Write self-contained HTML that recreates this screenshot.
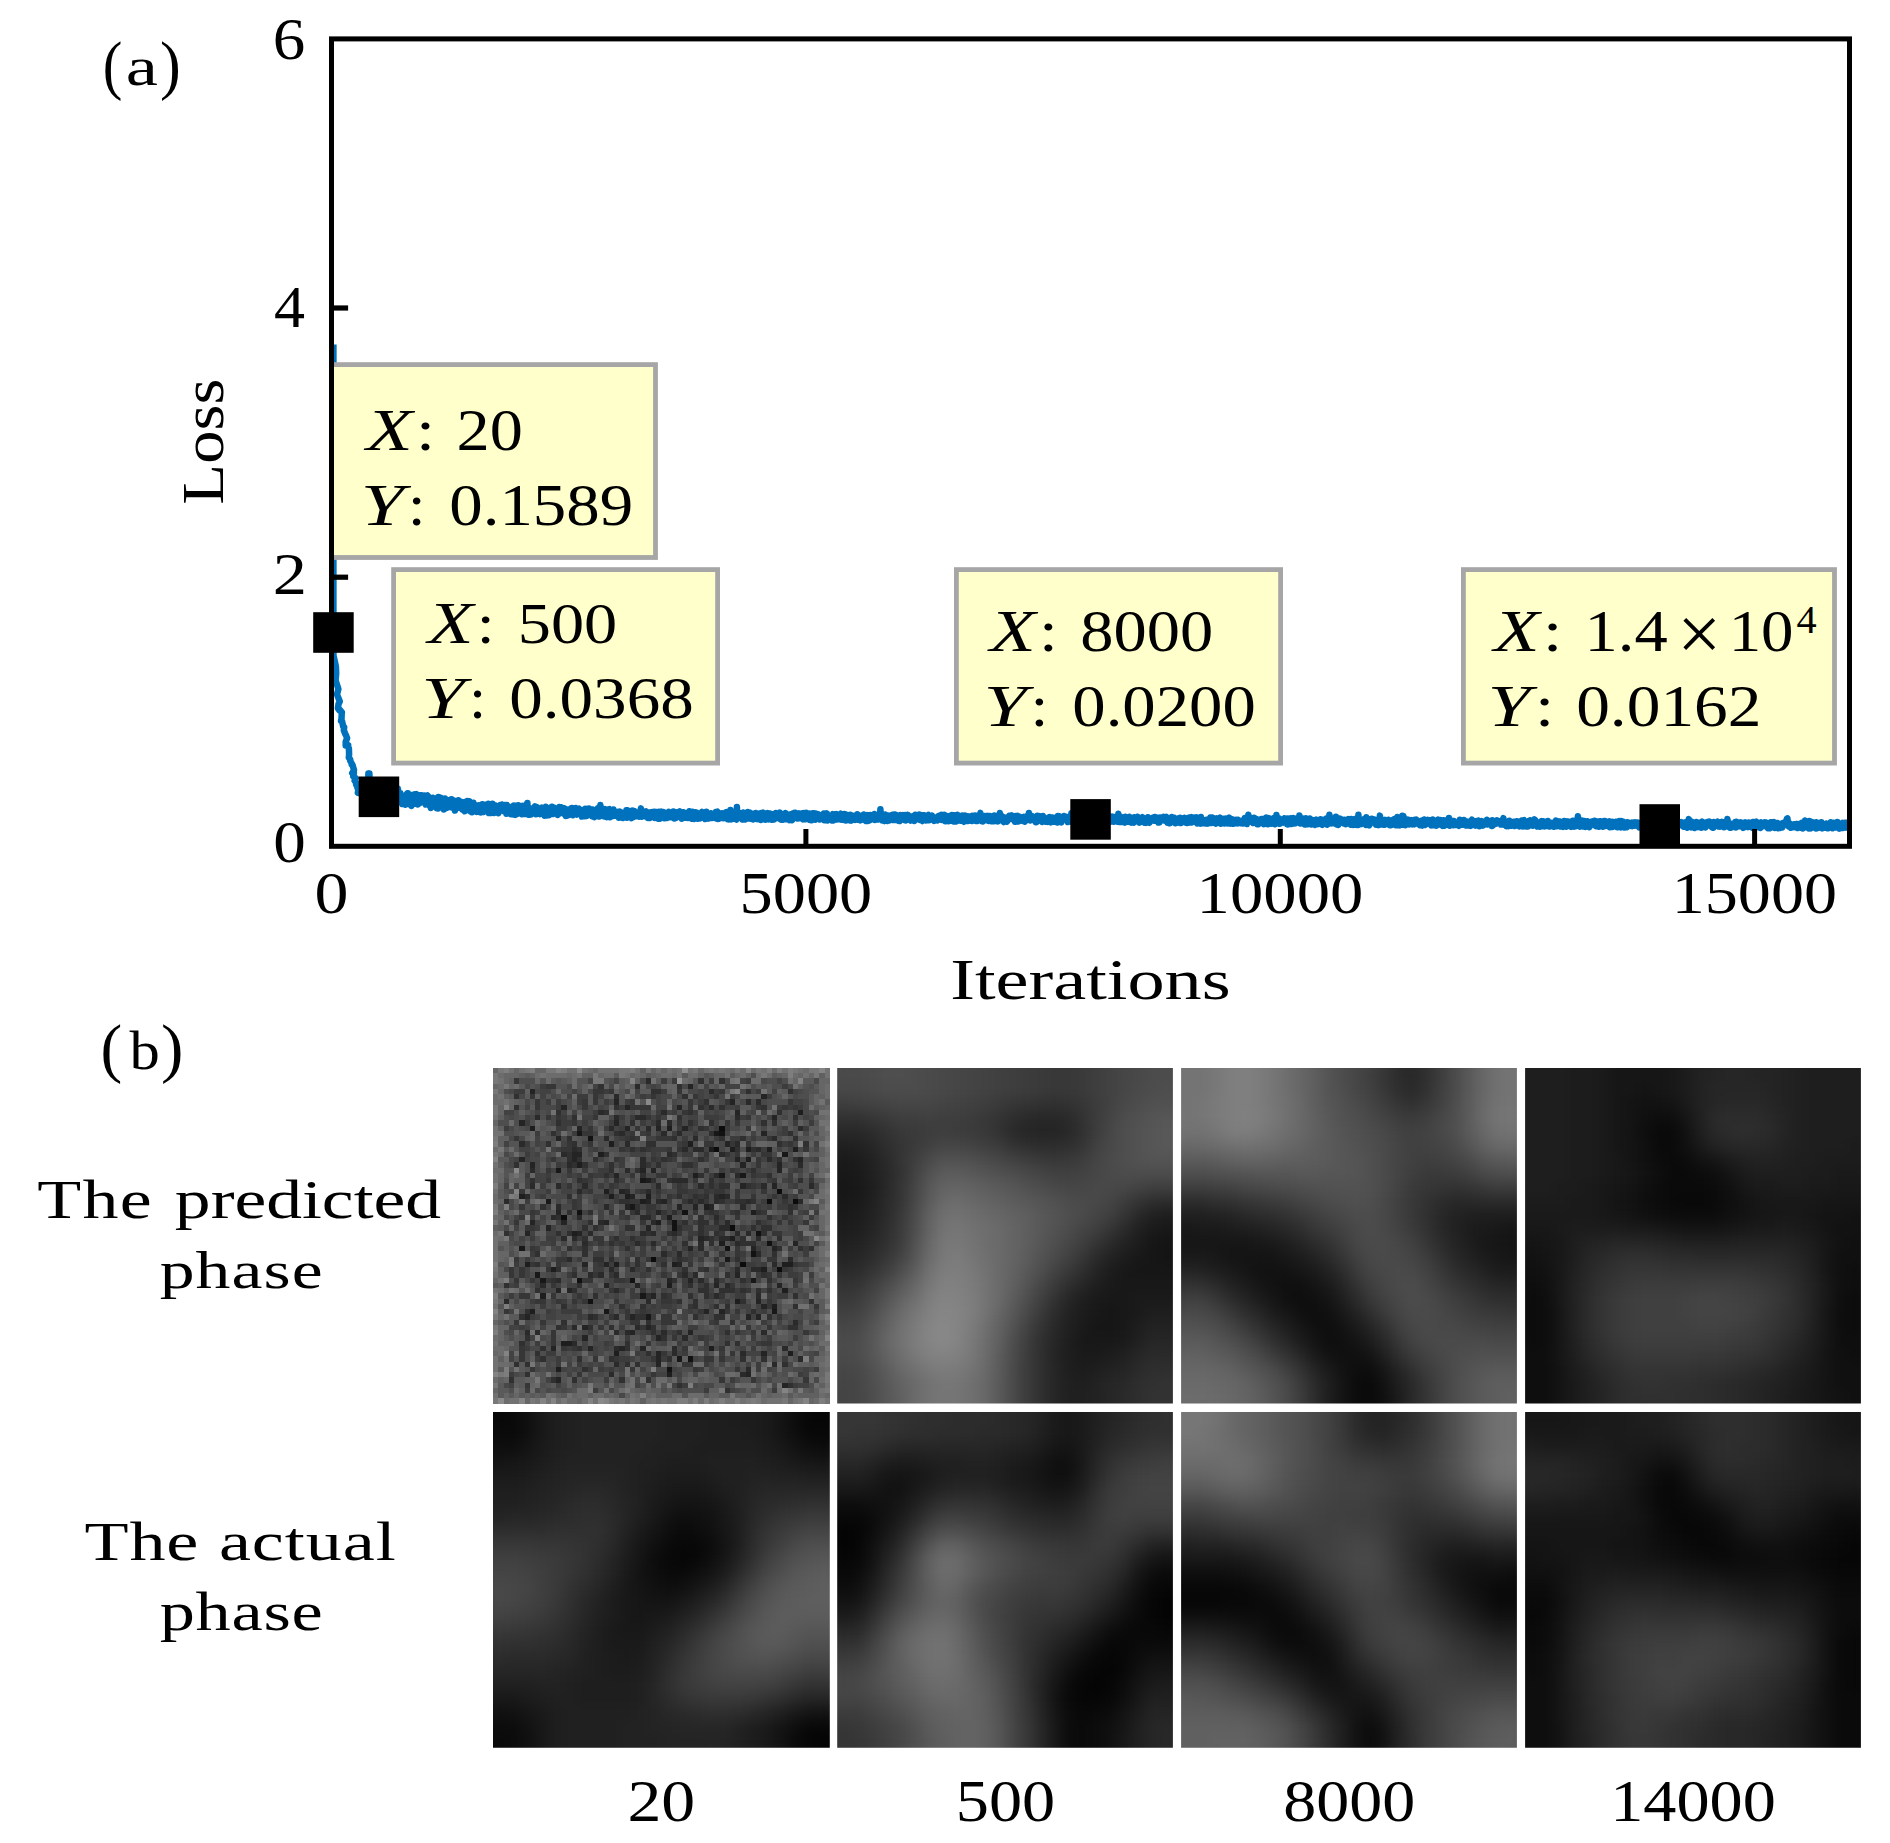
<!DOCTYPE html>
<html lang="en"><head><meta charset="utf-8"><title>Loss curve and phase maps</title>
<style>html,body{margin:0;padding:0;background:#fff}svg{display:block}text{font-family:"Liberation Serif",serif;font-kerning:none;fill:#000;white-space:pre}</style>
</head><body>
<svg width="1890" height="1843" viewBox="0 0 1890 1843">
<rect width="1890" height="1843" fill="#fff"/>
<polyline points="333.4,344.4 333.4,632.5 333.9,639.9 333.3,646.4 333.5,655.5 335.0,662.2 335.9,666.6 336.2,673.4 335.6,680.4 338.4,689.0 337.0,694.4 339.8,701.5 338.6,703.7 337.9,708.2 339.2,710.1 339.2,709.0 341.9,712.3 341.7,714.1 341.5,718.8 341.0,720.9 342.0,720.9 343.2,726.5 344.2,727.1 343.8,730.2 345.5,734.5 345.6,734.3 347.1,738.2 345.7,741.7 345.7,745.5 348.2,745.2 347.9,746.4 348.9,748.4 349.1,754.6 348.8,757.7 350.2,759.3 350.3,761.0 352.3,764.5 351.9,764.8 352.5,764.9 354.0,770.1 352.2,773.1 353.9,773.1 353.8,773.5 353.2,776.4 355.8,778.1 354.6,780.6 357.1,784.1 356.2,784.7 358.1,788.2 358.6,790.2 357.6,788.2 359.6,789.2 357.8,792.9 358.5,789.6 359.8,790.6 359.6,793.0 360.6,790.7 361.6,793.2 362.5,796.8 362.8,794.6 362.9,797.2 363.4,800.6 363.9,800.3 364.4,793.3 364.9,789.1 365.4,788.6 365.9,790.8 366.4,792.8 366.9,787.9 367.4,789.5 367.9,790.3 368.4,773.4 368.9,790.4 369.4,773.5 369.9,800.6 370.4,795.1 370.9,789.8 371.4,793.5 371.9,800.5 372.4,789.1 372.9,796.4 373.4,796.7 373.9,796.5 374.4,801.3 374.9,792.9 375.4,791.6 375.9,796.8 376.4,794.0 376.9,800.9 377.4,801.5 377.9,801.1 378.4,792.9 378.9,794.8 379.4,790.2 379.9,793.5 380.4,803.3 380.9,803.0 381.4,803.3 381.9,793.1 382.4,792.8 382.9,798.8 383.4,801.8 383.9,799.3 384.4,791.4 384.9,802.9 385.4,800.7 385.9,792.9 386.4,795.0 386.9,803.9 387.4,796.1 387.9,800.6 388.4,792.4 388.9,803.1 389.4,792.7 389.9,804.2 390.4,795.6 390.9,786.7 391.4,799.8 391.9,803.7 392.4,802.9 392.9,793.9 393.4,795.1 393.9,799.1 394.4,796.8 394.9,803.6 395.4,797.5 395.9,803.5 396.4,803.8 396.9,798.6 397.4,791.7 397.9,788.5 398.4,793.8 398.9,801.3 399.4,796.0 399.9,799.1 400.4,793.1 400.9,795.1 401.4,802.1 401.9,799.3 402.4,804.1 402.9,800.1 403.4,798.8 403.9,798.0 404.4,798.4 404.9,801.4 405.4,804.7 405.9,799.6 406.4,803.4 406.9,793.9 407.4,793.3 407.9,793.3 408.4,802.8 408.9,794.6 409.4,801.3 409.9,804.3 410.4,795.6 410.9,798.1 411.4,805.9 411.9,795.1 412.4,799.8 412.9,795.7 413.4,797.9 413.9,795.0 414.4,801.5 414.9,794.3 415.4,803.7 415.9,794.9 416.4,794.2 416.9,797.2 417.4,799.2 417.9,804.4 418.4,795.9 418.9,801.3 419.4,795.3 419.9,803.0 420.4,795.2 420.9,802.4 421.4,795.5 421.9,795.3 422.4,800.3 422.9,801.6 423.4,798.1 423.9,801.4 424.4,796.2 424.9,795.6 425.4,798.9 425.9,804.6 426.4,801.4 426.9,795.8 427.4,795.5 427.9,802.2 428.4,801.4 428.9,796.9 429.4,801.0 429.9,806.0 430.4,802.0 430.9,807.9 431.4,806.1 431.9,803.8 432.4,800.3 432.9,797.7 433.4,805.3 433.9,798.3 434.4,806.6 434.9,804.6 435.4,799.5 435.9,802.2 436.4,802.1 436.9,808.3 437.4,803.4 437.9,808.5 438.4,797.1 438.9,802.7 439.4,799.5 439.9,797.3 440.4,798.4 440.9,797.9 441.4,801.1 441.9,804.4 442.4,806.5 442.9,806.1 443.4,802.3 443.9,809.4 444.4,806.4 444.9,798.5 445.4,808.5 445.9,806.7 446.4,799.8 446.9,804.1 447.4,807.7 447.9,805.2 448.4,806.4 448.9,801.2 449.4,800.2 449.9,799.9 450.4,805.2 450.9,806.1 451.4,799.2 451.9,807.6 452.4,805.2 452.9,799.9 453.4,802.1 453.9,802.4 454.4,801.7 454.9,810.5 455.4,803.9 455.9,807.3 456.4,806.6 456.9,800.7 457.4,802.7 457.9,803.3 458.4,800.2 458.9,803.1 459.4,807.8 459.9,803.5 460.4,805.5 460.9,801.7 461.4,802.7 461.9,806.4 462.4,809.6 462.9,805.5 463.4,803.0 463.9,803.0 464.4,802.3 464.9,811.2 465.4,809.8 465.9,810.5 466.4,803.5 466.9,806.3 467.4,801.1 467.9,806.0 468.4,802.7 468.9,804.6 469.4,801.3 469.9,810.3 470.4,811.3 470.9,811.1 471.4,805.4 471.9,812.2 472.4,805.4 472.9,804.5 473.4,802.7 473.9,804.7 474.4,804.4 474.9,807.2 475.4,805.8 475.9,811.2 476.4,808.6 476.9,811.9 477.4,809.6 477.9,809.8 478.4,810.0 478.9,805.2 479.4,811.9 479.9,807.2 480.4,805.4 480.9,812.6 481.4,809.3 481.9,808.3 482.4,804.2 482.9,804.7 483.4,807.8 483.9,812.0 484.4,807.4 484.9,804.7 485.4,806.3 485.9,805.3 486.4,808.8 486.9,810.7 487.4,807.2 487.9,806.9 488.4,803.7 488.9,813.0 489.4,808.3 489.9,812.0 490.4,806.0 490.9,807.4 491.4,813.1 491.9,812.3 492.4,803.8 492.9,812.6 493.4,805.3 493.9,813.0 494.4,812.3 494.9,806.2 495.4,805.3 495.9,810.7 496.4,811.1 496.9,811.6 497.4,809.5 497.9,811.8 498.4,813.2 498.9,807.1 499.4,806.6 499.9,811.1 500.4,804.9 500.9,810.1 501.4,806.5 501.9,804.5 502.4,809.0 502.9,810.8 503.4,809.2 503.9,807.0 504.4,811.5 504.9,804.9 505.4,811.3 505.9,807.2 506.4,813.8 506.9,805.1 507.4,808.9 507.9,806.7 508.4,812.0 508.9,806.8 509.4,807.9 509.9,807.1 510.4,812.3 510.9,814.2 511.4,806.8 511.9,809.0 512.4,814.2 512.9,808.8 513.4,814.5 513.9,805.6 514.4,808.9 514.9,813.7 515.4,814.8 515.9,808.3 516.4,814.2 516.9,805.5 517.4,808.9 517.9,808.4 518.4,805.3 518.9,808.7 519.4,806.5 519.9,807.3 520.4,813.2 520.9,809.5 521.4,809.9 521.9,814.2 522.4,808.9 522.9,805.7 523.4,813.3 523.9,805.9 524.4,806.1 524.9,808.0 525.4,814.1 525.9,808.2 526.4,811.5 526.9,812.5 527.4,803.0 527.9,814.4 528.4,814.7 528.9,807.9 529.4,814.8 529.9,809.4 530.4,809.9 530.9,814.6 531.4,813.4 531.9,813.6 532.4,811.6 532.9,808.9 533.4,813.3 533.9,807.8 534.4,808.3 534.9,806.3 535.4,809.1 535.9,814.3 536.4,808.5 536.9,807.0 537.4,812.8 537.9,808.3 538.4,812.0 538.9,813.2 539.4,812.4 539.9,814.1 540.4,811.5 540.9,813.1 541.4,808.6 541.9,807.7 542.4,811.7 542.9,810.0 543.4,811.1 543.9,813.9 544.4,815.6 544.9,810.8 545.4,814.3 545.9,806.8 546.4,807.6 546.9,815.5 547.4,815.2 547.9,814.6 548.4,809.0 548.9,815.3 549.4,812.1 549.9,808.6 550.4,808.0 550.9,809.0 551.4,812.7 551.9,806.8 552.4,813.0 552.9,809.6 553.4,814.1 553.9,807.4 554.4,810.5 554.9,812.7 555.4,808.4 555.9,810.7 556.4,809.7 556.9,809.8 557.4,810.2 557.9,814.9 558.4,810.3 558.9,813.7 559.4,807.1 559.9,810.9 560.4,810.8 560.9,811.3 561.4,807.3 561.9,813.0 562.4,808.0 562.9,810.6 563.4,808.5 563.9,812.0 564.4,808.2 564.9,814.6 565.4,809.1 565.9,815.9 566.4,811.7 566.9,815.7 567.4,815.6 567.9,814.9 568.4,814.5 568.9,811.1 569.4,815.0 569.9,809.5 570.4,812.2 570.9,808.6 571.4,814.1 571.9,808.0 572.4,814.4 572.9,815.2 573.4,813.0 573.9,813.3 574.4,811.5 574.9,811.5 575.4,811.7 575.9,808.0 576.4,812.2 576.9,814.6 577.4,811.9 577.9,812.1 578.4,809.0 578.9,808.7 579.4,812.4 579.9,813.6 580.4,814.5 580.9,812.5 581.4,812.5 581.9,816.5 582.4,815.6 582.9,814.5 583.4,809.8 583.9,812.5 584.4,816.2 584.9,815.1 585.4,808.8 585.9,814.9 586.4,816.1 586.9,815.4 587.4,812.7 587.9,810.1 588.4,812.7 588.9,808.6 589.4,809.8 589.9,814.3 590.4,809.9 590.9,809.4 591.4,814.0 591.9,816.1 592.4,813.5 592.9,809.4 593.4,814.0 593.9,815.5 594.4,817.2 594.9,811.7 595.4,812.5 595.9,815.1 596.4,815.8 596.9,814.2 597.4,813.8 597.9,808.3 598.4,810.0 598.9,812.5 599.4,816.5 599.9,810.8 600.4,805.0 600.9,809.8 601.4,810.8 601.9,814.0 602.4,814.3 602.9,810.1 603.4,811.1 603.9,809.8 604.4,816.5 604.9,812.5 605.4,809.1 605.9,813.9 606.4,814.6 606.9,817.1 607.4,811.3 607.9,809.5 608.4,812.6 608.9,809.7 609.4,809.3 609.9,817.3 610.4,811.0 610.9,813.6 611.4,816.2 611.9,812.0 612.4,809.8 612.9,816.0 613.4,809.4 613.9,815.7 614.4,815.7 614.9,811.4 615.4,811.4 615.9,812.3 616.4,815.4 616.9,815.6 617.4,814.2 617.9,816.2 618.4,811.8 618.9,817.8 619.4,813.3 619.9,811.7 620.4,817.6 620.9,812.5 621.4,812.5 621.9,817.4 622.4,815.6 622.9,818.0 623.4,816.8 623.9,817.0 624.4,815.9 624.9,812.5 625.4,815.1 625.9,817.5 626.4,810.2 626.9,817.7 627.4,811.2 627.9,810.4 628.4,815.3 628.9,816.2 629.4,815.0 629.9,816.9 630.4,817.5 630.9,817.3 631.4,818.0 631.9,811.9 632.4,810.5 632.9,816.9 633.4,817.1 633.9,812.7 634.4,811.1 634.9,812.0 635.4,813.8 635.9,812.5 636.4,816.3 636.9,813.0 637.4,814.6 637.9,815.5 638.4,813.9 638.9,816.8 639.4,816.3 639.9,812.3 640.4,811.3 640.9,808.4 641.4,816.8 641.9,810.7 642.4,814.6 642.9,812.1 643.4,813.5 643.9,812.8 644.4,813.0 644.9,816.3 645.4,811.6 645.9,811.3 646.4,816.3 646.9,815.8 647.4,814.0 647.9,817.9 648.4,817.9 648.9,812.4 649.4,818.0 649.9,813.8 650.4,812.6 650.9,815.1 651.4,816.9 651.9,813.6 652.4,812.0 652.9,816.1 653.4,812.2 653.9,817.0 654.4,811.8 654.9,818.0 655.4,812.4 655.9,816.5 656.4,812.1 656.9,812.8 657.4,815.1 657.9,813.5 658.4,818.7 658.9,811.7 659.4,811.7 659.9,818.8 660.4,816.8 660.9,812.5 661.4,811.8 661.9,814.0 662.4,814.1 662.9,816.5 663.4,816.0 663.9,812.1 664.4,814.2 664.9,818.3 665.4,815.6 665.9,814.3 666.4,816.8 666.9,817.2 667.4,817.8 667.9,816.1 668.4,813.5 668.9,811.8 669.4,817.3 669.9,816.1 670.4,814.4 670.9,816.0 671.4,816.5 671.9,812.5 672.4,817.3 672.9,815.0 673.4,811.4 673.9,812.4 674.4,818.6 674.9,811.9 675.4,815.4 675.9,815.2 676.4,817.7 676.9,814.4 677.4,812.8 677.9,814.3 678.4,812.1 678.9,814.0 679.4,813.3 679.9,811.3 680.4,814.5 680.9,814.0 681.4,813.0 681.9,818.7 682.4,812.9 682.9,814.3 683.4,812.2 683.9,817.7 684.4,815.0 684.9,813.0 685.4,814.1 685.9,817.8 686.4,815.0 686.9,815.6 687.4,817.9 687.9,818.0 688.4,814.3 688.9,814.7 689.4,811.3 689.9,813.5 690.4,813.7 690.9,814.7 691.4,816.6 691.9,818.7 692.4,811.8 692.9,818.5 693.4,812.5 693.9,813.3 694.4,818.9 694.9,813.4 695.4,812.5 695.9,817.5 696.4,812.6 696.9,817.7 697.4,818.5 697.9,817.6 698.4,818.5 698.9,818.1 699.4,816.9 699.9,817.3 700.4,818.4 700.9,813.6 701.4,812.6 701.9,811.9 702.4,812.6 702.9,815.4 703.4,812.8 703.9,815.2 704.4,816.8 704.9,814.5 705.4,819.1 705.9,816.6 706.4,811.8 706.9,816.9 707.4,814.2 707.9,815.6 708.4,818.6 708.9,817.2 709.4,814.2 709.9,814.5 710.4,815.7 710.9,813.3 711.4,814.9 711.9,818.1 712.4,818.1 712.9,815.6 713.4,815.6 713.9,816.8 714.4,814.3 714.9,814.0 715.4,816.6 715.9,812.0 716.4,818.6 716.9,812.1 717.4,811.7 717.9,818.9 718.4,816.9 718.9,818.8 719.4,816.6 719.9,817.2 720.4,817.1 720.9,817.0 721.4,817.7 721.9,813.2 722.4,817.8 722.9,816.9 723.4,818.2 723.9,816.2 724.4,814.2 724.9,814.3 725.4,816.8 725.9,812.2 726.4,812.1 726.9,818.2 727.4,819.0 727.9,812.0 728.4,816.5 728.9,819.5 729.4,815.1 729.9,816.9 730.4,810.1 730.9,817.2 731.4,819.4 731.9,818.7 732.4,812.1 732.9,813.8 733.4,813.4 733.9,817.9 734.4,818.6 734.9,812.6 735.4,817.5 735.9,819.2 736.4,819.5 736.9,807.1 737.4,818.3 737.9,814.4 738.4,813.3 738.9,815.8 739.4,814.9 739.9,815.4 740.4,813.2 740.9,814.8 741.4,816.9 741.9,815.0 742.4,819.4 742.9,816.4 743.4,812.5 743.9,817.5 744.4,814.7 744.9,819.6 745.4,816.7 745.9,815.4 746.4,815.0 746.9,816.8 747.4,818.4 747.9,812.1 748.4,815.4 748.9,818.4 749.4,812.5 749.9,818.4 750.4,816.6 750.9,818.7 751.4,817.5 751.9,814.9 752.4,816.5 752.9,813.7 753.4,819.4 753.9,816.9 754.4,815.8 754.9,814.2 755.4,818.3 755.9,812.9 756.4,818.2 756.9,816.7 757.4,819.1 757.9,815.9 758.4,813.7 758.9,813.7 759.4,815.1 759.9,815.4 760.4,813.5 760.9,820.0 761.4,813.1 761.9,818.4 762.4,816.9 762.9,816.3 763.4,812.6 763.9,819.0 764.4,816.7 764.9,818.3 765.4,819.6 765.9,818.6 766.4,814.3 766.9,813.9 767.4,813.1 767.9,816.7 768.4,815.9 768.9,819.4 769.4,817.0 769.9,813.4 770.4,814.4 770.9,817.3 771.4,817.6 771.9,815.9 772.4,819.8 772.9,814.2 773.4,814.4 773.9,819.4 774.4,818.9 774.9,818.5 775.4,817.4 775.9,813.0 776.4,818.3 776.9,817.7 777.4,817.0 777.9,813.4 778.4,814.5 778.9,816.2 779.4,814.4 779.9,812.6 780.4,814.1 780.9,819.6 781.4,819.7 781.9,819.4 782.4,816.0 782.9,819.7 783.4,817.4 783.9,815.2 784.4,816.3 784.9,813.7 785.4,813.1 785.9,816.9 786.4,819.3 786.9,815.8 787.4,814.7 787.9,815.2 788.4,816.4 788.9,819.5 789.4,820.1 789.9,819.5 790.4,814.3 790.9,814.9 791.4,814.3 791.9,820.2 792.4,819.7 792.9,815.0 793.4,813.2 793.9,815.0 794.4,812.9 794.9,815.4 795.4,812.8 795.9,816.8 796.4,816.1 796.9,814.5 797.4,813.9 797.9,818.6 798.4,814.3 798.9,813.5 799.4,816.6 799.9,814.4 800.4,818.2 800.9,817.3 801.4,813.4 801.9,816.0 802.4,813.3 802.9,815.4 803.4,819.4 803.9,813.1 804.4,816.5 804.9,814.9 805.4,819.2 805.9,814.2 806.4,812.9 806.9,816.3 807.4,813.9 807.9,819.1 808.4,815.4 808.9,815.9 809.4,813.5 809.9,820.1 810.4,816.9 810.9,817.0 811.4,820.3 811.9,814.4 812.4,814.9 812.9,813.3 813.4,818.3 813.9,813.2 814.4,817.4 814.9,818.3 815.4,819.6 815.9,813.4 816.4,816.8 816.9,815.2 817.4,816.1 817.9,817.5 818.4,814.2 818.9,818.7 819.4,819.3 819.9,816.1 820.4,819.4 820.9,816.1 821.4,818.9 821.9,815.0 822.4,816.4 822.9,819.2 823.4,819.3 823.9,813.6 824.4,820.3 824.9,815.1 825.4,817.9 825.9,817.2 826.4,816.5 826.9,813.4 827.4,820.4 827.9,820.2 828.4,819.3 828.9,819.8 829.4,818.0 829.9,818.3 830.4,817.3 830.9,817.9 831.4,817.2 831.9,820.4 832.4,815.6 832.9,814.2 833.4,820.4 833.9,815.3 834.4,817.3 834.9,814.3 835.4,815.6 835.9,815.5 836.4,814.1 836.9,819.6 837.4,817.6 837.9,814.9 838.4,816.8 838.9,817.9 839.4,815.7 839.9,815.1 840.4,816.3 840.9,813.6 841.4,819.8 841.9,817.6 842.4,815.6 842.9,815.7 843.4,814.7 843.9,819.9 844.4,814.0 844.9,816.7 845.4,814.3 845.9,820.6 846.4,814.7 846.9,816.1 847.4,818.1 847.9,819.6 848.4,819.0 848.9,819.1 849.4,819.3 849.9,820.3 850.4,814.7 850.9,817.9 851.4,820.6 851.9,816.7 852.4,820.0 852.9,816.4 853.4,817.0 853.9,815.8 854.4,817.7 854.9,816.0 855.4,819.9 855.9,816.9 856.4,815.9 856.9,817.9 857.4,814.3 857.9,816.1 858.4,819.8 858.9,815.2 859.4,817.2 859.9,817.8 860.4,820.4 860.9,817.7 861.4,817.5 861.9,818.7 862.4,816.4 862.9,816.3 863.4,818.7 863.9,814.5 864.4,816.7 864.9,818.0 865.4,820.8 865.9,817.0 866.4,821.0 866.9,817.7 867.4,815.1 867.9,820.9 868.4,817.6 868.9,820.3 869.4,819.8 869.9,820.3 870.4,815.0 870.9,817.6 871.4,815.3 871.9,818.5 872.4,816.5 872.9,818.5 873.4,816.9 873.9,816.2 874.4,814.0 874.9,820.0 875.4,818.8 875.9,817.6 876.4,815.9 876.9,817.8 877.4,818.1 877.9,814.9 878.4,819.5 878.9,814.7 879.4,817.8 879.9,818.4 880.4,809.2 880.9,816.4 881.4,816.6 881.9,816.0 882.4,820.5 882.9,816.6 883.4,816.8 883.9,820.5 884.4,821.0 884.9,818.5 885.4,814.4 885.9,820.2 886.4,820.6 886.9,816.3 887.4,821.0 887.9,820.9 888.4,816.9 888.9,815.7 889.4,820.4 889.9,819.8 890.4,815.4 890.9,815.5 891.4,816.3 891.9,815.0 892.4,817.0 892.9,814.7 893.4,820.1 893.9,816.0 894.4,816.3 894.9,814.5 895.4,816.7 895.9,819.3 896.4,816.2 896.9,815.2 897.4,820.2 897.9,815.4 898.4,819.4 898.9,821.1 899.4,821.1 899.9,815.9 900.4,815.3 900.9,816.2 901.4,818.5 901.9,816.1 902.4,815.9 902.9,815.2 903.4,818.2 903.9,819.8 904.4,819.0 904.9,816.6 905.4,815.0 905.9,820.4 906.4,819.1 906.9,818.4 907.4,818.0 907.9,814.9 908.4,816.0 908.9,819.5 909.4,817.3 909.9,819.9 910.4,820.5 910.9,816.4 911.4,819.3 911.9,817.0 912.4,819.1 912.9,816.3 913.4,817.0 913.9,815.8 914.4,820.9 914.9,819.5 915.4,814.8 915.9,815.9 916.4,817.2 916.9,816.7 917.4,815.8 917.9,818.6 918.4,816.3 918.9,819.4 919.4,814.6 919.9,820.0 920.4,814.9 920.9,818.8 921.4,816.3 921.9,820.1 922.4,821.0 922.9,815.2 923.4,817.4 923.9,820.4 924.4,815.2 924.9,817.6 925.4,819.5 925.9,820.4 926.4,817.8 926.9,819.5 927.4,818.2 927.9,815.5 928.4,815.0 928.9,820.3 929.4,818.5 929.9,819.1 930.4,816.4 930.9,817.2 931.4,816.1 931.9,815.6 932.4,819.4 932.9,816.4 933.4,817.8 933.9,817.2 934.4,820.9 934.9,818.6 935.4,820.4 935.9,820.0 936.4,819.4 936.9,817.9 937.4,820.5 937.9,816.8 938.4,816.2 938.9,816.7 939.4,819.6 939.9,815.5 940.4,818.0 940.9,815.9 941.4,814.8 941.9,820.0 942.4,819.8 942.9,818.7 943.4,818.2 943.9,816.1 944.4,814.8 944.9,819.3 945.4,821.3 945.9,816.6 946.4,815.8 946.9,820.2 947.4,816.9 947.9,819.3 948.4,821.3 948.9,820.3 949.4,820.0 949.9,816.1 950.4,817.1 950.9,818.7 951.4,820.6 951.9,815.1 952.4,819.2 952.9,819.8 953.4,821.4 953.9,818.3 954.4,817.0 954.9,815.4 955.4,816.0 955.9,821.6 956.4,815.2 956.9,816.2 957.4,814.9 957.9,820.8 958.4,817.9 958.9,819.5 959.4,817.8 959.9,818.0 960.4,820.7 960.9,816.1 961.4,818.0 961.9,817.4 962.4,815.5 962.9,818.1 963.4,821.2 963.9,821.7 964.4,819.3 964.9,815.4 965.4,819.2 965.9,818.9 966.4,818.3 966.9,817.1 967.4,821.1 967.9,816.3 968.4,818.1 968.9,819.6 969.4,819.0 969.9,818.7 970.4,817.8 970.9,816.3 971.4,818.8 971.9,821.0 972.4,815.7 972.9,816.8 973.4,818.9 973.9,819.0 974.4,818.6 974.9,815.6 975.4,815.6 975.9,821.0 976.4,820.0 976.9,815.9 977.4,820.0 977.9,820.8 978.4,816.3 978.9,819.0 979.4,816.0 979.9,815.5 980.4,812.9 980.9,816.6 981.4,820.0 981.9,821.2 982.4,821.1 982.9,821.4 983.4,816.3 983.9,817.5 984.4,819.8 984.9,816.0 985.4,820.2 985.9,820.1 986.4,819.3 986.9,818.9 987.4,815.9 987.9,819.8 988.4,816.5 988.9,820.9 989.4,816.0 989.9,815.9 990.4,816.5 990.9,817.2 991.4,817.8 991.9,821.2 992.4,819.9 992.9,817.7 993.4,816.3 993.9,821.2 994.4,815.5 994.9,820.8 995.4,817.9 995.9,816.3 996.4,817.9 996.9,819.4 997.4,817.5 997.9,821.4 998.4,815.6 998.9,817.7 999.4,819.2 999.9,813.0 1000.4,817.6 1000.9,818.4 1001.4,815.6 1001.9,819.9 1002.4,817.2 1002.9,817.1 1003.4,818.9 1003.9,822.1 1004.4,819.1 1004.9,821.3 1005.4,819.6 1005.9,817.8 1006.4,820.8 1006.9,821.7 1007.4,817.4 1007.9,820.4 1008.4,819.7 1008.9,819.1 1009.4,815.8 1009.9,817.6 1010.4,818.6 1010.9,817.0 1011.4,817.8 1011.9,815.4 1012.4,818.5 1012.9,819.3 1013.4,816.5 1013.9,817.5 1014.4,820.3 1014.9,821.8 1015.4,821.7 1015.9,816.0 1016.4,819.4 1016.9,817.9 1017.4,818.3 1017.9,815.9 1018.4,821.5 1018.9,817.2 1019.4,816.6 1019.9,820.2 1020.4,818.2 1020.9,819.6 1021.4,819.9 1021.9,820.4 1022.4,819.6 1022.9,821.0 1023.4,817.8 1023.9,816.8 1024.4,821.4 1024.9,821.7 1025.4,817.7 1025.9,819.9 1026.4,820.1 1026.9,815.9 1027.4,815.8 1027.9,817.8 1028.4,819.6 1028.9,812.9 1029.4,819.4 1029.9,815.9 1030.4,820.4 1030.9,816.2 1031.4,816.5 1031.9,816.2 1032.4,818.4 1032.9,819.5 1033.4,820.0 1033.9,817.8 1034.4,817.3 1034.9,820.7 1035.4,817.7 1035.9,822.2 1036.4,817.5 1036.9,821.9 1037.4,815.7 1037.9,820.0 1038.4,818.1 1038.9,817.2 1039.4,816.2 1039.9,816.5 1040.4,819.0 1040.9,816.9 1041.4,818.1 1041.9,816.8 1042.4,821.9 1042.9,815.9 1043.4,817.3 1043.9,819.0 1044.4,818.0 1044.9,818.8 1045.4,821.8 1045.9,820.6 1046.4,820.0 1046.9,821.5 1047.4,819.5 1047.9,821.9 1048.4,819.9 1048.9,817.4 1049.4,818.6 1049.9,817.1 1050.4,820.0 1050.9,822.4 1051.4,819.6 1051.9,821.5 1052.4,817.5 1052.9,821.3 1053.4,818.0 1053.9,821.7 1054.4,820.3 1054.9,818.8 1055.4,821.7 1055.9,821.7 1056.4,821.0 1056.9,817.0 1057.4,822.4 1057.9,816.0 1058.4,816.6 1058.9,816.8 1059.4,816.5 1059.9,820.4 1060.4,818.1 1060.9,820.6 1061.4,822.4 1061.9,817.4 1062.4,820.4 1062.9,819.2 1063.4,818.7 1063.9,816.0 1064.4,818.0 1064.9,816.7 1065.4,816.8 1065.9,817.1 1066.4,816.9 1066.9,819.2 1067.4,818.2 1067.9,822.0 1068.4,817.3 1068.9,821.8 1069.4,817.7 1069.9,817.7 1070.4,816.2 1070.9,818.6 1071.4,813.3 1071.9,820.3 1072.4,819.6 1072.9,822.5 1073.4,820.7 1073.9,818.1 1074.4,822.4 1074.9,818.5 1075.4,816.9 1075.9,816.0 1076.4,822.1 1076.9,820.0 1077.4,817.6 1077.9,816.7 1078.4,821.2 1078.9,816.3 1079.4,818.1 1079.9,819.6 1080.4,817.2 1080.9,821.7 1081.4,819.9 1081.9,817.6 1082.4,820.9 1082.9,820.7 1083.4,819.5 1083.9,820.5 1084.4,820.2 1084.9,817.5 1085.4,817.8 1085.9,819.2 1086.4,819.5 1086.9,817.5 1087.4,822.2 1087.9,819.5 1088.4,821.4 1088.9,817.2 1089.4,819.1 1089.9,821.5 1090.4,821.8 1090.9,818.6 1091.4,821.5 1091.9,817.1 1092.4,816.8 1092.9,821.4 1093.4,819.1 1093.9,818.7 1094.4,820.7 1094.9,819.3 1095.4,821.1 1095.9,820.6 1096.4,819.6 1096.9,818.6 1097.4,815.1 1097.9,819.9 1098.4,817.3 1098.9,818.0 1099.4,817.8 1099.9,816.8 1100.4,821.8 1100.9,819.0 1101.4,820.3 1101.9,816.5 1102.4,818.6 1102.9,818.2 1103.4,820.5 1103.9,818.5 1104.4,820.0 1104.9,817.5 1105.4,820.9 1105.9,820.6 1106.4,816.7 1106.9,818.7 1107.4,819.5 1107.9,821.2 1108.4,820.2 1108.9,819.3 1109.4,819.0 1109.9,822.1 1110.4,819.5 1110.9,821.7 1111.4,821.2 1111.9,816.6 1112.4,819.9 1112.9,821.4 1113.4,817.8 1113.9,821.7 1114.4,816.9 1114.9,820.0 1115.4,820.8 1115.9,819.5 1116.4,820.9 1116.9,820.2 1117.4,821.7 1117.9,817.3 1118.4,813.8 1118.9,818.2 1119.4,818.4 1119.9,822.0 1120.4,819.7 1120.9,816.7 1121.4,822.1 1121.9,822.0 1122.4,817.7 1122.9,819.9 1123.4,819.5 1123.9,820.3 1124.4,821.7 1124.9,822.5 1125.4,816.8 1125.9,819.9 1126.4,820.2 1126.9,818.2 1127.4,818.4 1127.9,821.7 1128.4,819.4 1128.9,819.4 1129.4,816.8 1129.9,820.7 1130.4,822.2 1130.9,820.4 1131.4,822.6 1131.9,821.8 1132.4,820.9 1132.9,818.4 1133.4,822.0 1133.9,822.6 1134.4,817.2 1134.9,821.7 1135.4,819.2 1135.9,818.2 1136.4,821.0 1136.9,816.9 1137.4,816.8 1137.9,818.5 1138.4,820.4 1138.9,820.2 1139.4,822.6 1139.9,822.1 1140.4,821.8 1140.9,819.1 1141.4,819.1 1141.9,818.0 1142.4,817.2 1142.9,821.4 1143.4,821.1 1143.9,822.1 1144.4,822.7 1144.9,822.8 1145.4,818.5 1145.9,821.6 1146.4,822.8 1146.9,819.8 1147.4,820.6 1147.9,817.2 1148.4,818.4 1148.9,822.2 1149.4,822.7 1149.9,820.6 1150.4,818.9 1150.9,821.0 1151.4,818.9 1151.9,818.3 1152.4,817.9 1152.9,818.6 1153.4,820.4 1153.9,820.3 1154.4,820.6 1154.9,816.9 1155.4,817.3 1155.9,817.6 1156.4,819.0 1156.9,821.1 1157.4,817.8 1157.9,818.9 1158.4,822.5 1158.9,817.7 1159.4,822.5 1159.9,820.0 1160.4,817.5 1160.9,817.8 1161.4,820.1 1161.9,818.1 1162.4,818.1 1162.9,818.4 1163.4,820.1 1163.9,816.9 1164.4,820.0 1164.9,820.6 1165.4,818.3 1165.9,817.8 1166.4,817.0 1166.9,820.2 1167.4,822.7 1167.9,820.6 1168.4,820.8 1168.9,821.5 1169.4,818.5 1169.9,823.3 1170.4,820.9 1170.9,822.2 1171.4,822.2 1171.9,817.1 1172.4,819.6 1172.9,817.4 1173.4,821.7 1173.9,817.9 1174.4,817.8 1174.9,818.3 1175.4,823.3 1175.9,822.1 1176.4,820.2 1176.9,822.9 1177.4,821.1 1177.9,821.0 1178.4,822.1 1178.9,821.7 1179.4,818.0 1179.9,821.4 1180.4,817.8 1180.9,823.1 1181.4,821.9 1181.9,822.2 1182.4,819.8 1182.9,822.1 1183.4,818.9 1183.9,820.5 1184.4,817.7 1184.9,822.2 1185.4,822.5 1185.9,818.3 1186.4,818.6 1186.9,823.0 1187.4,821.7 1187.9,822.2 1188.4,821.5 1188.9,822.5 1189.4,817.6 1189.9,822.5 1190.4,821.0 1190.9,817.8 1191.4,817.1 1191.9,822.4 1192.4,821.0 1192.9,819.3 1193.4,819.4 1193.9,821.2 1194.4,817.6 1194.9,821.7 1195.4,821.4 1195.9,817.9 1196.4,817.4 1196.9,818.3 1197.4,823.4 1197.9,818.6 1198.4,821.1 1198.9,819.7 1199.4,823.4 1199.9,823.6 1200.4,822.6 1200.9,817.1 1201.4,823.4 1201.9,822.5 1202.4,819.5 1202.9,820.8 1203.4,820.5 1203.9,823.3 1204.4,821.6 1204.9,821.3 1205.4,823.5 1205.9,821.5 1206.4,819.7 1206.9,821.7 1207.4,820.5 1207.9,823.6 1208.4,822.7 1208.9,820.9 1209.4,822.2 1209.9,822.0 1210.4,817.5 1210.9,818.1 1211.4,823.1 1211.9,821.1 1212.4,817.5 1212.9,822.2 1213.4,819.1 1213.9,819.2 1214.4,820.0 1214.9,821.5 1215.4,821.7 1215.9,823.6 1216.4,821.8 1216.9,818.4 1217.4,822.7 1217.9,819.6 1218.4,820.7 1218.9,818.4 1219.4,818.4 1219.9,817.7 1220.4,819.8 1220.9,823.7 1221.4,819.4 1221.9,818.6 1222.4,820.2 1222.9,819.1 1223.4,819.9 1223.9,819.1 1224.4,823.4 1224.9,822.9 1225.4,822.5 1225.9,818.4 1226.4,820.5 1226.9,821.8 1227.4,819.2 1227.9,823.4 1228.4,819.3 1228.9,819.1 1229.4,817.7 1229.9,821.1 1230.4,823.6 1230.9,819.0 1231.4,821.0 1231.9,821.9 1232.4,822.8 1232.9,819.5 1233.4,823.8 1233.9,822.0 1234.4,820.1 1234.9,822.4 1235.4,820.0 1235.9,819.8 1236.4,823.2 1236.9,820.9 1237.4,823.4 1237.9,819.7 1238.4,820.2 1238.9,823.1 1239.4,821.3 1239.9,821.3 1240.4,823.1 1240.9,823.0 1241.4,821.9 1241.9,820.8 1242.4,823.5 1242.9,822.9 1243.4,823.3 1243.9,822.2 1244.4,821.6 1244.9,818.0 1245.4,823.0 1245.9,819.0 1246.4,818.2 1246.9,824.0 1247.4,819.9 1247.9,818.1 1248.4,814.8 1248.9,818.5 1249.4,818.0 1249.9,821.3 1250.4,817.9 1250.9,818.3 1251.4,821.8 1251.9,819.8 1252.4,819.1 1252.9,819.0 1253.4,823.0 1253.9,817.8 1254.4,817.8 1254.9,820.4 1255.4,821.8 1255.9,821.5 1256.4,821.0 1256.9,819.2 1257.4,824.2 1257.9,824.0 1258.4,824.2 1258.9,820.8 1259.4,820.7 1259.9,822.4 1260.4,819.9 1260.9,820.4 1261.4,819.0 1261.9,821.1 1262.4,819.0 1262.9,819.0 1263.4,821.4 1263.9,824.1 1264.4,824.0 1264.9,822.5 1265.4,818.2 1265.9,817.8 1266.4,822.5 1266.9,819.5 1267.4,818.8 1267.9,824.3 1268.4,818.1 1268.9,820.1 1269.4,823.1 1269.9,818.5 1270.4,818.8 1270.9,820.9 1271.4,823.8 1271.9,820.9 1272.4,818.7 1272.9,821.5 1273.4,819.2 1273.9,818.0 1274.4,822.5 1274.9,824.3 1275.4,822.7 1275.9,823.2 1276.4,815.1 1276.9,821.7 1277.4,817.9 1277.9,823.0 1278.4,818.1 1278.9,821.4 1279.4,820.0 1279.9,823.7 1280.4,822.1 1280.9,819.5 1281.4,820.4 1281.9,821.8 1282.4,819.2 1282.9,821.8 1283.4,822.6 1283.9,818.4 1284.4,818.3 1284.9,820.6 1285.4,822.6 1285.9,822.2 1286.4,821.1 1286.9,823.9 1287.4,818.4 1287.9,824.5 1288.4,820.5 1288.9,823.4 1289.4,822.9 1289.9,818.6 1290.4,823.3 1290.9,818.3 1291.4,824.1 1291.9,822.4 1292.4,822.2 1292.9,819.7 1293.4,818.1 1293.9,818.7 1294.4,822.7 1294.9,823.3 1295.4,821.4 1295.9,823.2 1296.4,818.5 1296.9,821.7 1297.4,821.4 1297.9,822.0 1298.4,818.6 1298.9,821.7 1299.4,815.4 1299.9,818.2 1300.4,823.4 1300.9,818.9 1301.4,819.4 1301.9,818.8 1302.4,821.7 1302.9,818.7 1303.4,823.7 1303.9,818.8 1304.4,820.1 1304.9,819.1 1305.4,824.6 1305.9,818.2 1306.4,818.9 1306.9,822.1 1307.4,821.1 1307.9,822.2 1308.4,824.2 1308.9,823.4 1309.4,823.7 1309.9,818.4 1310.4,823.8 1310.9,824.0 1311.4,824.4 1311.9,822.8 1312.4,820.2 1312.9,820.3 1313.4,821.1 1313.9,822.5 1314.4,823.2 1314.9,824.8 1315.4,820.0 1315.9,820.9 1316.4,819.7 1316.9,824.3 1317.4,823.3 1317.9,824.1 1318.4,821.8 1318.9,823.7 1319.4,822.4 1319.9,821.8 1320.4,819.3 1320.9,822.6 1321.4,824.5 1321.9,824.3 1322.4,824.7 1322.9,819.7 1323.4,820.5 1323.9,823.0 1324.4,819.5 1324.9,822.8 1325.4,823.2 1325.9,820.0 1326.4,818.5 1326.9,819.7 1327.4,824.7 1327.9,822.2 1328.4,822.3 1328.9,820.3 1329.4,814.7 1329.9,819.3 1330.4,821.6 1330.9,822.9 1331.4,823.4 1331.9,819.0 1332.4,821.1 1332.9,821.3 1333.4,819.0 1333.9,820.6 1334.4,818.6 1334.9,819.9 1335.4,823.7 1335.9,816.7 1336.4,824.4 1336.9,822.8 1337.4,822.8 1337.9,819.4 1338.4,824.9 1338.9,822.7 1339.4,819.9 1339.9,818.5 1340.4,819.3 1340.9,820.9 1341.4,819.4 1341.9,820.1 1342.4,821.9 1342.9,820.1 1343.4,820.4 1343.9,823.5 1344.4,819.8 1344.9,821.0 1345.4,822.7 1345.9,824.2 1346.4,822.9 1346.9,820.1 1347.4,821.4 1347.9,821.6 1348.4,819.1 1348.9,821.7 1349.4,820.1 1349.9,819.3 1350.4,820.9 1350.9,824.7 1351.4,819.0 1351.9,823.5 1352.4,824.3 1352.9,824.2 1353.4,824.8 1353.9,820.2 1354.4,824.3 1354.9,819.1 1355.4,824.7 1355.9,823.4 1356.4,821.6 1356.9,820.0 1357.4,821.0 1357.9,825.1 1358.4,814.8 1358.9,822.0 1359.4,821.7 1359.9,822.2 1360.4,821.9 1360.9,822.9 1361.4,824.0 1361.9,823.5 1362.4,821.1 1362.9,819.9 1363.4,822.6 1363.9,819.2 1364.4,818.9 1364.9,819.6 1365.4,823.6 1365.9,824.9 1366.4,817.3 1366.9,820.2 1367.4,822.1 1367.9,822.0 1368.4,822.8 1368.9,824.2 1369.4,825.3 1369.9,820.2 1370.4,820.9 1370.9,821.0 1371.4,818.9 1371.9,819.8 1372.4,818.8 1372.9,820.5 1373.4,822.5 1373.9,819.7 1374.4,819.6 1374.9,819.8 1375.4,822.2 1375.9,824.6 1376.4,820.3 1376.9,822.7 1377.4,821.5 1377.9,823.2 1378.4,825.1 1378.9,825.0 1379.4,819.2 1379.9,815.6 1380.4,820.7 1380.9,824.6 1381.4,822.3 1381.9,824.2 1382.4,822.2 1382.9,820.5 1383.4,822.7 1383.9,824.8 1384.4,820.1 1384.9,824.8 1385.4,820.1 1385.9,820.6 1386.4,821.3 1386.9,823.3 1387.4,823.8 1387.9,822.0 1388.4,819.7 1388.9,823.4 1389.4,823.2 1389.9,825.2 1390.4,820.4 1390.9,825.2 1391.4,821.6 1391.9,824.9 1392.4,823.8 1392.9,823.3 1393.4,819.8 1393.9,820.4 1394.4,819.2 1394.9,821.6 1395.4,819.5 1395.9,825.2 1396.4,821.3 1396.9,821.8 1397.4,817.1 1397.9,820.0 1398.4,825.3 1398.9,824.5 1399.4,823.2 1399.9,825.4 1400.4,824.0 1400.9,820.7 1401.4,823.0 1401.9,824.8 1402.4,815.7 1402.9,823.8 1403.4,816.0 1403.9,819.9 1404.4,820.8 1404.9,822.2 1405.4,825.2 1405.9,820.0 1406.4,822.5 1406.9,821.8 1407.4,820.8 1407.9,819.6 1408.4,819.7 1408.9,823.7 1409.4,824.3 1409.9,821.3 1410.4,820.3 1410.9,822.8 1411.4,820.1 1411.9,821.6 1412.4,820.6 1412.9,824.4 1413.4,823.0 1413.9,823.8 1414.4,824.3 1414.9,819.7 1415.4,822.8 1415.9,820.4 1416.4,819.8 1416.9,820.7 1417.4,821.9 1417.9,823.9 1418.4,823.9 1418.9,821.1 1419.4,823.7 1419.9,825.1 1420.4,821.2 1420.9,820.9 1421.4,820.7 1421.9,824.6 1422.4,825.5 1422.9,821.2 1423.4,823.9 1423.9,823.2 1424.4,819.5 1424.9,820.2 1425.4,825.0 1425.9,820.5 1426.4,822.6 1426.9,821.6 1427.4,822.7 1427.9,819.9 1428.4,821.8 1428.9,820.9 1429.4,820.7 1429.9,822.4 1430.4,824.3 1430.9,822.2 1431.4,825.4 1431.9,820.0 1432.4,823.5 1432.9,819.5 1433.4,825.3 1433.9,822.4 1434.4,821.3 1434.9,824.2 1435.4,822.2 1435.9,821.9 1436.4,825.7 1436.9,821.2 1437.4,820.2 1437.9,819.8 1438.4,822.8 1438.9,820.4 1439.4,824.4 1439.9,821.6 1440.4,820.9 1440.9,820.1 1441.4,824.2 1441.9,825.3 1442.4,825.7 1442.9,821.3 1443.4,824.1 1443.9,820.2 1444.4,825.7 1444.9,824.7 1445.4,821.0 1445.9,822.5 1446.4,820.4 1446.9,821.5 1447.4,824.3 1447.9,820.6 1448.4,824.8 1448.9,817.9 1449.4,823.4 1449.9,825.7 1450.4,825.0 1450.9,821.2 1451.4,821.9 1451.9,821.9 1452.4,820.9 1452.9,822.1 1453.4,825.3 1453.9,821.1 1454.4,824.8 1454.9,824.3 1455.4,824.8 1455.9,823.8 1456.4,825.0 1456.9,823.0 1457.4,824.9 1457.9,825.1 1458.4,825.3 1458.9,825.7 1459.4,824.0 1459.9,819.8 1460.4,823.1 1460.9,821.7 1461.4,824.7 1461.9,820.9 1462.4,821.2 1462.9,821.7 1463.4,824.8 1463.9,820.0 1464.4,824.4 1464.9,822.6 1465.4,824.8 1465.9,821.6 1466.4,825.5 1466.9,825.5 1467.4,821.6 1467.9,823.4 1468.4,823.4 1468.9,823.0 1469.4,822.3 1469.9,824.0 1470.4,822.0 1470.9,825.9 1471.4,820.4 1471.9,819.8 1472.4,822.5 1472.9,822.4 1473.4,823.1 1473.9,824.8 1474.4,821.1 1474.9,824.9 1475.4,825.5 1475.9,822.5 1476.4,824.3 1476.9,821.0 1477.4,821.8 1477.9,820.9 1478.4,823.0 1478.9,820.6 1479.4,826.3 1479.9,824.9 1480.4,825.7 1480.9,824.7 1481.4,822.1 1481.9,821.1 1482.4,823.0 1482.9,825.6 1483.4,823.1 1483.9,823.4 1484.4,823.9 1484.9,822.5 1485.4,821.4 1485.9,822.5 1486.4,822.8 1486.9,819.8 1487.4,824.5 1487.9,821.3 1488.4,823.2 1488.9,823.7 1489.4,821.1 1489.9,824.5 1490.4,824.5 1490.9,821.6 1491.4,825.9 1491.9,826.0 1492.4,820.3 1492.9,825.0 1493.4,820.7 1493.9,824.0 1494.4,822.0 1494.9,821.4 1495.4,820.9 1495.9,823.9 1496.4,820.9 1496.9,820.4 1497.4,821.9 1497.9,821.0 1498.4,822.7 1498.9,823.0 1499.4,822.9 1499.9,823.7 1500.4,821.0 1500.9,824.5 1501.4,822.5 1501.9,822.7 1502.4,824.4 1502.9,820.9 1503.4,818.1 1503.9,824.7 1504.4,824.0 1504.9,822.5 1505.4,821.9 1505.9,824.3 1506.4,826.2 1506.9,822.3 1507.4,825.1 1507.9,824.4 1508.4,826.1 1508.9,822.6 1509.4,820.7 1509.9,825.2 1510.4,822.1 1510.9,823.2 1511.4,825.8 1511.9,823.5 1512.4,824.2 1512.9,822.1 1513.4,824.0 1513.9,821.7 1514.4,822.5 1514.9,826.0 1515.4,821.8 1515.9,825.4 1516.4,824.5 1516.9,821.3 1517.4,825.3 1517.9,821.5 1518.4,821.7 1518.9,824.8 1519.4,826.3 1519.9,826.1 1520.4,826.1 1520.9,821.3 1521.4,825.7 1521.9,820.6 1522.4,825.0 1522.9,826.5 1523.4,820.4 1523.9,820.2 1524.4,824.2 1524.9,821.1 1525.4,824.1 1525.9,826.5 1526.4,826.5 1526.9,822.6 1527.4,821.6 1527.9,826.6 1528.4,821.2 1528.9,821.1 1529.4,825.0 1529.9,823.6 1530.4,820.3 1530.9,825.3 1531.4,823.1 1531.9,824.1 1532.4,822.7 1532.9,825.8 1533.4,823.8 1533.9,821.3 1534.4,819.3 1534.9,825.3 1535.4,820.2 1535.9,822.9 1536.4,823.9 1536.9,822.9 1537.4,826.5 1537.9,824.2 1538.4,822.7 1538.9,826.1 1539.4,825.4 1539.9,826.7 1540.4,822.3 1540.9,821.9 1541.4,821.2 1541.9,823.4 1542.4,826.3 1542.9,826.3 1543.4,821.2 1543.9,824.0 1544.4,824.1 1544.9,826.4 1545.4,825.4 1545.9,822.1 1546.4,826.0 1546.9,825.0 1547.4,825.1 1547.9,820.9 1548.4,825.0 1548.9,824.6 1549.4,822.7 1549.9,826.5 1550.4,823.1 1550.9,825.6 1551.4,823.3 1551.9,822.9 1552.4,823.4 1552.9,825.2 1553.4,824.8 1553.9,826.8 1554.4,825.2 1554.9,824.5 1555.4,822.0 1555.9,820.5 1556.4,820.9 1556.9,826.2 1557.4,823.4 1557.9,825.1 1558.4,822.6 1558.9,821.6 1559.4,825.7 1559.9,821.6 1560.4,822.6 1560.9,826.5 1561.4,825.5 1561.9,826.4 1562.4,826.4 1562.9,826.8 1563.4,824.5 1563.9,826.0 1564.4,821.0 1564.9,825.7 1565.4,825.3 1565.9,823.5 1566.4,826.8 1566.9,821.5 1567.4,824.1 1567.9,821.5 1568.4,823.5 1568.9,822.2 1569.4,824.1 1569.9,824.3 1570.4,826.3 1570.9,826.8 1571.4,821.4 1571.9,826.8 1572.4,824.1 1572.9,820.7 1573.4,821.3 1573.9,824.6 1574.4,826.7 1574.9,822.9 1575.4,824.7 1575.9,826.2 1576.4,822.9 1576.9,822.5 1577.4,822.1 1577.9,816.3 1578.4,821.9 1578.9,821.3 1579.4,824.9 1579.9,826.6 1580.4,825.0 1580.9,820.5 1581.4,823.3 1581.9,822.6 1582.4,820.6 1582.9,826.5 1583.4,822.4 1583.9,821.7 1584.4,821.2 1584.9,822.3 1585.4,824.0 1585.9,826.9 1586.4,825.2 1586.9,826.1 1587.4,821.3 1587.9,822.4 1588.4,823.0 1588.9,826.9 1589.4,827.2 1589.9,824.9 1590.4,825.4 1590.9,823.0 1591.4,822.3 1591.9,821.7 1592.4,824.5 1592.9,821.7 1593.4,824.4 1593.9,823.4 1594.4,820.7 1594.9,823.4 1595.4,825.6 1595.9,826.1 1596.4,821.3 1596.9,823.2 1597.4,825.7 1597.9,825.1 1598.4,823.7 1598.9,826.8 1599.4,821.9 1599.9,821.2 1600.4,821.3 1600.9,823.5 1601.4,824.1 1601.9,822.3 1602.4,822.7 1602.9,826.7 1603.4,823.6 1603.9,821.0 1604.4,826.3 1604.9,821.8 1605.4,821.1 1605.9,823.0 1606.4,825.6 1606.9,824.1 1607.4,825.2 1607.9,825.1 1608.4,823.1 1608.9,823.4 1609.4,821.4 1609.9,827.3 1610.4,822.5 1610.9,822.3 1611.4,825.3 1611.9,821.8 1612.4,824.4 1612.9,826.9 1613.4,824.1 1613.9,822.1 1614.4,824.1 1614.9,822.7 1615.4,826.2 1615.9,821.8 1616.4,821.7 1616.9,825.4 1617.4,827.3 1617.9,825.6 1618.4,821.6 1618.9,821.2 1619.4,825.6 1619.9,825.5 1620.4,825.6 1620.9,827.3 1621.4,820.9 1621.9,825.7 1622.4,825.1 1622.9,826.6 1623.4,821.7 1623.9,822.2 1624.4,823.2 1624.9,827.5 1625.4,826.9 1625.9,826.6 1626.4,827.3 1626.9,827.2 1627.4,822.2 1627.9,824.1 1628.4,823.4 1628.9,824.8 1629.4,822.8 1629.9,824.3 1630.4,825.3 1630.9,824.5 1631.4,826.0 1631.9,826.1 1632.4,822.6 1632.9,824.3 1633.4,822.9 1633.9,825.7 1634.4,824.2 1634.9,822.4 1635.4,823.4 1635.9,823.4 1636.4,825.8 1636.9,822.5 1637.4,825.3 1637.9,825.2 1638.4,822.8 1638.9,823.4 1639.4,827.4 1639.9,825.5 1640.4,826.3 1640.9,823.3 1641.4,826.3 1641.9,824.3 1642.4,822.8 1642.9,825.8 1643.4,826.7 1643.9,824.0 1644.4,823.1 1644.9,822.3 1645.4,822.9 1645.9,826.7 1646.4,826.7 1646.9,823.9 1647.4,826.2 1647.9,821.9 1648.4,824.0 1648.9,825.0 1649.4,821.2 1649.9,819.5 1650.4,826.1 1650.9,825.6 1651.4,822.4 1651.9,825.6 1652.4,823.1 1652.9,826.8 1653.4,822.7 1653.9,824.9 1654.4,821.4 1654.9,825.4 1655.4,824.5 1655.9,822.6 1656.4,823.9 1656.9,827.1 1657.4,827.7 1657.9,826.8 1658.4,825.1 1658.9,821.4 1659.4,826.5 1659.9,826.3 1660.4,827.7 1660.9,823.7 1661.4,825.3 1661.9,826.8 1662.4,823.8 1662.9,821.9 1663.4,826.2 1663.9,827.8 1664.4,824.3 1664.9,821.2 1665.4,821.8 1665.9,824.1 1666.4,823.1 1666.9,824.6 1667.4,822.4 1667.9,824.5 1668.4,826.9 1668.9,827.0 1669.4,823.5 1669.9,825.0 1670.4,821.8 1670.9,823.7 1671.4,825.6 1671.9,823.4 1672.4,826.8 1672.9,824.0 1673.4,823.6 1673.9,822.3 1674.4,825.7 1674.9,824.0 1675.4,826.5 1675.9,826.8 1676.4,826.1 1676.9,822.7 1677.4,825.8 1677.9,824.6 1678.4,822.6 1678.9,825.6 1679.4,823.0 1679.9,822.2 1680.4,822.4 1680.9,823.4 1681.4,822.2 1681.9,825.4 1682.4,823.3 1682.9,824.9 1683.4,826.5 1683.9,822.8 1684.4,826.8 1684.9,826.3 1685.4,824.3 1685.9,826.8 1686.4,822.0 1686.9,821.6 1687.4,827.8 1687.9,823.1 1688.4,822.5 1688.9,819.1 1689.4,824.3 1689.9,825.9 1690.4,827.0 1690.9,827.3 1691.4,821.5 1691.9,821.8 1692.4,825.5 1692.9,822.4 1693.4,823.2 1693.9,827.3 1694.4,827.9 1694.9,826.6 1695.4,827.5 1695.9,826.2 1696.4,822.0 1696.9,825.0 1697.4,827.1 1697.9,826.0 1698.4,826.6 1698.9,822.7 1699.4,823.3 1699.9,826.9 1700.4,826.0 1700.9,822.9 1701.4,827.7 1701.9,824.8 1702.4,821.6 1702.9,826.3 1703.4,823.8 1703.9,823.7 1704.4,825.8 1704.9,824.9 1705.4,827.5 1705.9,824.8 1706.4,822.7 1706.9,823.8 1707.4,822.1 1707.9,825.6 1708.4,823.9 1708.9,822.9 1709.4,821.5 1709.9,823.1 1710.4,825.1 1710.9,825.6 1711.4,826.6 1711.9,827.2 1712.4,825.9 1712.9,824.3 1713.4,827.8 1713.9,822.1 1714.4,824.8 1714.9,822.9 1715.4,824.0 1715.9,822.7 1716.4,822.7 1716.9,825.0 1717.4,824.8 1717.9,821.6 1718.4,822.8 1718.9,826.6 1719.4,825.0 1719.9,826.7 1720.4,826.3 1720.9,825.3 1721.4,824.0 1721.9,821.9 1722.4,826.1 1722.9,825.1 1723.4,822.2 1723.9,827.3 1724.4,823.2 1724.9,823.2 1725.4,824.8 1725.9,823.5 1726.4,824.0 1726.9,826.3 1727.4,819.0 1727.9,822.3 1728.4,826.7 1728.9,822.9 1729.4,826.5 1729.9,827.7 1730.4,823.6 1730.9,827.8 1731.4,824.5 1731.9,826.6 1732.4,824.7 1732.9,824.2 1733.4,824.3 1733.9,825.3 1734.4,825.4 1734.9,825.3 1735.4,822.1 1735.9,827.4 1736.4,821.7 1736.9,825.8 1737.4,824.7 1737.9,823.6 1738.4,826.4 1738.9,825.8 1739.4,825.9 1739.9,824.5 1740.4,825.5 1740.9,822.4 1741.4,823.5 1741.9,823.6 1742.4,826.9 1742.9,826.4 1743.4,827.8 1743.9,826.4 1744.4,822.8 1744.9,824.9 1745.4,822.4 1745.9,823.6 1746.4,824.2 1746.9,823.1 1747.4,823.8 1747.9,827.1 1748.4,826.6 1748.9,822.4 1749.4,824.6 1749.9,823.0 1750.4,826.7 1750.9,822.7 1751.4,824.5 1751.9,827.6 1752.4,825.4 1752.9,821.9 1753.4,827.7 1753.9,825.5 1754.4,822.1 1754.9,822.4 1755.4,822.3 1755.9,822.5 1756.4,821.8 1756.9,823.2 1757.4,822.3 1757.9,825.1 1758.4,827.1 1758.9,823.4 1759.4,827.2 1759.9,826.6 1760.4,827.9 1760.9,825.6 1761.4,822.4 1761.9,826.3 1762.4,826.5 1762.9,825.0 1763.4,824.6 1763.9,825.6 1764.4,823.5 1764.9,822.3 1765.4,825.0 1765.9,822.5 1766.4,825.1 1766.9,824.2 1767.4,827.6 1767.9,828.2 1768.4,828.3 1768.9,823.4 1769.4,825.8 1769.9,828.3 1770.4,827.1 1770.9,822.3 1771.4,822.9 1771.9,825.8 1772.4,824.8 1772.9,822.4 1773.4,822.5 1773.9,826.1 1774.4,822.1 1774.9,828.1 1775.4,824.6 1775.9,826.4 1776.4,826.1 1776.9,825.5 1777.4,823.0 1777.9,828.2 1778.4,828.3 1778.9,827.3 1779.4,826.7 1779.9,828.0 1780.4,827.6 1780.9,827.0 1781.4,823.9 1781.9,827.1 1782.4,827.4 1782.9,822.9 1783.4,825.6 1783.9,824.0 1784.4,822.8 1784.9,823.3 1785.4,824.0 1785.9,823.8 1786.4,820.1 1786.9,818.8 1787.4,818.4 1787.9,823.3 1788.4,822.0 1788.9,826.5 1789.4,825.2 1789.9,823.7 1790.4,824.3 1790.9,827.7 1791.4,827.5 1791.9,826.5 1792.4,826.4 1792.9,827.2 1793.4,825.4 1793.9,824.5 1794.4,826.5 1794.9,827.0 1795.4,825.8 1795.9,827.2 1796.4,824.0 1796.9,824.3 1797.4,824.1 1797.9,828.0 1798.4,826.3 1798.9,827.0 1799.4,824.9 1799.9,824.0 1800.4,826.0 1800.9,823.5 1801.4,827.8 1801.9,822.8 1802.4,824.1 1802.9,828.5 1803.4,827.1 1803.9,823.1 1804.4,823.1 1804.9,820.5 1805.4,824.6 1805.9,824.7 1806.4,827.1 1806.9,823.5 1807.4,825.2 1807.9,826.2 1808.4,824.1 1808.9,828.5 1809.4,820.9 1809.9,822.3 1810.4,827.5 1810.9,828.3 1811.4,825.8 1811.9,822.0 1812.4,823.7 1812.9,822.4 1813.4,824.4 1813.9,824.6 1814.4,826.8 1814.9,825.9 1815.4,825.9 1815.9,828.5 1816.4,822.3 1816.9,826.4 1817.4,828.1 1817.9,827.9 1818.4,825.8 1818.9,823.9 1819.4,826.1 1819.9,825.6 1820.4,825.7 1820.9,825.7 1821.4,822.2 1821.9,825.7 1822.4,828.4 1822.9,825.2 1823.4,825.5 1823.9,824.3 1824.4,827.8 1824.9,827.2 1825.4,826.3 1825.9,823.6 1826.4,823.5 1826.9,825.5 1827.4,824.2 1827.9,828.3 1828.4,828.3 1828.9,825.4 1829.4,824.3 1829.9,823.2 1830.4,827.2 1830.9,822.2 1831.4,825.3 1831.9,823.1 1832.4,824.7 1832.9,828.2 1833.4,824.2 1833.9,822.9 1834.4,826.7 1834.9,822.9 1835.4,825.4 1835.9,827.5 1836.4,823.5 1836.9,827.4 1837.4,822.1 1837.9,827.5 1838.4,827.1 1838.9,826.3 1839.4,828.6 1839.9,827.6 1840.4,824.2 1840.9,826.6 1841.4,825.8 1841.9,823.8 1842.4,823.0 1842.9,828.0 1843.4,826.7 1843.9,822.9 1844.4,827.2 1844.9,822.8 1845.4,827.2 1845.9,827.5 1846.4,822.8 1846.9,827.9" fill="none" stroke="#0072BD" stroke-width="6.5" stroke-linejoin="round"/>
<rect x="331.5" y="364.6" width="324.0" height="192.9" fill="#FFFFCC" stroke="#A6A6A6" stroke-width="4.8"/>
<rect x="393.6" y="569.6" width="324.0" height="193.5" fill="#FFFFCC" stroke="#A6A6A6" stroke-width="4.8"/>
<rect x="956.4" y="569.6" width="324.2" height="193.5" fill="#FFFFCC" stroke="#A6A6A6" stroke-width="4.8"/>
<rect x="1463.4" y="569.6" width="371.1" height="193.5" fill="#FFFFCC" stroke="#A6A6A6" stroke-width="4.8"/>
<rect x="331.5" y="38.9" width="1518.0" height="807.4" fill="none" stroke="#000" stroke-width="5"/>
<rect x="331.5" y="574.6" width="16.6" height="5.2" fill="#000"/>
<rect x="331.5" y="305.4" width="16.6" height="5.2" fill="#000"/>
<rect x="803.4" y="829" width="5" height="16" fill="#000"/>
<rect x="1277.8" y="829" width="5" height="16" fill="#000"/>
<rect x="1752.1" y="829" width="5" height="16" fill="#000"/>
<rect x="313.2" y="612.2" width="40.5" height="40.6" fill="#000"/>
<rect x="358.7" y="776.5" width="40.5" height="40.6" fill="#000"/>
<rect x="1070.3" y="799.1" width="40.5" height="40.6" fill="#000"/>
<rect x="1639.5" y="804.2" width="40.5" height="40.6" fill="#000"/>
<text transform="translate(102.87,87.29) scale(0.8891,1)" font-size="66.26">(</text>
<text transform="translate(125.76,85.30) scale(1.2974,1)" font-size="55.86">a</text>
<text transform="translate(160.10,87.29) scale(0.9418,1)" font-size="66.26">)</text>
<text transform="translate(272.87,59.40) scale(1.0983,1)" font-size="59.21">6</text>
<text transform="translate(273.92,326.90) scale(1.0463,1)" font-size="59.27">4</text>
<text transform="translate(272.76,593.90) scale(1.1642,1)" font-size="58.76">2</text>
<text transform="translate(273.23,862.30) scale(1.1043,1)" font-size="58.95">0</text>
<text transform="translate(314.52,913.00) scale(1.1292,1)" font-size="60.15">0</text>
<text transform="translate(739.55,913.00) scale(1.1037,1)" font-size="60.15">5000</text>
<text transform="translate(1196.60,913.00) scale(1.1088,1)" font-size="60.15">10000</text>
<text transform="translate(1671.75,913.00) scale(1.0990,1)" font-size="60.15">15000</text>
<text transform="translate(950.23,998.60) scale(1.2901,1)" font-size="57.55">Iterations</text>
<text transform="translate(222.9,502.8) rotate(-90) translate(-1.87,0.00) scale(1.1221,1)" font-size="59.54">Loss</text>
<text transform="translate(366.29,450.10) scale(1.2914,1)" font-size="58.93" font-style="italic">X</text>
<text transform="translate(415.88,450.10) scale(1.1735,1)" font-size="58.50">:</text>
<text transform="translate(456.55,450.10) scale(1.1329,1)" font-size="58.50">20</text>
<text transform="translate(360.64,525.00) scale(1.3139,1)" font-size="59.54" font-style="italic">Y</text>
<text transform="translate(407.71,525.00) scale(1.0898,1)" font-size="59.10">:</text>
<text transform="translate(449.26,525.00) scale(1.1315,1)" font-size="59.10">0.1589</text>
<text transform="translate(427.65,643.00) scale(1.2814,1)" font-size="58.47" font-style="italic">X</text>
<text transform="translate(476.71,643.00) scale(1.1096,1)" font-size="58.05">:</text>
<text transform="translate(517.75,643.00) scale(1.1424,1)" font-size="58.05">500</text>
<text transform="translate(421.21,718.00) scale(1.3293,1)" font-size="59.24" font-style="italic">Y</text>
<text transform="translate(469.11,718.00) scale(1.0522,1)" font-size="58.80">:</text>
<text transform="translate(509.25,718.00) scale(1.1411,1)" font-size="58.80">0.0368</text>
<text transform="translate(989.66,650.90) scale(1.2789,1)" font-size="58.93" font-style="italic">X</text>
<text transform="translate(1038.94,650.90) scale(1.1590,1)" font-size="58.50">:</text>
<text transform="translate(1080.28,650.90) scale(1.1355,1)" font-size="58.50">8000</text>
<text transform="translate(983.43,726.10) scale(1.3201,1)" font-size="59.39" font-style="italic">Y</text>
<text transform="translate(1030.61,726.10) scale(1.0926,1)" font-size="58.95">:</text>
<text transform="translate(1072.26,726.10) scale(1.1324,1)" font-size="58.95">0.0200</text>
<text transform="translate(1493.65,651.10) scale(1.2641,1)" font-size="59.39" font-style="italic">X</text>
<text transform="translate(1542.68,651.10) scale(1.1985,1)" font-size="59.39">:</text>
<text transform="translate(1584.61,651.10) scale(1.1205,1)" font-size="59.39">1.4</text>
<text transform="translate(1677.25,659.79) scale(0.9962,1)" font-size="78.19">×</text>
<text transform="translate(1728.65,651.10) scale(1.1012,1)" font-size="58.95">10</text>
<text transform="translate(1796.53,632.70) scale(0.9832,1)" font-size="41.03">4</text>
<text transform="translate(1487.48,726.10) scale(1.3058,1)" font-size="59.39" font-style="italic">Y</text>
<text transform="translate(1535.01,726.10) scale(1.1789,1)" font-size="58.95">:</text>
<text transform="translate(1576.14,726.10) scale(1.1435,1)" font-size="58.95">0.0162</text>
<text transform="translate(100.50,1070.07) scale(0.9960,1)" font-size="65.38">(</text>
<text transform="translate(129.40,1068.90) scale(1.0953,1)" font-size="55.33">b</text>
<text transform="translate(161.04,1070.07) scale(1.0315,1)" font-size="65.38">)</text>
<text transform="translate(37.31,1217.90) scale(1.3000,1)" font-size="55.33" letter-spacing="0.957">The</text>
<text transform="translate(174.86,1217.90) scale(1.2933,1)" font-size="55.33">predicted</text>
<text transform="translate(159.69,1287.70) scale(1.3000,1)" font-size="53.60" letter-spacing="0.830">phase</text>
<text transform="translate(84.60,1559.90) scale(1.3000,1)" font-size="55.48" letter-spacing="0.579">The</text>
<text transform="translate(218.88,1559.90) scale(1.3000,1)" font-size="55.48" letter-spacing="0.726">actual</text>
<text transform="translate(159.68,1629.70) scale(1.3000,1)" font-size="54.03" letter-spacing="0.589">phase</text>
<text transform="translate(627.48,1821.10) scale(1.1384,1)" font-size="59.55">20</text>
<text transform="translate(955.75,1821.10) scale(1.1135,1)" font-size="59.55">500</text>
<text transform="translate(1283.19,1821.10) scale(1.1085,1)" font-size="59.55">8000</text>
<text transform="translate(1610.13,1821.10) scale(1.1136,1)" font-size="59.55">14000</text>
<defs>
<filter id="bl" x="-20%" y="-20%" width="140%" height="140%" color-interpolation-filters="sRGB"><feGaussianBlur stdDeviation="6"/></filter>
<clipPath id="cp00"><rect x="493.0" y="1067.9" width="336.8" height="335.7"/></clipPath>
<clipPath id="cp01"><rect x="837.2" y="1067.9" width="335.7" height="335.7"/></clipPath>
<clipPath id="cp02"><rect x="1181.1" y="1067.9" width="335.8" height="335.7"/></clipPath>
<clipPath id="cp03"><rect x="1525.1" y="1067.9" width="335.8" height="335.7"/></clipPath>
<clipPath id="cp10"><rect x="493.0" y="1412.1" width="336.8" height="335.6"/></clipPath>
<clipPath id="cp11"><rect x="837.2" y="1412.1" width="335.7" height="335.6"/></clipPath>
<clipPath id="cp12"><rect x="1181.1" y="1412.1" width="335.8" height="335.6"/></clipPath>
<clipPath id="cp13"><rect x="1525.1" y="1412.1" width="335.8" height="335.6"/></clipPath>
</defs>
<g clip-path="url(#cp01)"><g filter="url(#bl)"><g transform="translate(837.2,1067.9) scale(13.98750,13.98750)">
<path d="M23 12h1.06v1.06h-1.06zM23 13h2.06v1.06h-2.06z" fill="#141414"/>
<path d="M0 8h1.06v1.06h-1.06zM22 12h1.06v1.06h-1.06zM24 12h3.06v1.06h-3.06zM22 13h1.06v1.06h-1.06zM25 13h2.06v1.06h-2.06zM21 14h6.06v1.06h-6.06zM19 17h1.06v1.06h-1.06zM18 18h2.06v1.06h-2.06z" fill="#161616"/>
<path d="M-1 7h2.06v1.06h-2.06zM-3 8h3.06v1.06h-3.06zM1 8h1.06v1.06h-1.06zM-1 9h2.06v1.06h-2.06zM23 11h2.06v1.06h-2.06zM21 13h1.06v1.06h-1.06zM20 14h1.06v1.06h-1.06zM20 15h7.06v1.06h-7.06zM19 16h2.06v1.06h-2.06zM18 17h1.06v1.06h-1.06zM20 17h1.06v1.06h-1.06zM20 18h1.06v1.06h-1.06zM17 19h3.06v1.06h-3.06z" fill="#181818"/>
<path d="M0 6h1.06v1.06h-1.06zM-3 7h2.06v1.06h-2.06zM1 7h1.06v1.06h-1.06zM-3 9h2.06v1.06h-2.06zM1 9h1.06v1.06h-1.06zM-1 10h2.06v1.06h-2.06zM22 11h1.06v1.06h-1.06zM25 11h2.06v1.06h-2.06zM19 15h1.06v1.06h-1.06zM18 16h1.06v1.06h-1.06zM21 16h6.06v1.06h-6.06zM21 17h1.06v1.06h-1.06zM17 18h1.06v1.06h-1.06zM20 19h1.06v1.06h-1.06zM17 20h2.06v1.06h-2.06z" fill="#1a1a1a"/>
<path d="M-3 6h3.06v1.06h-3.06zM1 6h1.06v1.06h-1.06zM-3 10h2.06v1.06h-2.06zM1 10h1.06v1.06h-1.06zM0 11h1.06v1.06h-1.06zM21 12h1.06v1.06h-1.06zM20 13h1.06v1.06h-1.06zM19 14h1.06v1.06h-1.06zM17 17h1.06v1.06h-1.06zM19 20h1.06v1.06h-1.06zM17 21h1.06v1.06h-1.06z" fill="#1c1c1c"/>
<path d="M2 8h1.06v1.06h-1.06zM23 10h2.06v1.06h-2.06zM-3 11h3.06v1.06h-3.06zM1 11h1.06v1.06h-1.06zM18 15h1.06v1.06h-1.06zM17 16h1.06v1.06h-1.06zM22 17h5.06v1.06h-5.06zM21 18h1.06v1.06h-1.06zM16 19h1.06v1.06h-1.06zM16 20h1.06v1.06h-1.06zM16 21h1.06v1.06h-1.06zM18 21h1.06v1.06h-1.06zM17 22h1.06v1.06h-1.06zM17 25h1.06v1.06h-1.06zM17 26h1.06v1.06h-1.06z" fill="#1e1e1e"/>
<path d="M-1 5h2.06v1.06h-2.06zM2 7h1.06v1.06h-1.06zM2 9h1.06v1.06h-1.06zM22 10h1.06v1.06h-1.06zM25 10h2.06v1.06h-2.06zM21 11h1.06v1.06h-1.06zM-1 12h2.06v1.06h-2.06zM16 18h1.06v1.06h-1.06zM21 19h1.06v1.06h-1.06zM20 20h1.06v1.06h-1.06zM16 22h1.06v1.06h-1.06zM16 23h2.06v1.06h-2.06zM16 24h2.06v1.06h-2.06zM16 25h1.06v1.06h-1.06zM16 26h1.06v1.06h-1.06z" fill="#202020"/>
<path d="M-3 5h2.06v1.06h-2.06zM1 5h1.06v1.06h-1.06zM2 6h1.06v1.06h-1.06zM2 10h1.06v1.06h-1.06zM-3 12h2.06v1.06h-2.06zM1 12h1.06v1.06h-1.06zM20 12h1.06v1.06h-1.06zM19 13h1.06v1.06h-1.06zM16 17h1.06v1.06h-1.06zM22 18h5.06v1.06h-5.06zM19 21h1.06v1.06h-1.06zM18 22h1.06v1.06h-1.06zM18 23h1.06v1.06h-1.06zM18 24h1.06v1.06h-1.06zM18 25h1.06v1.06h-1.06zM18 26h1.06v1.06h-1.06z" fill="#222222"/>
<path d="M14 4h2.06v1.06h-2.06zM2 11h1.06v1.06h-1.06zM0 13h1.06v1.06h-1.06zM18 14h1.06v1.06h-1.06zM15 20h1.06v1.06h-1.06zM20 21h1.06v1.06h-1.06z" fill="#242424"/>
<path d="M13 4h1.06v1.06h-1.06zM2 5h1.06v1.06h-1.06zM-3 13h3.06v1.06h-3.06zM1 13h1.06v1.06h-1.06zM17 15h1.06v1.06h-1.06zM16 16h1.06v1.06h-1.06zM15 19h1.06v1.06h-1.06zM22 19h5.06v1.06h-5.06zM21 20h1.06v1.06h-1.06zM15 21h1.06v1.06h-1.06zM15 22h1.06v1.06h-1.06zM19 22h1.06v1.06h-1.06zM15 23h1.06v1.06h-1.06zM19 23h1.06v1.06h-1.06zM15 24h1.06v1.06h-1.06zM19 24h1.06v1.06h-1.06zM15 25h1.06v1.06h-1.06zM19 25h1.06v1.06h-1.06zM15 26h1.06v1.06h-1.06zM19 26h1.06v1.06h-1.06z" fill="#262626"/>
<path d="M14 3h2.06v1.06h-2.06zM-3 4h5.06v1.06h-5.06zM16 4h1.06v1.06h-1.06zM3 7h1.06v1.06h-1.06zM3 8h1.06v1.06h-1.06zM21 10h1.06v1.06h-1.06zM2 12h1.06v1.06h-1.06zM15 18h1.06v1.06h-1.06zM20 22h1.06v1.06h-1.06zM20 25h1.06v1.06h-1.06zM20 26h1.06v1.06h-1.06z" fill="#282828"/>
<path d="M13 3h1.06v1.06h-1.06zM16 3h1.06v1.06h-1.06zM12 4h1.06v1.06h-1.06zM3 6h1.06v1.06h-1.06zM3 9h1.06v1.06h-1.06zM3 10h1.06v1.06h-1.06zM20 11h1.06v1.06h-1.06zM19 12h1.06v1.06h-1.06zM18 13h1.06v1.06h-1.06zM0 14h1.06v1.06h-1.06zM22 20h5.06v1.06h-5.06zM21 21h1.06v1.06h-1.06zM20 23h1.06v1.06h-1.06zM20 24h1.06v1.06h-1.06z" fill="#2a2a2a"/>
<path d="M2 4h1.06v1.06h-1.06zM14 5h2.06v1.06h-2.06zM23 9h2.06v1.06h-2.06zM2 13h1.06v1.06h-1.06zM-3 14h3.06v1.06h-3.06zM1 14h1.06v1.06h-1.06zM15 17h1.06v1.06h-1.06z" fill="#2c2c2c"/>
<path d="M12 3h1.06v1.06h-1.06zM3 5h1.06v1.06h-1.06zM13 5h1.06v1.06h-1.06zM16 5h1.06v1.06h-1.06zM22 9h1.06v1.06h-1.06zM25 9h2.06v1.06h-2.06zM3 11h1.06v1.06h-1.06zM17 14h1.06v1.06h-1.06zM16 15h1.06v1.06h-1.06zM22 21h5.06v1.06h-5.06zM21 22h1.06v1.06h-1.06zM21 23h1.06v1.06h-1.06zM21 24h1.06v1.06h-1.06zM21 25h1.06v1.06h-1.06zM21 26h1.06v1.06h-1.06z" fill="#2e2e2e"/>
<path d="M15 2h1.06v1.06h-1.06zM17 4h1.06v1.06h-1.06zM3 12h1.06v1.06h-1.06zM14 19h1.06v1.06h-1.06zM14 20h1.06v1.06h-1.06zM14 21h1.06v1.06h-1.06zM14 22h1.06v1.06h-1.06zM22 22h1.06v1.06h-1.06zM25 22h2.06v1.06h-2.06zM14 23h1.06v1.06h-1.06zM14 24h1.06v1.06h-1.06zM14 25h1.06v1.06h-1.06zM22 25h1.06v1.06h-1.06zM25 25h2.06v1.06h-2.06zM14 26h1.06v1.06h-1.06zM22 26h1.06v1.06h-1.06zM25 26h2.06v1.06h-2.06z" fill="#303030"/>
<path d="M14 2h1.06v1.06h-1.06zM16 2h1.06v1.06h-1.06zM-3 3h5.06v1.06h-5.06zM17 3h1.06v1.06h-1.06zM3 4h1.06v1.06h-1.06zM11 4h1.06v1.06h-1.06zM12 5h1.06v1.06h-1.06zM4 7h1.06v1.06h-1.06zM0 15h1.06v1.06h-1.06zM15 16h1.06v1.06h-1.06zM23 22h2.06v1.06h-2.06zM22 23h5.06v1.06h-5.06zM22 24h5.06v1.06h-5.06zM23 25h2.06v1.06h-2.06zM23 26h2.06v1.06h-2.06z" fill="#323232"/>
<path d="M13 2h1.06v1.06h-1.06zM11 3h1.06v1.06h-1.06zM4 5h1.06v1.06h-1.06zM17 5h1.06v1.06h-1.06zM4 6h1.06v1.06h-1.06zM4 8h1.06v1.06h-1.06zM4 9h1.06v1.06h-1.06zM21 9h1.06v1.06h-1.06zM20 10h1.06v1.06h-1.06zM19 11h1.06v1.06h-1.06zM18 12h1.06v1.06h-1.06zM2 14h1.06v1.06h-1.06zM-3 15h3.06v1.06h-3.06zM1 15h1.06v1.06h-1.06zM14 18h1.06v1.06h-1.06z" fill="#343434"/>
<path d="M12 2h1.06v1.06h-1.06zM17 2h1.06v1.06h-1.06zM2 3h1.06v1.06h-1.06zM15 6h1.06v1.06h-1.06zM3 13h1.06v1.06h-1.06zM17 13h1.06v1.06h-1.06z" fill="#363636"/>
<path d="M15 -3h2.06v1.06h-2.06zM15 -2h2.06v1.06h-2.06zM15 -1h2.06v1.06h-2.06zM15 0h2.06v1.06h-2.06zM15 1h2.06v1.06h-2.06zM10 3h1.06v1.06h-1.06zM4 4h1.06v1.06h-1.06zM10 4h1.06v1.06h-1.06zM14 6h1.06v1.06h-1.06zM16 6h1.06v1.06h-1.06zM4 10h1.06v1.06h-1.06zM16 14h1.06v1.06h-1.06zM0 16h1.06v1.06h-1.06z" fill="#383838"/>
<path d="M14 -3h1.06v1.06h-1.06zM17 -3h1.06v1.06h-1.06zM14 -2h1.06v1.06h-1.06zM17 -2h1.06v1.06h-1.06zM14 -1h1.06v1.06h-1.06zM17 -1h1.06v1.06h-1.06zM14 0h1.06v1.06h-1.06zM17 0h1.06v1.06h-1.06zM14 1h1.06v1.06h-1.06zM17 1h1.06v1.06h-1.06zM11 2h1.06v1.06h-1.06zM3 3h1.06v1.06h-1.06zM5 4h1.06v1.06h-1.06zM9 4h1.06v1.06h-1.06zM5 5h1.06v1.06h-1.06zM11 5h1.06v1.06h-1.06zM4 11h1.06v1.06h-1.06zM15 15h1.06v1.06h-1.06zM-1 16h1.06v1.06h-1.06zM14 17h1.06v1.06h-1.06z" fill="#3a3a3a"/>
<path d="M13 -3h1.06v1.06h-1.06zM13 -2h1.06v1.06h-1.06zM13 -1h1.06v1.06h-1.06zM13 0h1.06v1.06h-1.06zM13 1h1.06v1.06h-1.06zM18 2h1.06v1.06h-1.06zM9 3h1.06v1.06h-1.06zM18 3h1.06v1.06h-1.06zM6 4h1.06v1.06h-1.06zM8 4h1.06v1.06h-1.06zM18 4h1.06v1.06h-1.06zM13 6h1.06v1.06h-1.06zM17 6h1.06v1.06h-1.06zM20 9h1.06v1.06h-1.06zM4 12h1.06v1.06h-1.06zM-3 16h2.06v1.06h-2.06zM1 16h1.06v1.06h-1.06zM13 20h1.06v1.06h-1.06zM13 21h1.06v1.06h-1.06zM13 22h1.06v1.06h-1.06zM13 23h1.06v1.06h-1.06zM13 24h1.06v1.06h-1.06zM13 25h1.06v1.06h-1.06zM13 26h1.06v1.06h-1.06z" fill="#3c3c3c"/>
<path d="M12 -3h1.06v1.06h-1.06zM18 -3h1.06v1.06h-1.06zM12 -2h1.06v1.06h-1.06zM18 -2h1.06v1.06h-1.06zM12 -1h1.06v1.06h-1.06zM18 -1h1.06v1.06h-1.06zM12 0h1.06v1.06h-1.06zM18 0h1.06v1.06h-1.06zM12 1h1.06v1.06h-1.06zM18 1h1.06v1.06h-1.06zM-1 2h2.06v1.06h-2.06zM10 2h1.06v1.06h-1.06zM4 3h2.06v1.06h-2.06zM7 3h2.06v1.06h-2.06zM7 4h1.06v1.06h-1.06zM10 5h1.06v1.06h-1.06zM5 6h1.06v1.06h-1.06zM22 8h5.06v1.06h-5.06zM19 10h1.06v1.06h-1.06zM18 11h1.06v1.06h-1.06zM17 12h1.06v1.06h-1.06zM3 14h1.06v1.06h-1.06zM2 15h1.06v1.06h-1.06zM13 19h1.06v1.06h-1.06z" fill="#3e3e3e"/>
<path d="M11 -3h1.06v1.06h-1.06zM11 -2h1.06v1.06h-1.06zM11 -1h1.06v1.06h-1.06zM11 0h1.06v1.06h-1.06zM11 1h1.06v1.06h-1.06zM-3 2h2.06v1.06h-2.06zM1 2h1.06v1.06h-1.06zM9 2h1.06v1.06h-1.06zM6 3h1.06v1.06h-1.06zM6 5h1.06v1.06h-1.06zM18 5h1.06v1.06h-1.06zM12 6h1.06v1.06h-1.06zM5 7h1.06v1.06h-1.06zM15 7h2.06v1.06h-2.06zM16 13h1.06v1.06h-1.06zM14 16h1.06v1.06h-1.06zM-1 17h2.06v1.06h-2.06z" fill="#404040"/>
<path d="M10 -3h1.06v1.06h-1.06zM19 -3h1.06v1.06h-1.06zM10 -2h1.06v1.06h-1.06zM19 -2h1.06v1.06h-1.06zM10 -1h1.06v1.06h-1.06zM19 -1h1.06v1.06h-1.06zM10 0h1.06v1.06h-1.06zM19 0h1.06v1.06h-1.06zM10 1h1.06v1.06h-1.06zM19 1h1.06v1.06h-1.06zM2 2h1.06v1.06h-1.06zM8 2h1.06v1.06h-1.06zM19 2h1.06v1.06h-1.06zM9 5h1.06v1.06h-1.06zM17 7h1.06v1.06h-1.06zM21 8h1.06v1.06h-1.06zM4 13h1.06v1.06h-1.06zM15 14h1.06v1.06h-1.06zM-3 17h2.06v1.06h-2.06zM1 17h1.06v1.06h-1.06zM13 18h1.06v1.06h-1.06z" fill="#424242"/>
<path d="M9 -3h1.06v1.06h-1.06zM9 -2h1.06v1.06h-1.06zM9 -1h1.06v1.06h-1.06zM9 0h1.06v1.06h-1.06zM9 1h1.06v1.06h-1.06zM3 2h1.06v1.06h-1.06zM7 2h1.06v1.06h-1.06zM19 3h1.06v1.06h-1.06zM7 5h2.06v1.06h-2.06zM18 6h1.06v1.06h-1.06zM14 7h1.06v1.06h-1.06zM5 8h1.06v1.06h-1.06zM19 9h1.06v1.06h-1.06zM18 10h1.06v1.06h-1.06zM17 11h1.06v1.06h-1.06zM0 22h1.06v1.06h-1.06zM-1 23h2.06v1.06h-2.06zM-1 24h2.06v1.06h-2.06zM0 25h1.06v1.06h-1.06zM0 26h1.06v1.06h-1.06z" fill="#444444"/>
<path d="M8 -3h1.06v1.06h-1.06zM20 -3h1.06v1.06h-1.06zM8 -2h1.06v1.06h-1.06zM20 -2h1.06v1.06h-1.06zM8 -1h1.06v1.06h-1.06zM20 -1h1.06v1.06h-1.06zM8 0h1.06v1.06h-1.06zM20 0h1.06v1.06h-1.06zM8 1h1.06v1.06h-1.06zM20 1h1.06v1.06h-1.06zM4 2h3.06v1.06h-3.06zM19 4h1.06v1.06h-1.06zM11 6h1.06v1.06h-1.06zM18 7h1.06v1.06h-1.06zM16 8h2.06v1.06h-2.06zM20 8h1.06v1.06h-1.06zM5 9h1.06v1.06h-1.06zM16 12h1.06v1.06h-1.06zM14 15h1.06v1.06h-1.06zM2 16h1.06v1.06h-1.06zM0 18h1.06v1.06h-1.06zM0 21h1.06v1.06h-1.06zM-3 22h3.06v1.06h-3.06zM1 22h1.06v1.06h-1.06zM-3 23h2.06v1.06h-2.06zM1 23h1.06v1.06h-1.06zM-3 24h2.06v1.06h-2.06zM1 24h1.06v1.06h-1.06zM-3 25h3.06v1.06h-3.06zM1 25h1.06v1.06h-1.06zM-3 26h3.06v1.06h-3.06zM1 26h1.06v1.06h-1.06z" fill="#464646"/>
<path d="M-3 -3h5.06v1.06h-5.06zM7 -3h1.06v1.06h-1.06zM-3 -2h5.06v1.06h-5.06zM7 -2h1.06v1.06h-1.06zM0 -1h1.06v1.06h-1.06zM7 -1h1.06v1.06h-1.06zM7 0h1.06v1.06h-1.06zM21 0h1.06v1.06h-1.06zM-3 1h5.06v1.06h-5.06zM7 1h1.06v1.06h-1.06zM20 2h1.06v1.06h-1.06zM19 5h1.06v1.06h-1.06zM6 6h1.06v1.06h-1.06zM13 7h1.06v1.06h-1.06zM15 8h1.06v1.06h-1.06zM18 8h2.06v1.06h-2.06zM18 9h1.06v1.06h-1.06zM13 17h1.06v1.06h-1.06zM-3 18h3.06v1.06h-3.06zM1 18h1.06v1.06h-1.06zM-3 21h3.06v1.06h-3.06zM1 21h1.06v1.06h-1.06z" fill="#484848"/>
<path d="M2 -3h1.06v1.06h-1.06zM6 -3h1.06v1.06h-1.06zM21 -3h1.06v1.06h-1.06zM2 -2h1.06v1.06h-1.06zM6 -2h1.06v1.06h-1.06zM21 -2h1.06v1.06h-1.06zM-3 -1h3.06v1.06h-3.06zM1 -1h2.06v1.06h-2.06zM6 -1h1.06v1.06h-1.06zM21 -1h1.06v1.06h-1.06zM-3 0h5.06v1.06h-5.06zM6 0h1.06v1.06h-1.06zM2 1h1.06v1.06h-1.06zM6 1h1.06v1.06h-1.06zM21 1h1.06v1.06h-1.06zM10 6h1.06v1.06h-1.06zM19 6h1.06v1.06h-1.06zM19 7h1.06v1.06h-1.06zM17 9h1.06v1.06h-1.06zM5 10h1.06v1.06h-1.06zM17 10h1.06v1.06h-1.06zM15 13h1.06v1.06h-1.06zM3 15h1.06v1.06h-1.06zM0 19h1.06v1.06h-1.06zM-1 20h2.06v1.06h-2.06zM12 21h1.06v1.06h-1.06zM12 22h1.06v1.06h-1.06zM12 23h1.06v1.06h-1.06zM12 24h1.06v1.06h-1.06zM12 25h1.06v1.06h-1.06zM12 26h1.06v1.06h-1.06z" fill="#4a4a4a"/>
<path d="M3 -3h3.06v1.06h-3.06zM22 -3h1.06v1.06h-1.06zM24 -3h3.06v1.06h-3.06zM3 -2h3.06v1.06h-3.06zM22 -2h1.06v1.06h-1.06zM24 -2h3.06v1.06h-3.06zM3 -1h1.06v1.06h-1.06zM5 -1h1.06v1.06h-1.06zM22 -1h5.06v1.06h-5.06zM2 0h1.06v1.06h-1.06zM5 0h1.06v1.06h-1.06zM22 0h5.06v1.06h-5.06zM3 1h3.06v1.06h-3.06zM22 1h1.06v1.06h-1.06zM24 1h3.06v1.06h-3.06zM21 2h1.06v1.06h-1.06zM20 3h1.06v1.06h-1.06zM12 7h1.06v1.06h-1.06zM20 7h7.06v1.06h-7.06zM14 8h1.06v1.06h-1.06zM16 9h1.06v1.06h-1.06zM5 11h1.06v1.06h-1.06zM16 11h1.06v1.06h-1.06zM4 14h1.06v1.06h-1.06zM2 17h1.06v1.06h-1.06zM-3 19h3.06v1.06h-3.06zM1 19h1.06v1.06h-1.06zM-3 20h2.06v1.06h-2.06zM1 20h1.06v1.06h-1.06zM12 20h1.06v1.06h-1.06zM2 23h1.06v1.06h-1.06z" fill="#4c4c4c"/>
<path d="M23 -3h1.06v1.06h-1.06zM23 -2h1.06v1.06h-1.06zM4 -1h1.06v1.06h-1.06zM3 0h2.06v1.06h-2.06zM23 1h1.06v1.06h-1.06zM20 4h1.06v1.06h-1.06zM20 5h1.06v1.06h-1.06zM9 6h1.06v1.06h-1.06zM20 6h1.06v1.06h-1.06zM16 10h1.06v1.06h-1.06zM15 12h1.06v1.06h-1.06zM14 14h1.06v1.06h-1.06zM13 16h1.06v1.06h-1.06zM12 19h1.06v1.06h-1.06zM2 22h1.06v1.06h-1.06zM2 24h1.06v1.06h-1.06zM2 25h1.06v1.06h-1.06zM2 26h1.06v1.06h-1.06z" fill="#4e4e4e"/>
<path d="M22 2h5.06v1.06h-5.06zM21 3h1.06v1.06h-1.06zM7 6h2.06v1.06h-2.06zM6 7h1.06v1.06h-1.06zM11 7h1.06v1.06h-1.06zM13 8h1.06v1.06h-1.06zM15 9h1.06v1.06h-1.06zM5 12h1.06v1.06h-1.06zM2 21h1.06v1.06h-1.06z" fill="#505050"/>
<path d="M21 4h1.06v1.06h-1.06zM21 5h1.06v1.06h-1.06zM21 6h1.06v1.06h-1.06zM15 11h1.06v1.06h-1.06zM14 13h1.06v1.06h-1.06zM12 18h1.06v1.06h-1.06z" fill="#525252"/>
<path d="M22 3h1.06v1.06h-1.06zM25 3h2.06v1.06h-2.06zM22 6h5.06v1.06h-5.06zM10 7h1.06v1.06h-1.06zM14 9h1.06v1.06h-1.06zM15 10h1.06v1.06h-1.06zM5 13h1.06v1.06h-1.06zM13 15h1.06v1.06h-1.06zM3 16h1.06v1.06h-1.06zM2 18h1.06v1.06h-1.06z" fill="#545454"/>
<path d="M23 3h2.06v1.06h-2.06zM22 4h1.06v1.06h-1.06zM25 4h2.06v1.06h-2.06zM22 5h1.06v1.06h-1.06zM24 5h3.06v1.06h-3.06zM6 8h1.06v1.06h-1.06zM12 8h1.06v1.06h-1.06zM14 12h1.06v1.06h-1.06zM2 19h1.06v1.06h-1.06zM2 20h1.06v1.06h-1.06zM3 23h1.06v1.06h-1.06z" fill="#565656"/>
<path d="M23 4h2.06v1.06h-2.06zM23 5h1.06v1.06h-1.06zM9 7h1.06v1.06h-1.06zM13 9h1.06v1.06h-1.06zM14 10h1.06v1.06h-1.06zM14 11h1.06v1.06h-1.06zM13 14h1.06v1.06h-1.06zM4 15h1.06v1.06h-1.06zM12 17h1.06v1.06h-1.06zM3 22h1.06v1.06h-1.06zM3 24h1.06v1.06h-1.06zM3 25h1.06v1.06h-1.06zM3 26h1.06v1.06h-1.06z" fill="#585858"/>
<path d="M7 7h1.06v1.06h-1.06zM11 8h1.06v1.06h-1.06zM6 9h1.06v1.06h-1.06zM11 22h1.06v1.06h-1.06zM11 23h1.06v1.06h-1.06zM11 24h1.06v1.06h-1.06zM11 25h1.06v1.06h-1.06zM11 26h1.06v1.06h-1.06z" fill="#5a5a5a"/>
<path d="M8 7h1.06v1.06h-1.06zM12 9h1.06v1.06h-1.06zM13 13h1.06v1.06h-1.06zM5 14h1.06v1.06h-1.06zM12 16h1.06v1.06h-1.06zM3 17h1.06v1.06h-1.06zM11 20h1.06v1.06h-1.06zM3 21h1.06v1.06h-1.06zM11 21h1.06v1.06h-1.06z" fill="#5c5c5c"/>
<path d="M10 8h1.06v1.06h-1.06zM13 10h1.06v1.06h-1.06zM13 11h1.06v1.06h-1.06zM13 12h1.06v1.06h-1.06z" fill="#5e5e5e"/>
<path d="M11 9h1.06v1.06h-1.06zM6 10h1.06v1.06h-1.06zM12 15h1.06v1.06h-1.06zM11 19h1.06v1.06h-1.06zM4 23h1.06v1.06h-1.06zM4 24h1.06v1.06h-1.06z" fill="#606060"/>
<path d="M7 8h1.06v1.06h-1.06zM9 8h1.06v1.06h-1.06zM12 10h1.06v1.06h-1.06zM6 11h1.06v1.06h-1.06zM12 14h1.06v1.06h-1.06zM4 16h1.06v1.06h-1.06zM3 18h1.06v1.06h-1.06zM11 18h1.06v1.06h-1.06zM3 20h1.06v1.06h-1.06zM4 22h1.06v1.06h-1.06zM4 25h1.06v1.06h-1.06zM4 26h1.06v1.06h-1.06z" fill="#626262"/>
<path d="M8 8h1.06v1.06h-1.06zM10 9h1.06v1.06h-1.06zM12 11h1.06v1.06h-1.06zM12 12h1.06v1.06h-1.06zM12 13h1.06v1.06h-1.06z" fill="#646464"/>
<path d="M11 10h1.06v1.06h-1.06zM6 12h1.06v1.06h-1.06zM5 15h1.06v1.06h-1.06zM11 17h1.06v1.06h-1.06zM3 19h1.06v1.06h-1.06z" fill="#666666"/>
<path d="M7 9h1.06v1.06h-1.06zM9 9h1.06v1.06h-1.06zM4 21h1.06v1.06h-1.06zM10 22h1.06v1.06h-1.06zM10 23h1.06v1.06h-1.06zM10 24h1.06v1.06h-1.06zM10 25h1.06v1.06h-1.06zM10 26h1.06v1.06h-1.06z" fill="#686868"/>
<path d="M10 10h1.06v1.06h-1.06zM11 11h1.06v1.06h-1.06zM11 12h1.06v1.06h-1.06zM6 13h1.06v1.06h-1.06zM11 13h1.06v1.06h-1.06zM11 14h1.06v1.06h-1.06zM11 15h1.06v1.06h-1.06zM11 16h1.06v1.06h-1.06zM4 17h1.06v1.06h-1.06zM10 21h1.06v1.06h-1.06zM5 22h1.06v1.06h-1.06zM5 23h1.06v1.06h-1.06zM5 24h1.06v1.06h-1.06zM5 25h1.06v1.06h-1.06zM5 26h1.06v1.06h-1.06z" fill="#6a6a6a"/>
<path d="M8 9h1.06v1.06h-1.06zM10 20h1.06v1.06h-1.06z" fill="#6c6c6c"/>
<path d="M7 10h1.06v1.06h-1.06zM9 10h1.06v1.06h-1.06zM10 11h1.06v1.06h-1.06zM10 12h1.06v1.06h-1.06zM5 16h1.06v1.06h-1.06zM10 19h1.06v1.06h-1.06zM4 20h1.06v1.06h-1.06z" fill="#6e6e6e"/>
<path d="M10 13h1.06v1.06h-1.06zM6 14h1.06v1.06h-1.06zM4 18h1.06v1.06h-1.06zM10 18h1.06v1.06h-1.06zM5 21h1.06v1.06h-1.06zM9 22h1.06v1.06h-1.06zM9 23h1.06v1.06h-1.06zM9 24h1.06v1.06h-1.06zM9 25h1.06v1.06h-1.06zM9 26h1.06v1.06h-1.06z" fill="#707070"/>
<path d="M8 10h1.06v1.06h-1.06zM7 11h1.06v1.06h-1.06zM9 11h1.06v1.06h-1.06zM10 14h1.06v1.06h-1.06zM4 19h1.06v1.06h-1.06zM6 22h1.06v1.06h-1.06zM6 23h1.06v1.06h-1.06zM6 24h1.06v1.06h-1.06zM6 25h1.06v1.06h-1.06zM6 26h1.06v1.06h-1.06z" fill="#727272"/>
<path d="M9 12h1.06v1.06h-1.06zM10 15h1.06v1.06h-1.06zM10 16h1.06v1.06h-1.06zM10 17h1.06v1.06h-1.06zM9 21h1.06v1.06h-1.06zM8 23h1.06v1.06h-1.06z" fill="#747474"/>
<path d="M8 11h1.06v1.06h-1.06zM7 12h1.06v1.06h-1.06zM9 13h1.06v1.06h-1.06zM6 15h1.06v1.06h-1.06zM5 17h1.06v1.06h-1.06zM7 22h2.06v1.06h-2.06zM7 23h1.06v1.06h-1.06zM7 24h2.06v1.06h-2.06zM7 25h2.06v1.06h-2.06zM7 26h2.06v1.06h-2.06z" fill="#767676"/>
<path d="M8 12h1.06v1.06h-1.06zM7 13h1.06v1.06h-1.06zM5 20h1.06v1.06h-1.06zM9 20h1.06v1.06h-1.06zM6 21h1.06v1.06h-1.06z" fill="#787878"/>
<path d="M9 14h1.06v1.06h-1.06zM5 18h1.06v1.06h-1.06zM9 19h1.06v1.06h-1.06zM8 21h1.06v1.06h-1.06z" fill="#7a7a7a"/>
<path d="M8 13h1.06v1.06h-1.06zM7 14h1.06v1.06h-1.06zM9 15h1.06v1.06h-1.06zM6 16h1.06v1.06h-1.06zM9 18h1.06v1.06h-1.06zM5 19h1.06v1.06h-1.06zM7 21h1.06v1.06h-1.06z" fill="#7c7c7c"/>
<path d="M8 14h1.06v1.06h-1.06zM9 16h1.06v1.06h-1.06zM9 17h1.06v1.06h-1.06z" fill="#7e7e7e"/>
<path d="M7 15h2.06v1.06h-2.06zM6 17h1.06v1.06h-1.06zM6 20h1.06v1.06h-1.06zM8 20h1.06v1.06h-1.06z" fill="#808080"/>
<path d="M8 16h1.06v1.06h-1.06zM7 20h1.06v1.06h-1.06z" fill="#828282"/>
<path d="M7 16h1.06v1.06h-1.06zM8 17h1.06v1.06h-1.06zM6 18h1.06v1.06h-1.06zM8 18h1.06v1.06h-1.06zM6 19h1.06v1.06h-1.06zM8 19h1.06v1.06h-1.06z" fill="#848484"/>
<path d="M7 17h1.06v1.06h-1.06z" fill="#868686"/>
<path d="M7 18h1.06v1.06h-1.06zM7 19h1.06v1.06h-1.06z" fill="#888888"/>
</g></g></g>
<g clip-path="url(#cp02)"><g filter="url(#bl)"><g transform="translate(1181.1,1067.9) scale(13.99167,13.98750)">
<path d="M13 22h1.06v1.06h-1.06zM13 23h1.06v1.06h-1.06zM13 24h1.06v1.06h-1.06zM13 25h1.06v1.06h-1.06zM13 26h1.06v1.06h-1.06z" fill="#0a0a0a"/>
<path d="M12 22h1.06v1.06h-1.06zM12 23h1.06v1.06h-1.06zM12 24h1.06v1.06h-1.06zM12 25h1.06v1.06h-1.06zM12 26h1.06v1.06h-1.06z" fill="#0c0c0c"/>
<path d="M8 16h1.06v1.06h-1.06zM9 17h1.06v1.06h-1.06zM10 18h1.06v1.06h-1.06zM10 19h1.06v1.06h-1.06zM12 21h2.06v1.06h-2.06z" fill="#0e0e0e"/>
<path d="M7 15h2.06v1.06h-2.06zM7 16h1.06v1.06h-1.06zM9 16h1.06v1.06h-1.06zM8 17h1.06v1.06h-1.06zM10 17h1.06v1.06h-1.06zM9 18h1.06v1.06h-1.06zM11 19h1.06v1.06h-1.06zM11 20h2.06v1.06h-2.06zM14 23h1.06v1.06h-1.06zM14 24h1.06v1.06h-1.06z" fill="#101010"/>
<path d="M5 14h3.06v1.06h-3.06zM6 15h1.06v1.06h-1.06zM11 18h1.06v1.06h-1.06zM10 20h1.06v1.06h-1.06zM11 21h1.06v1.06h-1.06zM14 22h1.06v1.06h-1.06zM14 25h1.06v1.06h-1.06zM14 26h1.06v1.06h-1.06z" fill="#121212"/>
<path d="M23 12h1.06v1.06h-1.06zM3 13h4.06v1.06h-4.06zM9 15h1.06v1.06h-1.06zM10 16h1.06v1.06h-1.06zM9 19h1.06v1.06h-1.06zM12 19h1.06v1.06h-1.06zM13 20h1.06v1.06h-1.06zM11 22h1.06v1.06h-1.06zM11 23h1.06v1.06h-1.06zM11 24h1.06v1.06h-1.06zM11 25h1.06v1.06h-1.06zM11 26h1.06v1.06h-1.06z" fill="#141414"/>
<path d="M23 11h1.06v1.06h-1.06zM-3 12h8.06v1.06h-8.06zM22 12h1.06v1.06h-1.06zM24 12h3.06v1.06h-3.06zM23 13h2.06v1.06h-2.06zM4 14h1.06v1.06h-1.06zM8 14h1.06v1.06h-1.06zM5 15h1.06v1.06h-1.06zM6 16h1.06v1.06h-1.06zM7 17h1.06v1.06h-1.06zM8 18h1.06v1.06h-1.06zM14 21h1.06v1.06h-1.06z" fill="#161616"/>
<path d="M-1 11h2.06v1.06h-2.06zM22 11h1.06v1.06h-1.06zM24 11h3.06v1.06h-3.06zM5 12h1.06v1.06h-1.06zM21 12h1.06v1.06h-1.06zM2 13h1.06v1.06h-1.06zM7 13h1.06v1.06h-1.06zM22 13h1.06v1.06h-1.06zM25 13h2.06v1.06h-2.06zM11 17h1.06v1.06h-1.06z" fill="#181818"/>
<path d="M-3 11h2.06v1.06h-2.06zM1 11h2.06v1.06h-2.06zM21 11h1.06v1.06h-1.06zM6 12h1.06v1.06h-1.06zM-3 13h5.06v1.06h-5.06zM3 14h1.06v1.06h-1.06zM9 14h1.06v1.06h-1.06zM10 15h1.06v1.06h-1.06zM12 18h1.06v1.06h-1.06zM9 20h1.06v1.06h-1.06zM10 21h1.06v1.06h-1.06z" fill="#1a1a1a"/>
<path d="M3 11h1.06v1.06h-1.06zM20 11h1.06v1.06h-1.06zM8 13h1.06v1.06h-1.06zM21 13h1.06v1.06h-1.06zM22 14h5.06v1.06h-5.06zM4 15h1.06v1.06h-1.06zM5 16h1.06v1.06h-1.06zM6 17h1.06v1.06h-1.06zM8 19h1.06v1.06h-1.06zM13 19h1.06v1.06h-1.06zM15 23h1.06v1.06h-1.06zM15 24h1.06v1.06h-1.06z" fill="#1c1c1c"/>
<path d="M21 10h6.06v1.06h-6.06zM4 11h1.06v1.06h-1.06zM7 12h1.06v1.06h-1.06zM20 12h1.06v1.06h-1.06zM2 14h1.06v1.06h-1.06zM11 16h1.06v1.06h-1.06zM7 18h1.06v1.06h-1.06zM10 22h1.06v1.06h-1.06zM15 22h1.06v1.06h-1.06zM10 23h1.06v1.06h-1.06zM10 24h1.06v1.06h-1.06zM10 25h1.06v1.06h-1.06zM15 25h1.06v1.06h-1.06zM10 26h1.06v1.06h-1.06zM15 26h1.06v1.06h-1.06z" fill="#1e1e1e"/>
<path d="M-3 10h5.06v1.06h-5.06zM20 10h1.06v1.06h-1.06zM5 11h1.06v1.06h-1.06zM14 20h1.06v1.06h-1.06z" fill="#202020"/>
<path d="M2 10h1.06v1.06h-1.06zM19 10h1.06v1.06h-1.06zM19 11h1.06v1.06h-1.06zM9 13h1.06v1.06h-1.06zM20 13h1.06v1.06h-1.06zM-3 14h2.06v1.06h-2.06zM1 14h1.06v1.06h-1.06zM10 14h1.06v1.06h-1.06zM21 14h1.06v1.06h-1.06zM3 15h1.06v1.06h-1.06zM12 17h1.06v1.06h-1.06z" fill="#222222"/>
<path d="M3 10h1.06v1.06h-1.06zM6 11h1.06v1.06h-1.06zM8 12h1.06v1.06h-1.06zM19 12h1.06v1.06h-1.06zM-1 14h2.06v1.06h-2.06zM11 15h1.06v1.06h-1.06zM23 15h1.06v1.06h-1.06zM4 16h1.06v1.06h-1.06zM13 18h1.06v1.06h-1.06zM9 21h1.06v1.06h-1.06zM15 21h1.06v1.06h-1.06z" fill="#242424"/>
<path d="M22 15h1.06v1.06h-1.06zM24 15h3.06v1.06h-3.06zM5 17h1.06v1.06h-1.06zM6 18h1.06v1.06h-1.06zM7 19h1.06v1.06h-1.06zM8 20h1.06v1.06h-1.06z" fill="#262626"/>
<path d="M16 0h1.06v1.06h-1.06zM19 9h2.06v1.06h-2.06zM4 10h1.06v1.06h-1.06zM18 10h1.06v1.06h-1.06zM7 11h1.06v1.06h-1.06zM18 11h1.06v1.06h-1.06zM19 13h1.06v1.06h-1.06zM20 14h1.06v1.06h-1.06zM14 19h1.06v1.06h-1.06zM16 23h1.06v1.06h-1.06z" fill="#282828"/>
<path d="M16 -3h1.06v1.06h-1.06zM16 -2h1.06v1.06h-1.06zM16 -1h1.06v1.06h-1.06zM16 1h1.06v1.06h-1.06zM21 9h6.06v1.06h-6.06zM10 13h1.06v1.06h-1.06zM2 15h1.06v1.06h-1.06zM21 15h1.06v1.06h-1.06zM12 16h1.06v1.06h-1.06zM9 22h1.06v1.06h-1.06zM16 22h1.06v1.06h-1.06zM16 24h1.06v1.06h-1.06zM9 25h1.06v1.06h-1.06zM16 25h1.06v1.06h-1.06zM9 26h1.06v1.06h-1.06zM16 26h1.06v1.06h-1.06z" fill="#2a2a2a"/>
<path d="M15 -1h1.06v1.06h-1.06zM15 0h1.06v1.06h-1.06zM-3 9h5.06v1.06h-5.06zM18 9h1.06v1.06h-1.06zM5 10h1.06v1.06h-1.06zM9 12h1.06v1.06h-1.06zM18 12h1.06v1.06h-1.06zM11 14h1.06v1.06h-1.06zM3 16h1.06v1.06h-1.06zM9 23h1.06v1.06h-1.06zM9 24h1.06v1.06h-1.06z" fill="#2c2c2c"/>
<path d="M15 -3h1.06v1.06h-1.06zM15 -2h1.06v1.06h-1.06zM15 1h1.06v1.06h-1.06zM6 10h1.06v1.06h-1.06zM8 11h1.06v1.06h-1.06zM19 14h1.06v1.06h-1.06zM22 16h5.06v1.06h-5.06zM4 17h1.06v1.06h-1.06zM13 17h1.06v1.06h-1.06zM15 20h1.06v1.06h-1.06z" fill="#2e2e2e"/>
<path d="M17 -3h1.06v1.06h-1.06zM17 -2h1.06v1.06h-1.06zM17 -1h1.06v1.06h-1.06zM17 0h1.06v1.06h-1.06zM17 1h1.06v1.06h-1.06zM16 2h1.06v1.06h-1.06zM2 9h1.06v1.06h-1.06zM17 10h1.06v1.06h-1.06zM-3 15h2.06v1.06h-2.06zM1 15h1.06v1.06h-1.06zM20 15h1.06v1.06h-1.06zM5 18h1.06v1.06h-1.06zM14 18h1.06v1.06h-1.06zM6 19h1.06v1.06h-1.06zM16 21h1.06v1.06h-1.06z" fill="#303030"/>
<path d="M19 8h1.06v1.06h-1.06zM3 9h1.06v1.06h-1.06zM17 9h1.06v1.06h-1.06zM7 10h1.06v1.06h-1.06zM17 11h1.06v1.06h-1.06zM10 12h1.06v1.06h-1.06zM18 13h1.06v1.06h-1.06zM-1 15h2.06v1.06h-2.06zM12 15h1.06v1.06h-1.06zM21 16h1.06v1.06h-1.06zM7 20h1.06v1.06h-1.06zM8 21h1.06v1.06h-1.06z" fill="#323232"/>
<path d="M15 2h1.06v1.06h-1.06zM18 8h1.06v1.06h-1.06zM20 8h1.06v1.06h-1.06zM11 13h1.06v1.06h-1.06zM17 23h1.06v1.06h-1.06z" fill="#343434"/>
<path d="M14 -3h1.06v1.06h-1.06zM14 -2h1.06v1.06h-1.06zM14 -1h1.06v1.06h-1.06zM14 0h1.06v1.06h-1.06zM14 1h1.06v1.06h-1.06zM17 2h1.06v1.06h-1.06zM17 8h1.06v1.06h-1.06zM4 9h1.06v1.06h-1.06zM9 11h1.06v1.06h-1.06zM17 12h1.06v1.06h-1.06zM19 15h1.06v1.06h-1.06zM2 16h1.06v1.06h-1.06zM23 17h2.06v1.06h-2.06zM15 19h1.06v1.06h-1.06zM17 22h1.06v1.06h-1.06zM17 24h1.06v1.06h-1.06zM17 25h1.06v1.06h-1.06zM17 26h1.06v1.06h-1.06z" fill="#363636"/>
<path d="M21 8h1.06v1.06h-1.06zM5 9h1.06v1.06h-1.06zM16 9h1.06v1.06h-1.06zM8 10h1.06v1.06h-1.06zM16 10h1.06v1.06h-1.06zM18 14h1.06v1.06h-1.06zM13 16h1.06v1.06h-1.06zM20 16h1.06v1.06h-1.06zM3 17h1.06v1.06h-1.06zM22 17h1.06v1.06h-1.06zM25 17h2.06v1.06h-2.06z" fill="#383838"/>
<path d="M16 3h1.06v1.06h-1.06zM17 7h2.06v1.06h-2.06zM16 8h1.06v1.06h-1.06zM16 11h1.06v1.06h-1.06zM12 14h1.06v1.06h-1.06zM14 17h1.06v1.06h-1.06zM21 17h1.06v1.06h-1.06zM4 18h1.06v1.06h-1.06zM16 20h1.06v1.06h-1.06zM8 22h1.06v1.06h-1.06zM8 25h1.06v1.06h-1.06zM8 26h1.06v1.06h-1.06z" fill="#3a3a3a"/>
<path d="M18 -1h1.06v1.06h-1.06zM18 0h1.06v1.06h-1.06zM14 2h1.06v1.06h-1.06zM15 3h1.06v1.06h-1.06zM19 7h1.06v1.06h-1.06zM22 8h5.06v1.06h-5.06zM6 9h1.06v1.06h-1.06zM10 11h1.06v1.06h-1.06zM11 12h1.06v1.06h-1.06zM17 13h1.06v1.06h-1.06zM5 19h1.06v1.06h-1.06zM6 20h1.06v1.06h-1.06zM17 21h1.06v1.06h-1.06zM8 23h1.06v1.06h-1.06zM8 24h1.06v1.06h-1.06z" fill="#3c3c3c"/>
<path d="M18 -3h1.06v1.06h-1.06zM18 -2h1.06v1.06h-1.06zM13 0h1.06v1.06h-1.06zM18 1h1.06v1.06h-1.06zM17 3h1.06v1.06h-1.06zM17 6h1.06v1.06h-1.06zM16 7h1.06v1.06h-1.06zM-3 8h5.06v1.06h-5.06zM7 9h1.06v1.06h-1.06zM9 10h1.06v1.06h-1.06zM13 15h1.06v1.06h-1.06zM18 15h1.06v1.06h-1.06zM-3 16h3.06v1.06h-3.06zM1 16h1.06v1.06h-1.06zM19 16h1.06v1.06h-1.06zM20 17h1.06v1.06h-1.06zM15 18h1.06v1.06h-1.06zM7 21h1.06v1.06h-1.06z" fill="#3e3e3e"/>
<path d="M13 -3h1.06v1.06h-1.06zM13 -2h1.06v1.06h-1.06zM13 -1h1.06v1.06h-1.06zM13 1h1.06v1.06h-1.06zM18 2h1.06v1.06h-1.06zM16 4h1.06v1.06h-1.06zM16 5h1.06v1.06h-1.06zM16 6h1.06v1.06h-1.06zM18 6h1.06v1.06h-1.06zM20 7h1.06v1.06h-1.06zM2 8h1.06v1.06h-1.06zM15 9h1.06v1.06h-1.06zM15 10h1.06v1.06h-1.06zM16 12h1.06v1.06h-1.06zM12 13h1.06v1.06h-1.06zM0 16h1.06v1.06h-1.06zM14 16h1.06v1.06h-1.06zM22 18h5.06v1.06h-5.06z" fill="#404040"/>
<path d="M14 3h1.06v1.06h-1.06zM15 4h1.06v1.06h-1.06zM17 4h1.06v1.06h-1.06zM17 5h1.06v1.06h-1.06zM3 8h1.06v1.06h-1.06zM15 8h1.06v1.06h-1.06zM11 11h1.06v1.06h-1.06zM15 11h1.06v1.06h-1.06zM17 14h1.06v1.06h-1.06zM2 17h1.06v1.06h-1.06zM19 17h1.06v1.06h-1.06zM21 18h1.06v1.06h-1.06zM16 19h1.06v1.06h-1.06zM17 20h1.06v1.06h-1.06zM18 22h1.06v1.06h-1.06zM18 23h1.06v1.06h-1.06zM18 24h1.06v1.06h-1.06zM18 25h1.06v1.06h-1.06zM18 26h1.06v1.06h-1.06z" fill="#424242"/>
<path d="M13 2h1.06v1.06h-1.06zM15 5h1.06v1.06h-1.06zM18 5h1.06v1.06h-1.06zM15 6h1.06v1.06h-1.06zM19 6h1.06v1.06h-1.06zM15 7h1.06v1.06h-1.06zM8 9h1.06v1.06h-1.06zM10 10h1.06v1.06h-1.06zM16 13h1.06v1.06h-1.06zM13 14h1.06v1.06h-1.06zM18 16h1.06v1.06h-1.06zM15 17h1.06v1.06h-1.06zM3 18h1.06v1.06h-1.06zM20 18h1.06v1.06h-1.06zM18 21h1.06v1.06h-1.06z" fill="#444444"/>
<path d="M12 -3h1.06v1.06h-1.06zM12 -2h1.06v1.06h-1.06zM12 -1h1.06v1.06h-1.06zM12 0h1.06v1.06h-1.06zM12 1h1.06v1.06h-1.06zM18 3h1.06v1.06h-1.06zM4 8h1.06v1.06h-1.06zM12 12h1.06v1.06h-1.06zM15 12h1.06v1.06h-1.06zM14 15h1.06v1.06h-1.06zM17 15h1.06v1.06h-1.06zM16 18h1.06v1.06h-1.06zM4 19h1.06v1.06h-1.06z" fill="#464646"/>
<path d="M13 3h1.06v1.06h-1.06zM14 4h1.06v1.06h-1.06zM18 4h1.06v1.06h-1.06zM21 7h1.06v1.06h-1.06zM5 8h1.06v1.06h-1.06zM9 9h1.06v1.06h-1.06zM14 9h1.06v1.06h-1.06zM11 10h1.06v1.06h-1.06zM14 10h1.06v1.06h-1.06zM12 11h1.06v1.06h-1.06zM14 11h1.06v1.06h-1.06zM13 13h1.06v1.06h-1.06zM15 13h1.06v1.06h-1.06zM14 14h1.06v1.06h-1.06zM16 14h1.06v1.06h-1.06zM15 16h1.06v1.06h-1.06zM-3 17h3.06v1.06h-3.06zM1 17h1.06v1.06h-1.06zM18 17h1.06v1.06h-1.06zM18 18h2.06v1.06h-2.06zM17 19h1.06v1.06h-1.06zM22 19h5.06v1.06h-5.06zM5 20h1.06v1.06h-1.06zM18 20h1.06v1.06h-1.06zM7 22h1.06v1.06h-1.06zM7 25h1.06v1.06h-1.06zM7 26h1.06v1.06h-1.06z" fill="#484848"/>
<path d="M19 -3h1.06v1.06h-1.06zM19 -2h1.06v1.06h-1.06zM19 -1h1.06v1.06h-1.06zM19 0h1.06v1.06h-1.06zM19 1h1.06v1.06h-1.06zM12 2h1.06v1.06h-1.06zM14 5h1.06v1.06h-1.06zM19 5h1.06v1.06h-1.06zM14 6h1.06v1.06h-1.06zM20 6h1.06v1.06h-1.06zM14 7h1.06v1.06h-1.06zM6 8h1.06v1.06h-1.06zM14 8h1.06v1.06h-1.06zM13 12h2.06v1.06h-2.06zM14 13h1.06v1.06h-1.06zM15 14h1.06v1.06h-1.06zM15 15h1.06v1.06h-1.06zM17 16h1.06v1.06h-1.06zM0 17h1.06v1.06h-1.06zM16 17h2.06v1.06h-2.06zM17 18h1.06v1.06h-1.06zM18 19h4.06v1.06h-4.06zM6 21h1.06v1.06h-1.06zM7 23h1.06v1.06h-1.06zM7 24h1.06v1.06h-1.06z" fill="#4a4a4a"/>
<path d="M11 0h1.06v1.06h-1.06zM19 2h1.06v1.06h-1.06zM13 4h1.06v1.06h-1.06zM22 7h1.06v1.06h-1.06zM24 7h3.06v1.06h-3.06zM7 8h1.06v1.06h-1.06zM10 9h1.06v1.06h-1.06zM12 10h2.06v1.06h-2.06zM13 11h1.06v1.06h-1.06zM16 15h1.06v1.06h-1.06zM16 16h1.06v1.06h-1.06zM2 18h1.06v1.06h-1.06zM19 20h1.06v1.06h-1.06zM19 21h1.06v1.06h-1.06zM19 22h1.06v1.06h-1.06zM19 23h1.06v1.06h-1.06zM19 24h1.06v1.06h-1.06zM19 25h1.06v1.06h-1.06zM19 26h1.06v1.06h-1.06z" fill="#4c4c4c"/>
<path d="M11 -3h1.06v1.06h-1.06zM11 -2h1.06v1.06h-1.06zM11 -1h1.06v1.06h-1.06zM11 1h1.06v1.06h-1.06zM12 3h1.06v1.06h-1.06zM19 3h1.06v1.06h-1.06zM19 4h1.06v1.06h-1.06zM13 5h1.06v1.06h-1.06zM-3 7h5.06v1.06h-5.06zM23 7h1.06v1.06h-1.06zM8 8h1.06v1.06h-1.06zM11 9h1.06v1.06h-1.06zM13 9h1.06v1.06h-1.06zM3 19h1.06v1.06h-1.06zM20 20h1.06v1.06h-1.06z" fill="#4e4e4e"/>
<path d="M11 2h1.06v1.06h-1.06zM12 4h1.06v1.06h-1.06zM13 6h1.06v1.06h-1.06zM2 7h1.06v1.06h-1.06zM13 7h1.06v1.06h-1.06zM9 8h1.06v1.06h-1.06zM13 8h1.06v1.06h-1.06zM12 9h1.06v1.06h-1.06zM-3 18h2.06v1.06h-2.06zM1 18h1.06v1.06h-1.06zM4 20h1.06v1.06h-1.06zM21 20h6.06v1.06h-6.06z" fill="#505050"/>
<path d="M11 3h1.06v1.06h-1.06zM12 5h1.06v1.06h-1.06zM3 7h1.06v1.06h-1.06zM10 8h3.06v1.06h-3.06zM-1 18h2.06v1.06h-2.06zM5 21h1.06v1.06h-1.06zM20 21h1.06v1.06h-1.06zM6 22h1.06v1.06h-1.06zM6 25h1.06v1.06h-1.06zM6 26h1.06v1.06h-1.06z" fill="#525252"/>
<path d="M10 -3h1.06v1.06h-1.06zM10 -2h1.06v1.06h-1.06zM10 -1h1.06v1.06h-1.06zM10 0h1.06v1.06h-1.06zM10 1h1.06v1.06h-1.06zM11 4h1.06v1.06h-1.06zM20 5h1.06v1.06h-1.06zM12 6h1.06v1.06h-1.06zM21 6h1.06v1.06h-1.06zM4 7h1.06v1.06h-1.06zM12 7h1.06v1.06h-1.06zM2 19h1.06v1.06h-1.06zM20 22h1.06v1.06h-1.06zM6 23h1.06v1.06h-1.06zM20 23h1.06v1.06h-1.06zM6 24h1.06v1.06h-1.06zM20 24h1.06v1.06h-1.06zM20 25h1.06v1.06h-1.06zM20 26h1.06v1.06h-1.06z" fill="#545454"/>
<path d="M10 2h1.06v1.06h-1.06zM11 5h1.06v1.06h-1.06zM11 6h1.06v1.06h-1.06zM5 7h3.06v1.06h-3.06zM10 7h2.06v1.06h-2.06zM21 21h1.06v1.06h-1.06z" fill="#565656"/>
<path d="M20 -3h1.06v1.06h-1.06zM20 -2h1.06v1.06h-1.06zM20 -1h1.06v1.06h-1.06zM20 0h1.06v1.06h-1.06zM20 1h1.06v1.06h-1.06zM10 3h1.06v1.06h-1.06zM8 7h2.06v1.06h-2.06zM3 20h1.06v1.06h-1.06zM22 21h5.06v1.06h-5.06z" fill="#585858"/>
<path d="M20 2h1.06v1.06h-1.06zM20 3h1.06v1.06h-1.06zM10 4h1.06v1.06h-1.06zM20 4h1.06v1.06h-1.06zM10 5h1.06v1.06h-1.06zM10 6h1.06v1.06h-1.06zM22 6h1.06v1.06h-1.06zM25 6h2.06v1.06h-2.06zM-3 19h5.06v1.06h-5.06zM4 21h1.06v1.06h-1.06zM5 22h1.06v1.06h-1.06zM21 22h1.06v1.06h-1.06zM21 23h1.06v1.06h-1.06zM21 24h1.06v1.06h-1.06zM5 25h1.06v1.06h-1.06zM21 25h1.06v1.06h-1.06zM5 26h1.06v1.06h-1.06zM21 26h1.06v1.06h-1.06z" fill="#5a5a5a"/>
<path d="M-3 6h5.06v1.06h-5.06zM9 6h1.06v1.06h-1.06zM23 6h2.06v1.06h-2.06zM2 20h1.06v1.06h-1.06zM5 24h1.06v1.06h-1.06z" fill="#5c5c5c"/>
<path d="M9 -3h1.06v1.06h-1.06zM9 -2h1.06v1.06h-1.06zM9 -1h1.06v1.06h-1.06zM9 0h1.06v1.06h-1.06zM9 1h1.06v1.06h-1.06zM9 2h1.06v1.06h-1.06zM9 5h1.06v1.06h-1.06zM2 6h1.06v1.06h-1.06zM8 6h1.06v1.06h-1.06zM22 22h5.06v1.06h-5.06zM5 23h1.06v1.06h-1.06zM22 23h1.06v1.06h-1.06zM25 23h2.06v1.06h-2.06zM22 24h1.06v1.06h-1.06zM24 24h3.06v1.06h-3.06zM22 25h5.06v1.06h-5.06zM22 26h5.06v1.06h-5.06z" fill="#5e5e5e"/>
<path d="M9 3h1.06v1.06h-1.06zM9 4h1.06v1.06h-1.06zM21 5h1.06v1.06h-1.06zM7 6h1.06v1.06h-1.06zM-3 20h3.06v1.06h-3.06zM1 20h1.06v1.06h-1.06zM3 21h1.06v1.06h-1.06zM23 23h2.06v1.06h-2.06zM23 24h1.06v1.06h-1.06z" fill="#606060"/>
<path d="M3 6h1.06v1.06h-1.06zM6 6h1.06v1.06h-1.06zM0 20h1.06v1.06h-1.06zM4 22h1.06v1.06h-1.06zM4 24h1.06v1.06h-1.06zM4 25h1.06v1.06h-1.06zM4 26h1.06v1.06h-1.06z" fill="#626262"/>
<path d="M8 5h1.06v1.06h-1.06zM4 6h2.06v1.06h-2.06zM2 21h1.06v1.06h-1.06zM4 23h1.06v1.06h-1.06z" fill="#646464"/>
<path d="M8 -3h1.06v1.06h-1.06zM21 -3h1.06v1.06h-1.06zM8 -2h1.06v1.06h-1.06zM21 -2h1.06v1.06h-1.06zM8 -1h1.06v1.06h-1.06zM21 -1h1.06v1.06h-1.06zM8 0h1.06v1.06h-1.06zM21 0h1.06v1.06h-1.06zM8 1h1.06v1.06h-1.06zM21 1h1.06v1.06h-1.06zM21 4h1.06v1.06h-1.06zM-3 21h5.06v1.06h-5.06zM3 22h1.06v1.06h-1.06zM3 24h1.06v1.06h-1.06zM3 25h1.06v1.06h-1.06zM3 26h1.06v1.06h-1.06z" fill="#666666"/>
<path d="M8 2h1.06v1.06h-1.06zM21 2h1.06v1.06h-1.06zM8 3h1.06v1.06h-1.06zM8 4h1.06v1.06h-1.06zM0 5h1.06v1.06h-1.06zM7 5h1.06v1.06h-1.06zM22 5h1.06v1.06h-1.06zM24 5h3.06v1.06h-3.06zM2 22h1.06v1.06h-1.06zM3 23h1.06v1.06h-1.06zM2 25h1.06v1.06h-1.06zM2 26h1.06v1.06h-1.06z" fill="#686868"/>
<path d="M21 3h1.06v1.06h-1.06zM-3 5h3.06v1.06h-3.06zM1 5h1.06v1.06h-1.06zM23 5h1.06v1.06h-1.06zM-3 22h5.06v1.06h-5.06zM2 23h1.06v1.06h-1.06zM-3 24h3.06v1.06h-3.06zM1 24h2.06v1.06h-2.06zM-3 25h5.06v1.06h-5.06zM-3 26h5.06v1.06h-5.06z" fill="#6a6a6a"/>
<path d="M2 5h1.06v1.06h-1.06zM-3 23h5.06v1.06h-5.06zM0 24h1.06v1.06h-1.06z" fill="#6c6c6c"/>
<path d="M7 -3h1.06v1.06h-1.06zM7 -2h1.06v1.06h-1.06zM7 -1h1.06v1.06h-1.06zM7 0h1.06v1.06h-1.06zM7 1h1.06v1.06h-1.06zM7 4h1.06v1.06h-1.06zM6 5h1.06v1.06h-1.06z" fill="#6e6e6e"/>
<path d="M22 -3h1.06v1.06h-1.06zM25 -3h2.06v1.06h-2.06zM22 -2h1.06v1.06h-1.06zM25 -2h2.06v1.06h-2.06zM22 -1h1.06v1.06h-1.06zM25 -1h2.06v1.06h-2.06zM22 0h1.06v1.06h-1.06zM25 0h2.06v1.06h-2.06zM22 1h1.06v1.06h-1.06zM25 1h2.06v1.06h-2.06zM7 2h1.06v1.06h-1.06zM7 3h1.06v1.06h-1.06zM22 4h1.06v1.06h-1.06zM25 4h2.06v1.06h-2.06zM3 5h1.06v1.06h-1.06zM5 5h1.06v1.06h-1.06z" fill="#707070"/>
<path d="M24 -3h1.06v1.06h-1.06zM24 -2h1.06v1.06h-1.06zM24 -1h1.06v1.06h-1.06zM24 0h1.06v1.06h-1.06zM24 1h1.06v1.06h-1.06zM22 2h1.06v1.06h-1.06zM24 2h3.06v1.06h-3.06zM-3 4h5.06v1.06h-5.06zM23 4h2.06v1.06h-2.06zM4 5h1.06v1.06h-1.06z" fill="#727272"/>
<path d="M-3 -3h5.06v1.06h-5.06zM23 -3h1.06v1.06h-1.06zM-3 -2h5.06v1.06h-5.06zM23 -2h1.06v1.06h-1.06zM-3 -1h5.06v1.06h-5.06zM23 -1h1.06v1.06h-1.06zM-3 0h5.06v1.06h-5.06zM23 0h1.06v1.06h-1.06zM-3 1h5.06v1.06h-5.06zM23 1h1.06v1.06h-1.06zM-1 2h2.06v1.06h-2.06zM23 2h1.06v1.06h-1.06zM0 3h1.06v1.06h-1.06zM22 3h1.06v1.06h-1.06zM24 3h3.06v1.06h-3.06zM6 4h1.06v1.06h-1.06z" fill="#747474"/>
<path d="M6 -3h1.06v1.06h-1.06zM6 -2h1.06v1.06h-1.06zM6 -1h1.06v1.06h-1.06zM6 0h1.06v1.06h-1.06zM6 1h1.06v1.06h-1.06zM-3 2h2.06v1.06h-2.06zM1 2h1.06v1.06h-1.06zM6 2h1.06v1.06h-1.06zM-3 3h3.06v1.06h-3.06zM1 3h1.06v1.06h-1.06zM23 3h1.06v1.06h-1.06zM2 4h1.06v1.06h-1.06z" fill="#767676"/>
<path d="M2 -3h1.06v1.06h-1.06zM2 -2h1.06v1.06h-1.06zM2 -1h1.06v1.06h-1.06zM2 0h1.06v1.06h-1.06zM2 1h1.06v1.06h-1.06zM6 3h1.06v1.06h-1.06z" fill="#787878"/>
<path d="M2 2h1.06v1.06h-1.06zM2 3h1.06v1.06h-1.06zM5 4h1.06v1.06h-1.06z" fill="#7a7a7a"/>
<path d="M5 -3h1.06v1.06h-1.06zM5 -2h1.06v1.06h-1.06zM5 -1h1.06v1.06h-1.06zM5 0h1.06v1.06h-1.06zM5 1h1.06v1.06h-1.06zM5 2h1.06v1.06h-1.06zM3 4h1.06v1.06h-1.06z" fill="#7c7c7c"/>
<path d="M3 -3h1.06v1.06h-1.06zM3 -2h1.06v1.06h-1.06zM3 -1h1.06v1.06h-1.06zM3 0h1.06v1.06h-1.06zM3 1h1.06v1.06h-1.06zM3 2h1.06v1.06h-1.06zM3 3h1.06v1.06h-1.06zM5 3h1.06v1.06h-1.06zM4 4h1.06v1.06h-1.06z" fill="#7e7e7e"/>
<path d="M4 -3h1.06v1.06h-1.06zM4 -2h1.06v1.06h-1.06zM4 -1h1.06v1.06h-1.06zM4 0h1.06v1.06h-1.06zM4 1h1.06v1.06h-1.06zM4 2h1.06v1.06h-1.06zM4 3h1.06v1.06h-1.06z" fill="#808080"/>
</g></g></g>
<g clip-path="url(#cp03)"><g filter="url(#bl)"><g transform="translate(1525.1,1067.9) scale(13.99167,13.98750)">
<path d="M11 9h2.06v1.06h-2.06z" fill="#080808"/>
<path d="M9 4h2.06v1.06h-2.06zM9 5h2.06v1.06h-2.06zM10 6h1.06v1.06h-1.06zM10 7h2.06v1.06h-2.06zM10 8h3.06v1.06h-3.06zM10 9h1.06v1.06h-1.06zM13 9h1.06v1.06h-1.06z" fill="#0a0a0a"/>
<path d="M9 6h1.06v1.06h-1.06zM11 6h1.06v1.06h-1.06zM12 7h1.06v1.06h-1.06zM9 8h1.06v1.06h-1.06zM13 8h1.06v1.06h-1.06zM9 9h1.06v1.06h-1.06zM10 10h4.06v1.06h-4.06zM0 16h1.06v1.06h-1.06zM23 16h1.06v1.06h-1.06zM0 17h1.06v1.06h-1.06zM23 17h1.06v1.06h-1.06zM0 18h1.06v1.06h-1.06zM23 18h1.06v1.06h-1.06zM0 19h1.06v1.06h-1.06z" fill="#0c0c0c"/>
<path d="M9 3h2.06v1.06h-2.06zM8 4h1.06v1.06h-1.06zM9 7h1.06v1.06h-1.06zM13 7h1.06v1.06h-1.06zM8 9h1.06v1.06h-1.06zM14 9h1.06v1.06h-1.06zM9 10h1.06v1.06h-1.06zM23 14h1.06v1.06h-1.06zM-1 15h2.06v1.06h-2.06zM23 15h2.06v1.06h-2.06zM-3 16h3.06v1.06h-3.06zM1 16h1.06v1.06h-1.06zM22 16h1.06v1.06h-1.06zM24 16h3.06v1.06h-3.06zM-3 17h3.06v1.06h-3.06zM1 17h1.06v1.06h-1.06zM22 17h1.06v1.06h-1.06zM24 17h3.06v1.06h-3.06zM-3 18h3.06v1.06h-3.06zM1 18h1.06v1.06h-1.06zM22 18h1.06v1.06h-1.06zM24 18h3.06v1.06h-3.06zM-3 19h3.06v1.06h-3.06zM1 19h1.06v1.06h-1.06zM22 19h5.06v1.06h-5.06zM-3 20h5.06v1.06h-5.06zM23 20h2.06v1.06h-2.06zM-3 21h5.06v1.06h-5.06zM-3 22h5.06v1.06h-5.06zM-3 23h5.06v1.06h-5.06zM-3 24h5.06v1.06h-5.06zM-3 25h5.06v1.06h-5.06zM-3 26h5.06v1.06h-5.06z" fill="#0e0e0e"/>
<path d="M8 3h1.06v1.06h-1.06zM8 5h1.06v1.06h-1.06zM11 5h1.06v1.06h-1.06zM8 6h1.06v1.06h-1.06zM8 8h1.06v1.06h-1.06zM14 8h1.06v1.06h-1.06zM8 10h1.06v1.06h-1.06zM14 10h1.06v1.06h-1.06zM23 12h2.06v1.06h-2.06zM22 13h5.06v1.06h-5.06zM-1 14h2.06v1.06h-2.06zM22 14h1.06v1.06h-1.06zM24 14h3.06v1.06h-3.06zM-3 15h2.06v1.06h-2.06zM1 15h1.06v1.06h-1.06zM22 15h1.06v1.06h-1.06zM25 15h2.06v1.06h-2.06zM22 20h1.06v1.06h-1.06zM25 20h2.06v1.06h-2.06zM22 21h5.06v1.06h-5.06zM22 22h5.06v1.06h-5.06zM23 23h2.06v1.06h-2.06zM23 24h2.06v1.06h-2.06zM22 25h5.06v1.06h-5.06zM22 26h5.06v1.06h-5.06z" fill="#101010"/>
<path d="M8 2h2.06v1.06h-2.06zM11 4h1.06v1.06h-1.06zM12 6h1.06v1.06h-1.06zM8 7h1.06v1.06h-1.06zM7 9h1.06v1.06h-1.06zM15 9h1.06v1.06h-1.06zM15 10h1.06v1.06h-1.06zM23 10h2.06v1.06h-2.06zM22 11h5.06v1.06h-5.06zM22 12h1.06v1.06h-1.06zM25 12h2.06v1.06h-2.06zM-1 13h2.06v1.06h-2.06zM-3 14h2.06v1.06h-2.06zM1 14h1.06v1.06h-1.06zM22 23h1.06v1.06h-1.06zM25 23h2.06v1.06h-2.06zM22 24h1.06v1.06h-1.06zM25 24h2.06v1.06h-2.06z" fill="#121212"/>
<path d="M8 -3h1.06v1.06h-1.06zM8 -2h1.06v1.06h-1.06zM8 1h1.06v1.06h-1.06zM7 2h1.06v1.06h-1.06zM10 2h1.06v1.06h-1.06zM7 3h1.06v1.06h-1.06zM7 4h1.06v1.06h-1.06zM7 5h1.06v1.06h-1.06zM7 6h1.06v1.06h-1.06zM14 7h1.06v1.06h-1.06zM7 8h1.06v1.06h-1.06zM6 9h1.06v1.06h-1.06zM7 10h1.06v1.06h-1.06zM21 10h2.06v1.06h-2.06zM25 10h2.06v1.06h-2.06zM11 11h3.06v1.06h-3.06zM21 11h1.06v1.06h-1.06zM0 12h1.06v1.06h-1.06zM-3 13h2.06v1.06h-2.06zM1 13h1.06v1.06h-1.06zM21 20h1.06v1.06h-1.06zM2 21h1.06v1.06h-1.06zM21 21h1.06v1.06h-1.06zM2 22h1.06v1.06h-1.06zM21 22h1.06v1.06h-1.06zM2 23h1.06v1.06h-1.06zM21 23h1.06v1.06h-1.06zM2 24h1.06v1.06h-1.06zM21 24h1.06v1.06h-1.06zM2 25h1.06v1.06h-1.06zM21 25h1.06v1.06h-1.06zM2 26h1.06v1.06h-1.06zM21 26h1.06v1.06h-1.06z" fill="#141414"/>
<path d="M6 -3h2.06v1.06h-2.06zM9 -3h1.06v1.06h-1.06zM6 -2h2.06v1.06h-2.06zM9 -2h1.06v1.06h-1.06zM6 -1h4.06v1.06h-4.06zM6 0h4.06v1.06h-4.06zM6 1h2.06v1.06h-2.06zM9 1h1.06v1.06h-1.06zM6 2h1.06v1.06h-1.06zM6 3h1.06v1.06h-1.06zM11 3h1.06v1.06h-1.06zM6 4h1.06v1.06h-1.06zM6 5h1.06v1.06h-1.06zM13 6h1.06v1.06h-1.06zM7 7h1.06v1.06h-1.06zM6 8h1.06v1.06h-1.06zM15 8h1.06v1.06h-1.06zM16 9h1.06v1.06h-1.06zM21 9h6.06v1.06h-6.06zM6 10h1.06v1.06h-1.06zM16 10h2.06v1.06h-2.06zM20 10h1.06v1.06h-1.06zM10 11h1.06v1.06h-1.06zM14 11h1.06v1.06h-1.06zM-3 12h3.06v1.06h-3.06zM1 12h1.06v1.06h-1.06zM21 12h1.06v1.06h-1.06zM21 13h1.06v1.06h-1.06zM21 14h1.06v1.06h-1.06zM2 17h1.06v1.06h-1.06zM21 17h1.06v1.06h-1.06zM2 18h1.06v1.06h-1.06zM21 18h1.06v1.06h-1.06zM2 19h1.06v1.06h-1.06zM21 19h1.06v1.06h-1.06zM2 20h1.06v1.06h-1.06z" fill="#161616"/>
<path d="M10 -3h1.06v1.06h-1.06zM10 -2h1.06v1.06h-1.06zM10 -1h1.06v1.06h-1.06zM10 0h1.06v1.06h-1.06zM10 1h1.06v1.06h-1.06zM6 6h1.06v1.06h-1.06zM6 7h1.06v1.06h-1.06zM5 8h1.06v1.06h-1.06zM22 8h5.06v1.06h-5.06zM5 9h1.06v1.06h-1.06zM17 9h4.06v1.06h-4.06zM5 10h1.06v1.06h-1.06zM18 10h2.06v1.06h-2.06zM-3 11h5.06v1.06h-5.06zM9 11h1.06v1.06h-1.06zM15 11h1.06v1.06h-1.06zM20 11h1.06v1.06h-1.06zM2 12h1.06v1.06h-1.06zM2 13h1.06v1.06h-1.06zM2 14h1.06v1.06h-1.06zM2 15h1.06v1.06h-1.06zM21 15h1.06v1.06h-1.06zM2 16h1.06v1.06h-1.06zM21 16h1.06v1.06h-1.06zM20 22h1.06v1.06h-1.06zM20 23h1.06v1.06h-1.06zM20 24h1.06v1.06h-1.06zM20 25h1.06v1.06h-1.06zM20 26h1.06v1.06h-1.06z" fill="#181818"/>
<path d="M5 -3h1.06v1.06h-1.06zM5 -2h1.06v1.06h-1.06zM5 -1h1.06v1.06h-1.06zM5 0h1.06v1.06h-1.06zM5 1h1.06v1.06h-1.06zM5 2h1.06v1.06h-1.06zM11 2h1.06v1.06h-1.06zM5 3h1.06v1.06h-1.06zM5 4h1.06v1.06h-1.06zM5 5h1.06v1.06h-1.06zM12 5h1.06v1.06h-1.06zM5 6h1.06v1.06h-1.06zM5 7h1.06v1.06h-1.06zM15 7h1.06v1.06h-1.06zM22 7h5.06v1.06h-5.06zM4 8h1.06v1.06h-1.06zM16 8h2.06v1.06h-2.06zM20 8h2.06v1.06h-2.06zM3 9h2.06v1.06h-2.06zM-3 10h8.06v1.06h-8.06zM2 11h1.06v1.06h-1.06zM7 11h2.06v1.06h-2.06zM16 11h2.06v1.06h-2.06zM19 11h1.06v1.06h-1.06zM20 21h1.06v1.06h-1.06zM3 22h1.06v1.06h-1.06zM3 23h1.06v1.06h-1.06zM19 23h1.06v1.06h-1.06zM3 24h1.06v1.06h-1.06zM3 25h1.06v1.06h-1.06zM3 26h1.06v1.06h-1.06z" fill="#1a1a1a"/>
<path d="M3 -3h2.06v1.06h-2.06zM11 -3h1.06v1.06h-1.06zM3 -2h2.06v1.06h-2.06zM11 -2h1.06v1.06h-1.06zM3 -1h2.06v1.06h-2.06zM11 -1h1.06v1.06h-1.06zM3 0h2.06v1.06h-2.06zM11 0h1.06v1.06h-1.06zM3 1h2.06v1.06h-2.06zM11 1h1.06v1.06h-1.06zM3 2h2.06v1.06h-2.06zM3 3h2.06v1.06h-2.06zM3 4h2.06v1.06h-2.06zM3 5h2.06v1.06h-2.06zM23 5h2.06v1.06h-2.06zM3 6h2.06v1.06h-2.06zM14 6h1.06v1.06h-1.06zM21 6h6.06v1.06h-6.06zM3 7h2.06v1.06h-2.06zM20 7h2.06v1.06h-2.06zM2 8h2.06v1.06h-2.06zM18 8h2.06v1.06h-2.06zM-3 9h6.06v1.06h-6.06zM3 11h4.06v1.06h-4.06zM18 11h1.06v1.06h-1.06zM20 12h1.06v1.06h-1.06zM20 20h1.06v1.06h-1.06zM3 21h1.06v1.06h-1.06zM19 22h1.06v1.06h-1.06zM19 24h1.06v1.06h-1.06zM19 25h1.06v1.06h-1.06zM19 26h1.06v1.06h-1.06z" fill="#1c1c1c"/>
<path d="M-3 -3h6.06v1.06h-6.06zM20 -3h7.06v1.06h-7.06zM-3 -2h6.06v1.06h-6.06zM20 -2h7.06v1.06h-7.06zM-3 -1h6.06v1.06h-6.06zM20 -1h7.06v1.06h-7.06zM-3 0h6.06v1.06h-6.06zM20 0h7.06v1.06h-7.06zM-3 1h6.06v1.06h-6.06zM20 1h7.06v1.06h-7.06zM-3 2h6.06v1.06h-6.06zM20 2h7.06v1.06h-7.06zM-3 3h6.06v1.06h-6.06zM20 3h7.06v1.06h-7.06zM-3 4h6.06v1.06h-6.06zM12 4h1.06v1.06h-1.06zM20 4h7.06v1.06h-7.06zM-3 5h6.06v1.06h-6.06zM20 5h3.06v1.06h-3.06zM25 5h2.06v1.06h-2.06zM-3 6h6.06v1.06h-6.06zM19 6h2.06v1.06h-2.06zM-3 7h6.06v1.06h-6.06zM16 7h4.06v1.06h-4.06zM-3 8h5.06v1.06h-5.06zM3 12h1.06v1.06h-1.06zM3 13h1.06v1.06h-1.06zM20 13h1.06v1.06h-1.06zM20 19h1.06v1.06h-1.06zM3 20h1.06v1.06h-1.06zM19 21h1.06v1.06h-1.06zM18 23h1.06v1.06h-1.06zM18 24h1.06v1.06h-1.06z" fill="#1e1e1e"/>
<path d="M19 -3h1.06v1.06h-1.06zM19 -2h1.06v1.06h-1.06zM19 -1h1.06v1.06h-1.06zM19 0h1.06v1.06h-1.06zM19 1h1.06v1.06h-1.06zM19 2h1.06v1.06h-1.06zM12 3h1.06v1.06h-1.06zM19 3h1.06v1.06h-1.06zM19 4h1.06v1.06h-1.06zM19 5h1.06v1.06h-1.06zM15 6h1.06v1.06h-1.06zM18 6h1.06v1.06h-1.06zM11 12h4.06v1.06h-4.06zM19 12h1.06v1.06h-1.06zM3 14h1.06v1.06h-1.06zM20 14h1.06v1.06h-1.06zM20 18h1.06v1.06h-1.06zM3 19h1.06v1.06h-1.06zM4 22h1.06v1.06h-1.06zM18 22h1.06v1.06h-1.06zM4 23h1.06v1.06h-1.06zM4 24h1.06v1.06h-1.06zM4 25h1.06v1.06h-1.06zM18 25h1.06v1.06h-1.06zM4 26h1.06v1.06h-1.06zM18 26h1.06v1.06h-1.06z" fill="#202020"/>
<path d="M12 -3h1.06v1.06h-1.06zM18 -3h1.06v1.06h-1.06zM12 -2h1.06v1.06h-1.06zM18 -2h1.06v1.06h-1.06zM12 -1h1.06v1.06h-1.06zM18 -1h1.06v1.06h-1.06zM12 0h1.06v1.06h-1.06zM18 0h1.06v1.06h-1.06zM12 1h1.06v1.06h-1.06zM18 1h1.06v1.06h-1.06zM12 2h1.06v1.06h-1.06zM18 2h1.06v1.06h-1.06zM13 5h1.06v1.06h-1.06zM18 5h1.06v1.06h-1.06zM16 6h2.06v1.06h-2.06zM4 12h1.06v1.06h-1.06zM10 12h1.06v1.06h-1.06zM15 12h4.06v1.06h-4.06zM3 15h1.06v1.06h-1.06zM20 15h1.06v1.06h-1.06zM3 16h1.06v1.06h-1.06zM20 16h1.06v1.06h-1.06zM3 17h1.06v1.06h-1.06zM20 17h1.06v1.06h-1.06zM3 18h1.06v1.06h-1.06zM19 20h1.06v1.06h-1.06zM4 21h1.06v1.06h-1.06zM18 21h1.06v1.06h-1.06zM17 22h1.06v1.06h-1.06zM17 23h1.06v1.06h-1.06zM17 24h1.06v1.06h-1.06zM17 25h1.06v1.06h-1.06zM17 26h1.06v1.06h-1.06z" fill="#222222"/>
<path d="M17 -3h1.06v1.06h-1.06zM17 -2h1.06v1.06h-1.06zM13 -1h1.06v1.06h-1.06zM16 -1h2.06v1.06h-2.06zM13 0h1.06v1.06h-1.06zM16 0h2.06v1.06h-2.06zM17 1h1.06v1.06h-1.06zM18 3h1.06v1.06h-1.06zM18 4h1.06v1.06h-1.06zM5 12h1.06v1.06h-1.06zM9 12h1.06v1.06h-1.06zM19 13h1.06v1.06h-1.06zM5 23h1.06v1.06h-1.06zM16 23h1.06v1.06h-1.06z" fill="#242424"/>
<path d="M13 -3h4.06v1.06h-4.06zM13 -2h4.06v1.06h-4.06zM14 -1h2.06v1.06h-2.06zM14 0h2.06v1.06h-2.06zM13 1h4.06v1.06h-4.06zM13 2h1.06v1.06h-1.06zM17 2h1.06v1.06h-1.06zM14 5h1.06v1.06h-1.06zM17 5h1.06v1.06h-1.06zM6 12h3.06v1.06h-3.06zM4 13h1.06v1.06h-1.06zM19 19h1.06v1.06h-1.06zM5 22h1.06v1.06h-1.06zM16 22h1.06v1.06h-1.06zM5 24h1.06v1.06h-1.06zM16 24h1.06v1.06h-1.06zM5 25h1.06v1.06h-1.06zM16 25h1.06v1.06h-1.06zM5 26h1.06v1.06h-1.06zM16 26h1.06v1.06h-1.06z" fill="#262626"/>
<path d="M14 2h3.06v1.06h-3.06zM17 3h1.06v1.06h-1.06zM13 4h1.06v1.06h-1.06zM15 5h2.06v1.06h-2.06zM18 13h1.06v1.06h-1.06zM4 14h1.06v1.06h-1.06zM19 14h1.06v1.06h-1.06zM4 20h1.06v1.06h-1.06zM18 20h1.06v1.06h-1.06zM17 21h1.06v1.06h-1.06zM15 22h1.06v1.06h-1.06zM15 23h1.06v1.06h-1.06zM15 24h1.06v1.06h-1.06zM15 25h1.06v1.06h-1.06zM15 26h1.06v1.06h-1.06z" fill="#282828"/>
<path d="M13 3h1.06v1.06h-1.06zM17 4h1.06v1.06h-1.06zM5 13h1.06v1.06h-1.06zM12 13h6.06v1.06h-6.06zM4 15h1.06v1.06h-1.06zM19 15h1.06v1.06h-1.06zM19 18h1.06v1.06h-1.06zM4 19h1.06v1.06h-1.06zM5 21h1.06v1.06h-1.06zM16 21h1.06v1.06h-1.06zM14 22h1.06v1.06h-1.06zM6 23h1.06v1.06h-1.06zM14 23h1.06v1.06h-1.06zM14 24h1.06v1.06h-1.06zM14 25h1.06v1.06h-1.06zM14 26h1.06v1.06h-1.06z" fill="#2a2a2a"/>
<path d="M14 3h3.06v1.06h-3.06zM14 4h1.06v1.06h-1.06zM16 4h1.06v1.06h-1.06zM10 13h2.06v1.06h-2.06zM18 14h1.06v1.06h-1.06zM4 16h1.06v1.06h-1.06zM19 16h1.06v1.06h-1.06zM4 17h1.06v1.06h-1.06zM19 17h1.06v1.06h-1.06zM4 18h1.06v1.06h-1.06zM18 19h1.06v1.06h-1.06zM6 22h1.06v1.06h-1.06zM13 22h1.06v1.06h-1.06zM13 23h1.06v1.06h-1.06zM6 24h1.06v1.06h-1.06zM13 24h1.06v1.06h-1.06zM6 25h1.06v1.06h-1.06zM13 25h1.06v1.06h-1.06zM6 26h1.06v1.06h-1.06zM13 26h1.06v1.06h-1.06z" fill="#2c2c2c"/>
<path d="M15 4h1.06v1.06h-1.06zM6 13h1.06v1.06h-1.06zM9 13h1.06v1.06h-1.06zM5 14h1.06v1.06h-1.06zM5 20h1.06v1.06h-1.06zM17 20h1.06v1.06h-1.06zM6 21h1.06v1.06h-1.06zM15 21h1.06v1.06h-1.06zM12 22h1.06v1.06h-1.06zM7 23h1.06v1.06h-1.06zM11 23h2.06v1.06h-2.06zM12 24h1.06v1.06h-1.06zM12 25h1.06v1.06h-1.06zM12 26h1.06v1.06h-1.06z" fill="#2e2e2e"/>
<path d="M7 13h2.06v1.06h-2.06zM17 14h1.06v1.06h-1.06zM18 18h1.06v1.06h-1.06zM14 21h1.06v1.06h-1.06zM7 22h1.06v1.06h-1.06zM10 22h2.06v1.06h-2.06zM8 23h3.06v1.06h-3.06zM7 24h5.06v1.06h-5.06zM7 25h1.06v1.06h-1.06zM10 25h2.06v1.06h-2.06zM7 26h1.06v1.06h-1.06zM10 26h2.06v1.06h-2.06z" fill="#303030"/>
<path d="M6 14h1.06v1.06h-1.06zM16 14h1.06v1.06h-1.06zM5 15h1.06v1.06h-1.06zM18 15h1.06v1.06h-1.06zM18 17h1.06v1.06h-1.06zM5 19h1.06v1.06h-1.06zM17 19h1.06v1.06h-1.06zM16 20h1.06v1.06h-1.06zM12 21h2.06v1.06h-2.06zM8 22h2.06v1.06h-2.06zM8 25h2.06v1.06h-2.06zM8 26h2.06v1.06h-2.06z" fill="#323232"/>
<path d="M10 14h6.06v1.06h-6.06zM5 16h1.06v1.06h-1.06zM18 16h1.06v1.06h-1.06zM5 17h1.06v1.06h-1.06zM5 18h1.06v1.06h-1.06zM6 20h1.06v1.06h-1.06zM15 20h1.06v1.06h-1.06zM7 21h5.06v1.06h-5.06z" fill="#343434"/>
<path d="M7 14h3.06v1.06h-3.06zM6 15h1.06v1.06h-1.06zM17 15h1.06v1.06h-1.06zM17 18h1.06v1.06h-1.06zM14 20h1.06v1.06h-1.06z" fill="#363636"/>
<path d="M17 17h1.06v1.06h-1.06zM6 19h1.06v1.06h-1.06zM16 19h1.06v1.06h-1.06zM7 20h1.06v1.06h-1.06zM12 20h2.06v1.06h-2.06z" fill="#383838"/>
<path d="M7 15h1.06v1.06h-1.06zM16 15h1.06v1.06h-1.06zM6 16h1.06v1.06h-1.06zM17 16h1.06v1.06h-1.06zM6 17h1.06v1.06h-1.06zM6 18h1.06v1.06h-1.06zM16 18h1.06v1.06h-1.06zM15 19h1.06v1.06h-1.06zM8 20h4.06v1.06h-4.06z" fill="#3a3a3a"/>
<path d="M8 15h4.06v1.06h-4.06zM15 15h1.06v1.06h-1.06zM7 19h1.06v1.06h-1.06zM14 19h1.06v1.06h-1.06z" fill="#3c3c3c"/>
<path d="M12 15h3.06v1.06h-3.06zM7 16h1.06v1.06h-1.06zM16 16h1.06v1.06h-1.06zM7 17h1.06v1.06h-1.06zM16 17h1.06v1.06h-1.06zM7 18h1.06v1.06h-1.06zM15 18h1.06v1.06h-1.06zM8 19h6.06v1.06h-6.06z" fill="#3e3e3e"/>
<path d="M8 16h3.06v1.06h-3.06zM15 16h1.06v1.06h-1.06zM8 17h3.06v1.06h-3.06zM8 18h4.06v1.06h-4.06zM14 18h1.06v1.06h-1.06z" fill="#404040"/>
<path d="M11 16h1.06v1.06h-1.06zM14 16h1.06v1.06h-1.06zM11 17h1.06v1.06h-1.06zM15 17h1.06v1.06h-1.06zM12 18h2.06v1.06h-2.06z" fill="#424242"/>
<path d="M12 16h2.06v1.06h-2.06zM12 17h3.06v1.06h-3.06z" fill="#444444"/>
</g></g></g>
<g clip-path="url(#cp10)"><g filter="url(#bl)"><g transform="translate(493.0,1412.1) scale(14.03333,13.98333)">
<path d="M23 23h2.06v1.06h-2.06z" fill="#040404"/>
<path d="M23 -1h1.06v1.06h-1.06zM22 0h5.06v1.06h-5.06zM13 10h1.06v1.06h-1.06zM22 23h1.06v1.06h-1.06zM25 23h2.06v1.06h-2.06zM23 24h2.06v1.06h-2.06z" fill="#060606"/>
<path d="M22 -3h5.06v1.06h-5.06zM22 -2h5.06v1.06h-5.06zM0 -1h1.06v1.06h-1.06zM22 -1h1.06v1.06h-1.06zM24 -1h3.06v1.06h-3.06zM-1 0h2.06v1.06h-2.06zM22 1h5.06v1.06h-5.06zM13 9h2.06v1.06h-2.06zM12 10h1.06v1.06h-1.06zM14 10h1.06v1.06h-1.06zM22 22h5.06v1.06h-5.06zM22 24h1.06v1.06h-1.06zM25 24h2.06v1.06h-2.06zM22 25h5.06v1.06h-5.06zM22 26h5.06v1.06h-5.06z" fill="#080808"/>
<path d="M-3 -3h5.06v1.06h-5.06zM-3 -2h5.06v1.06h-5.06zM-3 -1h3.06v1.06h-3.06zM1 -1h1.06v1.06h-1.06zM-3 0h2.06v1.06h-2.06zM1 0h1.06v1.06h-1.06zM-3 1h5.06v1.06h-5.06zM13 8h1.06v1.06h-1.06zM12 9h1.06v1.06h-1.06zM12 11h2.06v1.06h-2.06zM-1 23h2.06v1.06h-2.06zM21 23h1.06v1.06h-1.06zM0 24h1.06v1.06h-1.06z" fill="#0a0a0a"/>
<path d="M21 0h1.06v1.06h-1.06zM23 2h1.06v1.06h-1.06zM14 8h1.06v1.06h-1.06zM15 9h1.06v1.06h-1.06zM11 10h1.06v1.06h-1.06zM-3 22h5.06v1.06h-5.06zM-3 23h2.06v1.06h-2.06zM1 23h1.06v1.06h-1.06zM-3 24h3.06v1.06h-3.06zM1 24h1.06v1.06h-1.06zM21 24h1.06v1.06h-1.06zM-3 25h5.06v1.06h-5.06zM-3 26h5.06v1.06h-5.06z" fill="#0c0c0c"/>
<path d="M21 -3h1.06v1.06h-1.06zM21 -2h1.06v1.06h-1.06zM21 -1h1.06v1.06h-1.06zM21 1h1.06v1.06h-1.06zM-3 2h5.06v1.06h-5.06zM22 2h1.06v1.06h-1.06zM24 2h3.06v1.06h-3.06zM13 7h1.06v1.06h-1.06zM12 8h1.06v1.06h-1.06zM15 10h1.06v1.06h-1.06zM11 11h1.06v1.06h-1.06zM14 11h1.06v1.06h-1.06zM12 12h1.06v1.06h-1.06zM21 22h1.06v1.06h-1.06zM21 25h1.06v1.06h-1.06zM21 26h1.06v1.06h-1.06z" fill="#0e0e0e"/>
<path d="M2 -3h1.06v1.06h-1.06zM2 -2h1.06v1.06h-1.06zM2 -1h1.06v1.06h-1.06zM2 0h1.06v1.06h-1.06zM2 1h1.06v1.06h-1.06zM14 7h1.06v1.06h-1.06zM15 8h1.06v1.06h-1.06zM11 9h1.06v1.06h-1.06zM11 12h1.06v1.06h-1.06zM13 12h1.06v1.06h-1.06zM0 21h1.06v1.06h-1.06zM2 23h1.06v1.06h-1.06z" fill="#101010"/>
<path d="M21 2h1.06v1.06h-1.06zM12 7h1.06v1.06h-1.06zM15 7h1.06v1.06h-1.06zM10 11h1.06v1.06h-1.06zM-3 21h3.06v1.06h-3.06zM1 21h1.06v1.06h-1.06zM23 21h1.06v1.06h-1.06zM2 22h1.06v1.06h-1.06zM20 23h1.06v1.06h-1.06zM2 24h1.06v1.06h-1.06zM2 25h1.06v1.06h-1.06zM2 26h1.06v1.06h-1.06z" fill="#121212"/>
<path d="M20 -3h1.06v1.06h-1.06zM20 -2h1.06v1.06h-1.06zM20 -1h1.06v1.06h-1.06zM20 0h1.06v1.06h-1.06zM20 1h1.06v1.06h-1.06zM2 2h1.06v1.06h-1.06zM-1 3h2.06v1.06h-2.06zM23 3h1.06v1.06h-1.06zM13 6h2.06v1.06h-2.06zM11 8h1.06v1.06h-1.06zM16 9h1.06v1.06h-1.06zM10 10h1.06v1.06h-1.06zM15 11h1.06v1.06h-1.06zM10 12h1.06v1.06h-1.06zM11 13h2.06v1.06h-2.06zM22 21h1.06v1.06h-1.06zM24 21h3.06v1.06h-3.06zM20 22h1.06v1.06h-1.06zM20 24h1.06v1.06h-1.06zM20 25h1.06v1.06h-1.06zM20 26h1.06v1.06h-1.06z" fill="#141414"/>
<path d="M-3 3h2.06v1.06h-2.06zM1 3h1.06v1.06h-1.06zM22 3h1.06v1.06h-1.06zM24 3h3.06v1.06h-3.06zM12 6h1.06v1.06h-1.06zM15 6h1.06v1.06h-1.06zM16 8h1.06v1.06h-1.06zM10 9h1.06v1.06h-1.06zM16 10h1.06v1.06h-1.06zM14 12h1.06v1.06h-1.06zM10 13h1.06v1.06h-1.06zM10 14h1.06v1.06h-1.06zM2 21h1.06v1.06h-1.06z" fill="#161616"/>
<path d="M3 -3h1.06v1.06h-1.06zM3 -2h1.06v1.06h-1.06zM3 -1h1.06v1.06h-1.06zM3 0h1.06v1.06h-1.06zM3 1h1.06v1.06h-1.06zM20 2h1.06v1.06h-1.06zM2 3h1.06v1.06h-1.06zM21 3h1.06v1.06h-1.06zM13 5h2.06v1.06h-2.06zM11 7h1.06v1.06h-1.06zM16 7h1.06v1.06h-1.06zM9 12h1.06v1.06h-1.06zM9 13h1.06v1.06h-1.06zM13 13h1.06v1.06h-1.06zM9 14h1.06v1.06h-1.06zM11 14h1.06v1.06h-1.06zM9 15h2.06v1.06h-2.06zM-3 20h5.06v1.06h-5.06zM21 21h1.06v1.06h-1.06zM3 22h1.06v1.06h-1.06zM3 23h1.06v1.06h-1.06zM19 23h1.06v1.06h-1.06zM3 24h1.06v1.06h-1.06zM3 25h1.06v1.06h-1.06zM3 26h1.06v1.06h-1.06z" fill="#181818"/>
<path d="M19 -3h1.06v1.06h-1.06zM19 -2h1.06v1.06h-1.06zM19 -1h1.06v1.06h-1.06zM19 0h1.06v1.06h-1.06zM19 1h1.06v1.06h-1.06zM3 2h1.06v1.06h-1.06zM-3 4h5.06v1.06h-5.06zM12 5h1.06v1.06h-1.06zM15 5h1.06v1.06h-1.06zM11 6h1.06v1.06h-1.06zM16 6h1.06v1.06h-1.06zM10 8h1.06v1.06h-1.06zM9 11h1.06v1.06h-1.06zM12 14h1.06v1.06h-1.06zM8 15h1.06v1.06h-1.06zM8 16h3.06v1.06h-3.06zM9 17h1.06v1.06h-1.06zM3 21h1.06v1.06h-1.06zM19 22h1.06v1.06h-1.06zM19 24h1.06v1.06h-1.06zM19 25h1.06v1.06h-1.06zM19 26h1.06v1.06h-1.06z" fill="#1a1a1a"/>
<path d="M18 -3h1.06v1.06h-1.06zM18 -2h1.06v1.06h-1.06zM18 -1h1.06v1.06h-1.06zM17 0h2.06v1.06h-2.06zM18 1h1.06v1.06h-1.06zM19 2h1.06v1.06h-1.06zM3 3h1.06v1.06h-1.06zM20 3h1.06v1.06h-1.06zM2 4h1.06v1.06h-1.06zM12 4h3.06v1.06h-3.06zM11 5h1.06v1.06h-1.06zM9 10h1.06v1.06h-1.06zM16 11h1.06v1.06h-1.06zM15 12h1.06v1.06h-1.06zM8 13h1.06v1.06h-1.06zM8 14h1.06v1.06h-1.06zM11 15h1.06v1.06h-1.06zM8 17h1.06v1.06h-1.06zM10 17h1.06v1.06h-1.06zM8 18h2.06v1.06h-2.06zM2 20h1.06v1.06h-1.06zM18 23h1.06v1.06h-1.06z" fill="#1c1c1c"/>
<path d="M4 -3h1.06v1.06h-1.06zM15 -3h3.06v1.06h-3.06zM4 -2h1.06v1.06h-1.06zM15 -2h3.06v1.06h-3.06zM4 -1h1.06v1.06h-1.06zM15 -1h3.06v1.06h-3.06zM4 0h1.06v1.06h-1.06zM15 0h2.06v1.06h-2.06zM4 1h1.06v1.06h-1.06zM15 1h3.06v1.06h-3.06zM4 2h1.06v1.06h-1.06zM14 2h5.06v1.06h-5.06zM12 3h3.06v1.06h-3.06zM19 3h1.06v1.06h-1.06zM11 4h1.06v1.06h-1.06zM15 4h1.06v1.06h-1.06zM22 4h5.06v1.06h-5.06zM-3 5h5.06v1.06h-5.06zM16 5h1.06v1.06h-1.06zM10 7h1.06v1.06h-1.06zM17 7h1.06v1.06h-1.06zM17 8h1.06v1.06h-1.06zM9 9h1.06v1.06h-1.06zM17 9h1.06v1.06h-1.06zM8 12h1.06v1.06h-1.06zM14 13h1.06v1.06h-1.06zM7 15h1.06v1.06h-1.06zM7 16h1.06v1.06h-1.06zM7 17h1.06v1.06h-1.06zM7 18h1.06v1.06h-1.06zM10 18h1.06v1.06h-1.06zM6 19h4.06v1.06h-4.06zM3 20h1.06v1.06h-1.06zM6 20h4.06v1.06h-4.06zM4 21h1.06v1.06h-1.06zM20 21h1.06v1.06h-1.06zM4 22h1.06v1.06h-1.06zM18 22h1.06v1.06h-1.06zM4 23h1.06v1.06h-1.06zM4 24h1.06v1.06h-1.06zM18 24h1.06v1.06h-1.06zM4 25h1.06v1.06h-1.06zM18 25h1.06v1.06h-1.06zM4 26h1.06v1.06h-1.06zM18 26h1.06v1.06h-1.06z" fill="#1e1e1e"/>
<path d="M5 -3h1.06v1.06h-1.06zM12 -3h3.06v1.06h-3.06zM5 -2h1.06v1.06h-1.06zM12 -2h3.06v1.06h-3.06zM5 -1h1.06v1.06h-1.06zM12 -1h3.06v1.06h-3.06zM5 0h1.06v1.06h-1.06zM12 0h3.06v1.06h-3.06zM5 1h1.06v1.06h-1.06zM12 1h3.06v1.06h-3.06zM5 2h1.06v1.06h-1.06zM11 2h3.06v1.06h-3.06zM4 3h1.06v1.06h-1.06zM10 3h2.06v1.06h-2.06zM15 3h4.06v1.06h-4.06zM3 4h1.06v1.06h-1.06zM10 4h1.06v1.06h-1.06zM16 4h2.06v1.06h-2.06zM20 4h2.06v1.06h-2.06zM2 5h1.06v1.06h-1.06zM10 5h1.06v1.06h-1.06zM17 5h1.06v1.06h-1.06zM-3 6h5.06v1.06h-5.06zM10 6h1.06v1.06h-1.06zM17 6h1.06v1.06h-1.06zM7 14h1.06v1.06h-1.06zM13 14h1.06v1.06h-1.06zM12 15h1.06v1.06h-1.06zM11 16h1.06v1.06h-1.06zM6 17h1.06v1.06h-1.06zM6 18h1.06v1.06h-1.06zM-3 19h6.06v1.06h-6.06zM5 19h1.06v1.06h-1.06zM10 19h1.06v1.06h-1.06zM4 20h2.06v1.06h-2.06zM10 20h1.06v1.06h-1.06zM5 21h5.06v1.06h-5.06zM5 22h4.06v1.06h-4.06zM5 23h4.06v1.06h-4.06zM17 23h1.06v1.06h-1.06zM5 24h4.06v1.06h-4.06zM5 25h4.06v1.06h-4.06zM5 26h4.06v1.06h-4.06z" fill="#202020"/>
<path d="M6 -3h6.06v1.06h-6.06zM6 -2h6.06v1.06h-6.06zM6 -1h6.06v1.06h-6.06zM6 0h6.06v1.06h-6.06zM6 1h6.06v1.06h-6.06zM6 2h5.06v1.06h-5.06zM5 3h5.06v1.06h-5.06zM4 4h1.06v1.06h-1.06zM9 4h1.06v1.06h-1.06zM18 4h2.06v1.06h-2.06zM3 5h1.06v1.06h-1.06zM9 5h1.06v1.06h-1.06zM2 6h1.06v1.06h-1.06zM9 8h1.06v1.06h-1.06zM17 10h1.06v1.06h-1.06zM8 11h1.06v1.06h-1.06zM7 13h1.06v1.06h-1.06zM6 16h1.06v1.06h-1.06zM11 17h1.06v1.06h-1.06zM5 18h1.06v1.06h-1.06zM3 19h2.06v1.06h-2.06zM10 21h1.06v1.06h-1.06zM9 22h2.06v1.06h-2.06zM17 22h1.06v1.06h-1.06zM9 23h3.06v1.06h-3.06zM9 24h3.06v1.06h-3.06zM17 24h1.06v1.06h-1.06zM9 25h2.06v1.06h-2.06zM17 25h1.06v1.06h-1.06zM9 26h2.06v1.06h-2.06zM17 26h1.06v1.06h-1.06z" fill="#222222"/>
<path d="M5 4h4.06v1.06h-4.06zM4 5h1.06v1.06h-1.06zM18 5h1.06v1.06h-1.06zM3 6h1.06v1.06h-1.06zM9 6h1.06v1.06h-1.06zM-1 7h2.06v1.06h-2.06zM9 7h1.06v1.06h-1.06zM8 10h1.06v1.06h-1.06zM6 15h1.06v1.06h-1.06zM4 18h1.06v1.06h-1.06zM11 18h1.06v1.06h-1.06zM22 20h5.06v1.06h-5.06zM11 21h1.06v1.06h-1.06zM19 21h1.06v1.06h-1.06zM11 22h2.06v1.06h-2.06zM12 23h5.06v1.06h-5.06zM12 24h3.06v1.06h-3.06zM16 24h1.06v1.06h-1.06zM11 25h2.06v1.06h-2.06zM11 26h2.06v1.06h-2.06z" fill="#242424"/>
<path d="M5 5h1.06v1.06h-1.06zM8 5h1.06v1.06h-1.06zM19 5h8.06v1.06h-8.06zM4 6h1.06v1.06h-1.06zM18 6h1.06v1.06h-1.06zM-3 7h2.06v1.06h-2.06zM1 7h2.06v1.06h-2.06zM7 12h1.06v1.06h-1.06zM16 12h1.06v1.06h-1.06zM15 13h1.06v1.06h-1.06zM6 14h1.06v1.06h-1.06zM14 14h1.06v1.06h-1.06zM12 16h1.06v1.06h-1.06zM5 17h1.06v1.06h-1.06zM-3 18h7.06v1.06h-7.06zM11 19h1.06v1.06h-1.06zM11 20h1.06v1.06h-1.06zM13 22h4.06v1.06h-4.06zM15 24h1.06v1.06h-1.06zM13 25h4.06v1.06h-4.06zM13 26h4.06v1.06h-4.06z" fill="#262626"/>
<path d="M6 5h2.06v1.06h-2.06zM8 6h1.06v1.06h-1.06zM3 7h1.06v1.06h-1.06zM18 7h1.06v1.06h-1.06zM8 9h1.06v1.06h-1.06zM6 13h1.06v1.06h-1.06zM13 15h1.06v1.06h-1.06zM5 16h1.06v1.06h-1.06zM4 17h1.06v1.06h-1.06zM21 20h1.06v1.06h-1.06zM12 21h1.06v1.06h-1.06zM18 21h1.06v1.06h-1.06z" fill="#282828"/>
<path d="M5 6h1.06v1.06h-1.06zM19 6h1.06v1.06h-1.06zM4 7h1.06v1.06h-1.06zM8 7h1.06v1.06h-1.06zM8 8h1.06v1.06h-1.06zM18 8h1.06v1.06h-1.06zM7 11h1.06v1.06h-1.06zM17 11h1.06v1.06h-1.06zM5 15h1.06v1.06h-1.06zM-3 17h3.06v1.06h-3.06zM1 17h3.06v1.06h-3.06zM12 17h1.06v1.06h-1.06zM13 21h1.06v1.06h-1.06z" fill="#2a2a2a"/>
<path d="M6 6h2.06v1.06h-2.06zM20 6h1.06v1.06h-1.06zM5 7h1.06v1.06h-1.06zM18 9h1.06v1.06h-1.06zM7 10h1.06v1.06h-1.06zM6 12h1.06v1.06h-1.06zM4 16h1.06v1.06h-1.06zM0 17h1.06v1.06h-1.06zM12 20h1.06v1.06h-1.06zM14 21h1.06v1.06h-1.06zM17 21h1.06v1.06h-1.06z" fill="#2c2c2c"/>
<path d="M21 6h1.06v1.06h-1.06zM6 7h2.06v1.06h-2.06zM19 7h1.06v1.06h-1.06zM-3 8h7.06v1.06h-7.06zM7 9h1.06v1.06h-1.06zM5 14h1.06v1.06h-1.06zM3 16h1.06v1.06h-1.06zM13 16h1.06v1.06h-1.06zM12 18h1.06v1.06h-1.06zM20 20h1.06v1.06h-1.06zM15 21h2.06v1.06h-2.06z" fill="#2e2e2e"/>
<path d="M22 6h5.06v1.06h-5.06zM4 8h4.06v1.06h-4.06zM18 10h1.06v1.06h-1.06zM6 11h1.06v1.06h-1.06zM5 13h1.06v1.06h-1.06zM16 13h1.06v1.06h-1.06zM15 14h1.06v1.06h-1.06zM4 15h1.06v1.06h-1.06zM14 15h1.06v1.06h-1.06zM-3 16h3.06v1.06h-3.06zM1 16h2.06v1.06h-2.06zM12 19h1.06v1.06h-1.06z" fill="#303030"/>
<path d="M6 9h1.06v1.06h-1.06zM6 10h1.06v1.06h-1.06zM5 12h1.06v1.06h-1.06zM0 16h1.06v1.06h-1.06zM22 19h5.06v1.06h-5.06zM13 20h1.06v1.06h-1.06zM19 20h1.06v1.06h-1.06z" fill="#323232"/>
<path d="M20 7h1.06v1.06h-1.06zM19 8h1.06v1.06h-1.06zM5 9h1.06v1.06h-1.06zM17 12h1.06v1.06h-1.06zM4 14h1.06v1.06h-1.06zM3 15h1.06v1.06h-1.06zM13 17h1.06v1.06h-1.06z" fill="#343434"/>
<path d="M21 7h1.06v1.06h-1.06zM3 9h2.06v1.06h-2.06zM5 10h1.06v1.06h-1.06zM5 11h1.06v1.06h-1.06zM2 15h1.06v1.06h-1.06zM13 18h1.06v1.06h-1.06zM21 19h1.06v1.06h-1.06zM14 20h1.06v1.06h-1.06zM18 20h1.06v1.06h-1.06z" fill="#363636"/>
<path d="M-3 9h6.06v1.06h-6.06zM19 9h1.06v1.06h-1.06zM18 11h1.06v1.06h-1.06zM4 13h1.06v1.06h-1.06zM-3 15h3.06v1.06h-3.06zM1 15h1.06v1.06h-1.06zM14 16h1.06v1.06h-1.06zM13 19h1.06v1.06h-1.06zM15 20h3.06v1.06h-3.06z" fill="#383838"/>
<path d="M22 7h5.06v1.06h-5.06zM20 8h1.06v1.06h-1.06zM4 10h1.06v1.06h-1.06zM4 11h1.06v1.06h-1.06zM4 12h1.06v1.06h-1.06zM3 14h1.06v1.06h-1.06zM16 14h1.06v1.06h-1.06zM0 15h1.06v1.06h-1.06zM15 15h1.06v1.06h-1.06z" fill="#3a3a3a"/>
<path d="M3 10h1.06v1.06h-1.06zM14 17h1.06v1.06h-1.06zM14 19h1.06v1.06h-1.06zM20 19h1.06v1.06h-1.06z" fill="#3c3c3c"/>
<path d="M2 10h1.06v1.06h-1.06zM19 10h1.06v1.06h-1.06zM3 11h1.06v1.06h-1.06zM3 12h1.06v1.06h-1.06zM3 13h1.06v1.06h-1.06zM17 13h1.06v1.06h-1.06zM2 14h1.06v1.06h-1.06zM14 18h1.06v1.06h-1.06zM22 18h5.06v1.06h-5.06z" fill="#3e3e3e"/>
<path d="M21 8h1.06v1.06h-1.06zM20 9h1.06v1.06h-1.06zM-3 10h5.06v1.06h-5.06zM-3 14h2.06v1.06h-2.06zM1 14h1.06v1.06h-1.06zM15 19h1.06v1.06h-1.06zM19 19h1.06v1.06h-1.06z" fill="#404040"/>
<path d="M2 11h1.06v1.06h-1.06zM18 12h1.06v1.06h-1.06zM2 13h1.06v1.06h-1.06zM-1 14h2.06v1.06h-2.06zM15 16h1.06v1.06h-1.06zM21 18h1.06v1.06h-1.06zM16 19h3.06v1.06h-3.06z" fill="#424242"/>
<path d="M22 8h5.06v1.06h-5.06zM-3 11h5.06v1.06h-5.06zM2 12h1.06v1.06h-1.06zM16 15h1.06v1.06h-1.06zM15 17h1.06v1.06h-1.06zM15 18h1.06v1.06h-1.06z" fill="#444444"/>
<path d="M19 11h1.06v1.06h-1.06zM-3 12h2.06v1.06h-2.06zM1 12h1.06v1.06h-1.06zM-3 13h3.06v1.06h-3.06zM1 13h1.06v1.06h-1.06zM17 14h1.06v1.06h-1.06zM20 18h1.06v1.06h-1.06z" fill="#464646"/>
<path d="M21 9h1.06v1.06h-1.06zM20 10h1.06v1.06h-1.06zM-1 12h2.06v1.06h-2.06zM0 13h1.06v1.06h-1.06zM22 17h5.06v1.06h-5.06zM16 18h1.06v1.06h-1.06z" fill="#484848"/>
<path d="M18 13h1.06v1.06h-1.06zM16 16h1.06v1.06h-1.06zM16 17h1.06v1.06h-1.06zM17 18h3.06v1.06h-3.06z" fill="#4a4a4a"/>
<path d="M21 17h1.06v1.06h-1.06z" fill="#4c4c4c"/>
<path d="M22 9h5.06v1.06h-5.06zM20 11h1.06v1.06h-1.06zM19 12h1.06v1.06h-1.06zM17 15h1.06v1.06h-1.06z" fill="#4e4e4e"/>
<path d="M21 10h1.06v1.06h-1.06zM18 14h1.06v1.06h-1.06zM17 16h1.06v1.06h-1.06zM22 16h5.06v1.06h-5.06zM17 17h1.06v1.06h-1.06zM20 17h1.06v1.06h-1.06z" fill="#505050"/>
<path d="M18 17h1.06v1.06h-1.06z" fill="#525252"/>
<path d="M22 10h1.06v1.06h-1.06zM25 10h2.06v1.06h-2.06zM19 13h1.06v1.06h-1.06zM21 16h1.06v1.06h-1.06zM19 17h1.06v1.06h-1.06z" fill="#545454"/>
<path d="M23 10h2.06v1.06h-2.06zM21 11h1.06v1.06h-1.06zM20 12h1.06v1.06h-1.06zM18 15h1.06v1.06h-1.06zM22 15h5.06v1.06h-5.06zM18 16h1.06v1.06h-1.06z" fill="#565656"/>
<path d="M19 14h1.06v1.06h-1.06zM21 15h1.06v1.06h-1.06zM20 16h1.06v1.06h-1.06z" fill="#585858"/>
<path d="M22 11h1.06v1.06h-1.06zM24 11h3.06v1.06h-3.06zM21 12h1.06v1.06h-1.06zM20 13h1.06v1.06h-1.06zM19 15h1.06v1.06h-1.06zM19 16h1.06v1.06h-1.06z" fill="#5a5a5a"/>
<path d="M23 11h1.06v1.06h-1.06zM22 12h1.06v1.06h-1.06zM25 12h2.06v1.06h-2.06zM21 13h1.06v1.06h-1.06zM20 14h7.06v1.06h-7.06zM20 15h1.06v1.06h-1.06z" fill="#5c5c5c"/>
<path d="M23 12h2.06v1.06h-2.06zM22 13h5.06v1.06h-5.06z" fill="#5e5e5e"/>
</g></g></g>
<g clip-path="url(#cp11)"><g filter="url(#bl)"><g transform="translate(837.2,1412.1) scale(13.98750,13.98333)">
<path d="M0 8h1.06v1.06h-1.06zM0 9h1.06v1.06h-1.06zM23 13h2.06v1.06h-2.06zM23 14h2.06v1.06h-2.06zM19 18h1.06v1.06h-1.06zM18 19h1.06v1.06h-1.06z" fill="#040404"/>
<path d="M-3 8h3.06v1.06h-3.06zM1 8h1.06v1.06h-1.06zM-3 9h3.06v1.06h-3.06zM1 9h1.06v1.06h-1.06zM0 10h1.06v1.06h-1.06zM23 12h1.06v1.06h-1.06zM22 13h1.06v1.06h-1.06zM25 13h2.06v1.06h-2.06zM22 14h1.06v1.06h-1.06zM25 14h2.06v1.06h-2.06zM23 15h1.06v1.06h-1.06zM19 17h1.06v1.06h-1.06zM18 18h1.06v1.06h-1.06zM17 19h1.06v1.06h-1.06zM19 19h1.06v1.06h-1.06zM17 20h2.06v1.06h-2.06z" fill="#060606"/>
<path d="M-3 7h5.06v1.06h-5.06zM-3 10h3.06v1.06h-3.06zM1 10h1.06v1.06h-1.06zM0 11h1.06v1.06h-1.06zM22 12h1.06v1.06h-1.06zM24 12h3.06v1.06h-3.06zM21 15h2.06v1.06h-2.06zM24 15h3.06v1.06h-3.06zM19 16h2.06v1.06h-2.06zM18 17h1.06v1.06h-1.06zM20 17h1.06v1.06h-1.06zM17 18h1.06v1.06h-1.06zM20 18h1.06v1.06h-1.06zM19 20h1.06v1.06h-1.06zM17 21h1.06v1.06h-1.06z" fill="#080808"/>
<path d="M-1 11h1.06v1.06h-1.06zM23 11h1.06v1.06h-1.06zM21 14h1.06v1.06h-1.06zM20 15h1.06v1.06h-1.06zM21 16h6.06v1.06h-6.06zM16 19h1.06v1.06h-1.06zM16 20h1.06v1.06h-1.06zM18 21h1.06v1.06h-1.06zM17 22h1.06v1.06h-1.06zM17 23h1.06v1.06h-1.06zM17 24h1.06v1.06h-1.06zM17 25h1.06v1.06h-1.06zM17 26h1.06v1.06h-1.06z" fill="#0a0a0a"/>
<path d="M2 7h1.06v1.06h-1.06zM2 8h1.06v1.06h-1.06zM-3 11h2.06v1.06h-2.06zM1 11h1.06v1.06h-1.06zM24 11h1.06v1.06h-1.06zM0 12h1.06v1.06h-1.06zM21 13h1.06v1.06h-1.06zM21 17h1.06v1.06h-1.06zM20 19h1.06v1.06h-1.06zM16 21h1.06v1.06h-1.06zM19 21h1.06v1.06h-1.06zM16 22h1.06v1.06h-1.06zM18 22h1.06v1.06h-1.06zM16 23h1.06v1.06h-1.06zM18 23h1.06v1.06h-1.06zM16 24h1.06v1.06h-1.06zM18 24h1.06v1.06h-1.06zM16 25h1.06v1.06h-1.06zM18 25h1.06v1.06h-1.06zM16 26h1.06v1.06h-1.06zM18 26h1.06v1.06h-1.06z" fill="#0c0c0c"/>
<path d="M-3 6h5.06v1.06h-5.06zM22 11h1.06v1.06h-1.06zM25 11h2.06v1.06h-2.06zM-1 12h1.06v1.06h-1.06zM19 15h1.06v1.06h-1.06zM18 16h1.06v1.06h-1.06zM17 17h1.06v1.06h-1.06zM20 20h1.06v1.06h-1.06z" fill="#0e0e0e"/>
<path d="M15 3h2.06v1.06h-2.06zM15 4h2.06v1.06h-2.06zM2 6h1.06v1.06h-1.06zM2 9h1.06v1.06h-1.06zM-3 12h2.06v1.06h-2.06zM1 12h1.06v1.06h-1.06zM21 12h1.06v1.06h-1.06zM20 14h1.06v1.06h-1.06zM22 17h5.06v1.06h-5.06zM16 18h1.06v1.06h-1.06zM21 18h1.06v1.06h-1.06zM19 22h1.06v1.06h-1.06zM19 23h1.06v1.06h-1.06zM19 24h1.06v1.06h-1.06zM19 25h1.06v1.06h-1.06zM19 26h1.06v1.06h-1.06z" fill="#101010"/>
<path d="M3 5h2.06v1.06h-2.06zM3 6h1.06v1.06h-1.06zM3 7h1.06v1.06h-1.06zM2 10h1.06v1.06h-1.06zM23 10h1.06v1.06h-1.06zM0 13h1.06v1.06h-1.06z" fill="#121212"/>
<path d="M16 2h1.06v1.06h-1.06zM4 4h1.06v1.06h-1.06zM14 4h1.06v1.06h-1.06zM15 5h1.06v1.06h-1.06zM24 10h1.06v1.06h-1.06zM-1 13h1.06v1.06h-1.06zM21 19h1.06v1.06h-1.06zM15 20h1.06v1.06h-1.06zM20 21h1.06v1.06h-1.06z" fill="#141414"/>
<path d="M15 2h1.06v1.06h-1.06zM14 3h1.06v1.06h-1.06zM3 4h1.06v1.06h-1.06zM5 4h1.06v1.06h-1.06zM2 5h1.06v1.06h-1.06zM16 5h1.06v1.06h-1.06zM4 6h1.06v1.06h-1.06zM3 8h1.06v1.06h-1.06zM22 10h1.06v1.06h-1.06zM25 10h2.06v1.06h-2.06zM2 11h1.06v1.06h-1.06zM21 11h1.06v1.06h-1.06zM-3 13h2.06v1.06h-2.06zM1 13h1.06v1.06h-1.06zM20 13h1.06v1.06h-1.06zM18 15h1.06v1.06h-1.06zM17 16h1.06v1.06h-1.06zM16 17h1.06v1.06h-1.06zM22 18h5.06v1.06h-5.06zM15 19h1.06v1.06h-1.06zM15 21h1.06v1.06h-1.06zM20 22h1.06v1.06h-1.06zM20 25h1.06v1.06h-1.06zM20 26h1.06v1.06h-1.06z" fill="#161616"/>
<path d="M16 -3h1.06v1.06h-1.06zM16 -2h1.06v1.06h-1.06zM16 -1h1.06v1.06h-1.06zM16 0h1.06v1.06h-1.06zM16 1h1.06v1.06h-1.06zM17 3h1.06v1.06h-1.06zM13 4h1.06v1.06h-1.06zM-3 5h5.06v1.06h-5.06zM5 5h1.06v1.06h-1.06zM14 5h1.06v1.06h-1.06zM19 14h1.06v1.06h-1.06zM21 20h1.06v1.06h-1.06zM15 22h1.06v1.06h-1.06zM15 23h1.06v1.06h-1.06zM20 23h1.06v1.06h-1.06zM15 24h1.06v1.06h-1.06zM20 24h1.06v1.06h-1.06zM15 25h1.06v1.06h-1.06zM15 26h1.06v1.06h-1.06z" fill="#181818"/>
<path d="M15 -3h1.06v1.06h-1.06zM17 -3h1.06v1.06h-1.06zM15 -2h1.06v1.06h-1.06zM17 -2h1.06v1.06h-1.06zM15 -1h1.06v1.06h-1.06zM17 -1h1.06v1.06h-1.06zM15 0h1.06v1.06h-1.06zM17 0h1.06v1.06h-1.06zM15 1h1.06v1.06h-1.06zM17 1h1.06v1.06h-1.06zM17 2h1.06v1.06h-1.06zM13 3h1.06v1.06h-1.06zM6 4h1.06v1.06h-1.06zM12 4h1.06v1.06h-1.06zM17 4h1.06v1.06h-1.06zM4 7h1.06v1.06h-1.06zM0 14h1.06v1.06h-1.06zM15 18h1.06v1.06h-1.06zM22 19h1.06v1.06h-1.06zM25 19h2.06v1.06h-2.06z" fill="#1a1a1a"/>
<path d="M14 2h1.06v1.06h-1.06zM4 3h2.06v1.06h-2.06zM12 3h1.06v1.06h-1.06zM2 4h1.06v1.06h-1.06zM13 5h1.06v1.06h-1.06zM15 6h1.06v1.06h-1.06zM3 9h1.06v1.06h-1.06zM2 12h1.06v1.06h-1.06zM20 12h1.06v1.06h-1.06zM-1 14h1.06v1.06h-1.06zM23 19h2.06v1.06h-2.06zM21 21h1.06v1.06h-1.06z" fill="#1c1c1c"/>
<path d="M3 3h1.06v1.06h-1.06zM6 3h1.06v1.06h-1.06zM7 4h1.06v1.06h-1.06zM11 4h1.06v1.06h-1.06zM6 5h1.06v1.06h-1.06zM12 5h1.06v1.06h-1.06zM17 5h1.06v1.06h-1.06zM5 6h1.06v1.06h-1.06zM14 6h1.06v1.06h-1.06zM16 6h1.06v1.06h-1.06zM21 10h1.06v1.06h-1.06zM-3 14h2.06v1.06h-2.06zM1 14h1.06v1.06h-1.06zM17 15h1.06v1.06h-1.06zM16 16h1.06v1.06h-1.06zM15 17h1.06v1.06h-1.06z" fill="#1e1e1e"/>
<path d="M14 -3h1.06v1.06h-1.06zM18 -3h1.06v1.06h-1.06zM14 -2h1.06v1.06h-1.06zM18 -2h1.06v1.06h-1.06zM14 -1h1.06v1.06h-1.06zM18 -1h1.06v1.06h-1.06zM18 0h1.06v1.06h-1.06zM14 1h1.06v1.06h-1.06zM18 1h1.06v1.06h-1.06zM13 2h1.06v1.06h-1.06zM7 3h2.06v1.06h-2.06zM11 3h1.06v1.06h-1.06zM-3 4h5.06v1.06h-5.06zM8 4h3.06v1.06h-3.06zM23 9h1.06v1.06h-1.06zM19 13h1.06v1.06h-1.06zM18 14h1.06v1.06h-1.06zM22 20h5.06v1.06h-5.06zM21 22h1.06v1.06h-1.06zM21 23h1.06v1.06h-1.06zM21 24h1.06v1.06h-1.06zM21 25h1.06v1.06h-1.06zM21 26h1.06v1.06h-1.06z" fill="#202020"/>
<path d="M14 0h1.06v1.06h-1.06zM12 2h1.06v1.06h-1.06zM18 2h1.06v1.06h-1.06zM9 3h2.06v1.06h-2.06zM11 5h1.06v1.06h-1.06zM13 6h1.06v1.06h-1.06zM4 8h1.06v1.06h-1.06zM22 9h1.06v1.06h-1.06zM24 9h3.06v1.06h-3.06zM3 10h1.06v1.06h-1.06zM2 13h1.06v1.06h-1.06z" fill="#222222"/>
<path d="M19 -1h1.06v1.06h-1.06zM19 0h1.06v1.06h-1.06zM11 2h1.06v1.06h-1.06zM2 3h1.06v1.06h-1.06zM7 5h1.06v1.06h-1.06zM20 11h1.06v1.06h-1.06zM15 16h1.06v1.06h-1.06zM14 19h1.06v1.06h-1.06zM14 20h1.06v1.06h-1.06zM22 21h5.06v1.06h-5.06z" fill="#242424"/>
<path d="M13 -3h1.06v1.06h-1.06zM19 -3h1.06v1.06h-1.06zM13 -2h1.06v1.06h-1.06zM19 -2h1.06v1.06h-1.06zM13 -1h1.06v1.06h-1.06zM13 0h1.06v1.06h-1.06zM13 1h1.06v1.06h-1.06zM19 1h1.06v1.06h-1.06zM4 2h7.06v1.06h-7.06zM18 3h1.06v1.06h-1.06zM8 5h3.06v1.06h-3.06zM12 6h1.06v1.06h-1.06zM17 6h1.06v1.06h-1.06zM5 7h1.06v1.06h-1.06zM15 7h2.06v1.06h-2.06zM0 15h1.06v1.06h-1.06zM16 15h1.06v1.06h-1.06zM14 18h1.06v1.06h-1.06zM14 21h1.06v1.06h-1.06zM22 22h1.06v1.06h-1.06zM24 22h3.06v1.06h-3.06zM22 23h1.06v1.06h-1.06zM25 23h2.06v1.06h-2.06zM22 24h1.06v1.06h-1.06zM25 24h2.06v1.06h-2.06zM22 25h1.06v1.06h-1.06zM24 25h3.06v1.06h-3.06zM22 26h1.06v1.06h-1.06zM24 26h3.06v1.06h-3.06z" fill="#262626"/>
<path d="M12 -3h1.06v1.06h-1.06zM12 -2h1.06v1.06h-1.06zM12 -1h1.06v1.06h-1.06zM20 -1h1.06v1.06h-1.06zM12 0h1.06v1.06h-1.06zM20 0h1.06v1.06h-1.06zM12 1h1.06v1.06h-1.06zM-3 3h5.06v1.06h-5.06zM18 4h1.06v1.06h-1.06zM6 6h1.06v1.06h-1.06zM14 7h1.06v1.06h-1.06zM3 11h1.06v1.06h-1.06zM19 12h1.06v1.06h-1.06zM18 13h1.06v1.06h-1.06zM17 14h1.06v1.06h-1.06zM-3 15h3.06v1.06h-3.06zM1 15h1.06v1.06h-1.06zM14 17h1.06v1.06h-1.06zM14 22h1.06v1.06h-1.06zM23 22h1.06v1.06h-1.06zM14 23h1.06v1.06h-1.06zM23 23h2.06v1.06h-2.06zM14 24h1.06v1.06h-1.06zM23 24h2.06v1.06h-2.06zM14 25h1.06v1.06h-1.06zM23 25h1.06v1.06h-1.06zM14 26h1.06v1.06h-1.06zM23 26h1.06v1.06h-1.06z" fill="#282828"/>
<path d="M10 -3h2.06v1.06h-2.06zM20 -3h1.06v1.06h-1.06zM10 -2h2.06v1.06h-2.06zM20 -2h1.06v1.06h-1.06zM10 -1h2.06v1.06h-2.06zM11 0h1.06v1.06h-1.06zM10 1h2.06v1.06h-2.06zM20 1h1.06v1.06h-1.06zM3 2h1.06v1.06h-1.06zM19 2h1.06v1.06h-1.06zM13 7h1.06v1.06h-1.06zM4 9h1.06v1.06h-1.06zM21 9h1.06v1.06h-1.06zM15 15h1.06v1.06h-1.06z" fill="#2a2a2a"/>
<path d="M7 -3h3.06v1.06h-3.06zM7 -2h3.06v1.06h-3.06zM8 -1h2.06v1.06h-2.06zM21 -1h1.06v1.06h-1.06zM8 0h3.06v1.06h-3.06zM21 0h1.06v1.06h-1.06zM7 1h3.06v1.06h-3.06zM11 6h1.06v1.06h-1.06zM17 7h1.06v1.06h-1.06zM20 10h1.06v1.06h-1.06zM3 12h1.06v1.06h-1.06zM2 14h1.06v1.06h-1.06zM14 16h1.06v1.06h-1.06z" fill="#2c2c2c"/>
<path d="M5 -3h2.06v1.06h-2.06zM21 -3h1.06v1.06h-1.06zM5 -2h2.06v1.06h-2.06zM21 -2h1.06v1.06h-1.06zM6 -1h2.06v1.06h-2.06zM6 0h2.06v1.06h-2.06zM22 0h1.06v1.06h-1.06zM24 0h3.06v1.06h-3.06zM5 1h2.06v1.06h-2.06zM21 1h1.06v1.06h-1.06zM2 2h1.06v1.06h-1.06zM20 2h1.06v1.06h-1.06zM18 5h1.06v1.06h-1.06zM12 7h1.06v1.06h-1.06zM15 8h2.06v1.06h-2.06zM19 11h1.06v1.06h-1.06zM18 12h1.06v1.06h-1.06zM16 14h1.06v1.06h-1.06z" fill="#2e2e2e"/>
<path d="M4 -3h1.06v1.06h-1.06zM22 -3h5.06v1.06h-5.06zM4 -2h1.06v1.06h-1.06zM22 -2h5.06v1.06h-5.06zM4 -1h2.06v1.06h-2.06zM22 -1h5.06v1.06h-5.06zM5 0h1.06v1.06h-1.06zM23 0h1.06v1.06h-1.06zM4 1h1.06v1.06h-1.06zM22 1h5.06v1.06h-5.06zM-3 2h5.06v1.06h-5.06zM19 3h1.06v1.06h-1.06zM7 6h1.06v1.06h-1.06zM10 6h1.06v1.06h-1.06zM14 8h1.06v1.06h-1.06zM17 13h1.06v1.06h-1.06zM14 15h1.06v1.06h-1.06zM0 16h1.06v1.06h-1.06z" fill="#303030"/>
<path d="M3 -3h1.06v1.06h-1.06zM3 -2h1.06v1.06h-1.06zM3 -1h1.06v1.06h-1.06zM4 0h1.06v1.06h-1.06zM3 1h1.06v1.06h-1.06zM21 2h1.06v1.06h-1.06zM8 6h2.06v1.06h-2.06zM18 6h1.06v1.06h-1.06zM5 8h1.06v1.06h-1.06zM17 8h1.06v1.06h-1.06zM22 8h5.06v1.06h-5.06zM20 9h1.06v1.06h-1.06zM4 10h1.06v1.06h-1.06zM15 14h1.06v1.06h-1.06zM-3 16h3.06v1.06h-3.06zM1 16h1.06v1.06h-1.06zM13 16h1.06v1.06h-1.06zM13 17h1.06v1.06h-1.06zM13 18h1.06v1.06h-1.06zM13 19h1.06v1.06h-1.06z" fill="#323232"/>
<path d="M-3 -3h2.06v1.06h-2.06zM1 -3h2.06v1.06h-2.06zM-3 -2h2.06v1.06h-2.06zM1 -2h2.06v1.06h-2.06zM2 -1h1.06v1.06h-1.06zM3 0h1.06v1.06h-1.06zM-3 1h2.06v1.06h-2.06zM1 1h2.06v1.06h-2.06zM19 4h1.06v1.06h-1.06zM6 7h1.06v1.06h-1.06zM11 7h1.06v1.06h-1.06zM13 8h1.06v1.06h-1.06zM19 10h1.06v1.06h-1.06zM18 11h1.06v1.06h-1.06zM17 12h1.06v1.06h-1.06zM3 13h1.06v1.06h-1.06zM16 13h1.06v1.06h-1.06zM14 14h1.06v1.06h-1.06zM13 15h1.06v1.06h-1.06zM13 20h1.06v1.06h-1.06zM0 23h1.06v1.06h-1.06z" fill="#343434"/>
<path d="M-1 -3h2.06v1.06h-2.06zM-1 -2h2.06v1.06h-2.06zM-3 -1h5.06v1.06h-5.06zM-3 0h6.06v1.06h-6.06zM-1 1h2.06v1.06h-2.06zM22 2h5.06v1.06h-5.06zM20 3h1.06v1.06h-1.06zM18 7h1.06v1.06h-1.06zM21 8h1.06v1.06h-1.06zM16 9h2.06v1.06h-2.06zM13 14h1.06v1.06h-1.06zM2 15h1.06v1.06h-1.06zM13 21h1.06v1.06h-1.06zM-1 22h2.06v1.06h-2.06zM-3 23h3.06v1.06h-3.06zM1 23h1.06v1.06h-1.06zM-3 24h5.06v1.06h-5.06zM-1 25h2.06v1.06h-2.06zM-1 26h2.06v1.06h-2.06z" fill="#363636"/>
<path d="M12 8h1.06v1.06h-1.06zM18 8h1.06v1.06h-1.06zM15 9h1.06v1.06h-1.06zM18 10h1.06v1.06h-1.06zM4 11h1.06v1.06h-1.06zM17 11h1.06v1.06h-1.06zM14 13h2.06v1.06h-2.06zM-3 22h2.06v1.06h-2.06zM1 22h1.06v1.06h-1.06zM13 22h1.06v1.06h-1.06zM13 23h1.06v1.06h-1.06zM13 24h1.06v1.06h-1.06zM-3 25h2.06v1.06h-2.06zM1 25h1.06v1.06h-1.06zM13 25h1.06v1.06h-1.06zM-3 26h2.06v1.06h-2.06zM1 26h1.06v1.06h-1.06zM13 26h1.06v1.06h-1.06z" fill="#383838"/>
<path d="M21 3h1.06v1.06h-1.06zM19 5h1.06v1.06h-1.06zM10 7h1.06v1.06h-1.06zM20 8h1.06v1.06h-1.06zM14 9h1.06v1.06h-1.06zM18 9h2.06v1.06h-2.06zM16 10h2.06v1.06h-2.06zM16 12h1.06v1.06h-1.06zM13 13h1.06v1.06h-1.06zM-1 17h2.06v1.06h-2.06zM2 23h1.06v1.06h-1.06zM2 24h1.06v1.06h-1.06z" fill="#3a3a3a"/>
<path d="M22 3h1.06v1.06h-1.06zM25 3h2.06v1.06h-2.06zM20 4h1.06v1.06h-1.06zM19 6h1.06v1.06h-1.06zM9 7h1.06v1.06h-1.06zM19 8h1.06v1.06h-1.06zM15 10h1.06v1.06h-1.06zM16 11h1.06v1.06h-1.06zM14 12h2.06v1.06h-2.06zM12 14h1.06v1.06h-1.06zM12 15h1.06v1.06h-1.06zM12 16h1.06v1.06h-1.06zM-3 17h2.06v1.06h-2.06zM1 17h1.06v1.06h-1.06zM-3 21h5.06v1.06h-5.06zM2 22h1.06v1.06h-1.06zM2 25h1.06v1.06h-1.06zM2 26h1.06v1.06h-1.06z" fill="#3c3c3c"/>
<path d="M23 3h2.06v1.06h-2.06zM20 5h1.06v1.06h-1.06zM7 7h1.06v1.06h-1.06zM19 7h1.06v1.06h-1.06zM21 7h6.06v1.06h-6.06zM11 8h1.06v1.06h-1.06zM5 9h1.06v1.06h-1.06zM13 9h1.06v1.06h-1.06zM15 11h1.06v1.06h-1.06zM4 12h1.06v1.06h-1.06zM13 12h1.06v1.06h-1.06zM12 13h1.06v1.06h-1.06zM3 14h1.06v1.06h-1.06zM12 17h1.06v1.06h-1.06z" fill="#3e3e3e"/>
<path d="M21 4h1.06v1.06h-1.06zM20 6h1.06v1.06h-1.06zM8 7h1.06v1.06h-1.06zM20 7h1.06v1.06h-1.06zM14 10h1.06v1.06h-1.06zM14 11h1.06v1.06h-1.06zM2 16h1.06v1.06h-1.06zM12 18h1.06v1.06h-1.06zM3 23h1.06v1.06h-1.06zM3 24h1.06v1.06h-1.06z" fill="#404040"/>
<path d="M22 4h5.06v1.06h-5.06zM21 5h1.06v1.06h-1.06zM21 6h6.06v1.06h-6.06zM6 8h1.06v1.06h-1.06zM13 11h1.06v1.06h-1.06zM12 12h1.06v1.06h-1.06zM11 14h1.06v1.06h-1.06zM0 18h1.06v1.06h-1.06zM12 19h1.06v1.06h-1.06zM2 21h1.06v1.06h-1.06zM3 22h1.06v1.06h-1.06zM3 25h1.06v1.06h-1.06zM3 26h1.06v1.06h-1.06z" fill="#424242"/>
<path d="M22 5h5.06v1.06h-5.06zM10 8h1.06v1.06h-1.06zM12 9h1.06v1.06h-1.06zM13 10h1.06v1.06h-1.06zM4 13h1.06v1.06h-1.06zM11 13h1.06v1.06h-1.06zM11 15h1.06v1.06h-1.06zM-3 18h3.06v1.06h-3.06zM1 18h1.06v1.06h-1.06zM-3 20h5.06v1.06h-5.06zM12 20h1.06v1.06h-1.06zM12 21h1.06v1.06h-1.06z" fill="#444444"/>
<path d="M11 16h1.06v1.06h-1.06zM2 17h1.06v1.06h-1.06zM0 19h1.06v1.06h-1.06zM12 22h1.06v1.06h-1.06zM4 23h1.06v1.06h-1.06zM12 23h1.06v1.06h-1.06zM12 24h1.06v1.06h-1.06zM12 25h1.06v1.06h-1.06zM12 26h1.06v1.06h-1.06z" fill="#464646"/>
<path d="M5 10h1.06v1.06h-1.06zM12 11h1.06v1.06h-1.06zM11 12h1.06v1.06h-1.06zM3 15h1.06v1.06h-1.06zM11 17h1.06v1.06h-1.06zM-3 19h3.06v1.06h-3.06zM1 19h1.06v1.06h-1.06zM2 20h1.06v1.06h-1.06zM3 21h1.06v1.06h-1.06zM4 22h1.06v1.06h-1.06zM4 24h1.06v1.06h-1.06zM4 25h1.06v1.06h-1.06zM4 26h1.06v1.06h-1.06z" fill="#484848"/>
<path d="M9 8h1.06v1.06h-1.06zM11 9h1.06v1.06h-1.06zM12 10h1.06v1.06h-1.06zM10 13h1.06v1.06h-1.06zM10 14h1.06v1.06h-1.06z" fill="#4a4a4a"/>
<path d="M5 11h1.06v1.06h-1.06zM2 18h1.06v1.06h-1.06zM11 18h1.06v1.06h-1.06z" fill="#4c4c4c"/>
<path d="M7 8h2.06v1.06h-2.06zM11 11h1.06v1.06h-1.06zM5 12h1.06v1.06h-1.06zM10 12h1.06v1.06h-1.06zM4 14h1.06v1.06h-1.06zM10 15h1.06v1.06h-1.06zM2 19h1.06v1.06h-1.06zM3 20h1.06v1.06h-1.06zM4 21h1.06v1.06h-1.06zM5 23h1.06v1.06h-1.06z" fill="#4e4e4e"/>
<path d="M10 9h1.06v1.06h-1.06zM11 10h1.06v1.06h-1.06zM3 16h1.06v1.06h-1.06zM10 16h1.06v1.06h-1.06zM11 19h1.06v1.06h-1.06zM5 22h1.06v1.06h-1.06zM5 24h1.06v1.06h-1.06zM5 25h1.06v1.06h-1.06zM5 26h1.06v1.06h-1.06z" fill="#505050"/>
<path d="M6 9h1.06v1.06h-1.06zM5 13h1.06v1.06h-1.06zM11 20h1.06v1.06h-1.06z" fill="#525252"/>
<path d="M9 13h1.06v1.06h-1.06zM3 17h1.06v1.06h-1.06zM10 17h1.06v1.06h-1.06zM3 19h1.06v1.06h-1.06zM11 21h1.06v1.06h-1.06z" fill="#545454"/>
<path d="M10 10h1.06v1.06h-1.06zM10 11h1.06v1.06h-1.06zM9 14h1.06v1.06h-1.06zM3 18h1.06v1.06h-1.06zM4 20h1.06v1.06h-1.06zM5 21h1.06v1.06h-1.06zM11 22h1.06v1.06h-1.06zM11 23h1.06v1.06h-1.06zM11 24h1.06v1.06h-1.06zM11 25h1.06v1.06h-1.06zM11 26h1.06v1.06h-1.06z" fill="#565656"/>
<path d="M9 9h1.06v1.06h-1.06zM9 12h1.06v1.06h-1.06zM4 15h1.06v1.06h-1.06zM10 18h1.06v1.06h-1.06zM6 23h1.06v1.06h-1.06zM6 24h1.06v1.06h-1.06z" fill="#585858"/>
<path d="M5 14h1.06v1.06h-1.06zM9 15h1.06v1.06h-1.06zM6 22h1.06v1.06h-1.06zM6 25h1.06v1.06h-1.06zM6 26h1.06v1.06h-1.06z" fill="#5a5a5a"/>
<path d="M4 19h1.06v1.06h-1.06zM10 19h1.06v1.06h-1.06zM5 20h1.06v1.06h-1.06z" fill="#5c5c5c"/>
<path d="M6 10h1.06v1.06h-1.06zM6 12h1.06v1.06h-1.06zM6 13h1.06v1.06h-1.06zM9 16h1.06v1.06h-1.06zM4 18h1.06v1.06h-1.06zM10 20h1.06v1.06h-1.06zM6 21h1.06v1.06h-1.06zM10 21h1.06v1.06h-1.06zM7 23h1.06v1.06h-1.06zM7 24h1.06v1.06h-1.06z" fill="#5e5e5e"/>
<path d="M7 9h2.06v1.06h-2.06zM9 10h1.06v1.06h-1.06zM6 11h1.06v1.06h-1.06zM9 11h1.06v1.06h-1.06zM8 13h1.06v1.06h-1.06zM4 16h1.06v1.06h-1.06zM4 17h1.06v1.06h-1.06zM9 17h1.06v1.06h-1.06zM7 22h1.06v1.06h-1.06zM10 22h1.06v1.06h-1.06zM10 23h1.06v1.06h-1.06zM10 24h1.06v1.06h-1.06zM7 25h1.06v1.06h-1.06zM10 25h1.06v1.06h-1.06zM7 26h1.06v1.06h-1.06zM10 26h1.06v1.06h-1.06z" fill="#606060"/>
<path d="M8 14h1.06v1.06h-1.06zM9 18h1.06v1.06h-1.06zM5 19h1.06v1.06h-1.06zM7 21h1.06v1.06h-1.06zM8 22h1.06v1.06h-1.06zM8 23h1.06v1.06h-1.06zM8 24h1.06v1.06h-1.06zM8 25h1.06v1.06h-1.06zM8 26h1.06v1.06h-1.06z" fill="#626262"/>
<path d="M8 12h1.06v1.06h-1.06zM7 13h1.06v1.06h-1.06zM6 14h1.06v1.06h-1.06zM5 15h1.06v1.06h-1.06zM9 19h1.06v1.06h-1.06zM6 20h1.06v1.06h-1.06zM9 20h1.06v1.06h-1.06zM8 21h2.06v1.06h-2.06zM9 22h1.06v1.06h-1.06zM9 23h1.06v1.06h-1.06zM9 24h1.06v1.06h-1.06zM9 25h1.06v1.06h-1.06zM9 26h1.06v1.06h-1.06z" fill="#646464"/>
<path d="M5 18h1.06v1.06h-1.06z" fill="#666666"/>
<path d="M7 12h1.06v1.06h-1.06zM7 14h1.06v1.06h-1.06zM8 15h1.06v1.06h-1.06zM7 20h2.06v1.06h-2.06z" fill="#686868"/>
<path d="M8 10h1.06v1.06h-1.06zM8 11h1.06v1.06h-1.06zM5 16h1.06v1.06h-1.06zM8 16h1.06v1.06h-1.06zM5 17h1.06v1.06h-1.06zM6 19h1.06v1.06h-1.06zM8 19h1.06v1.06h-1.06z" fill="#6a6a6a"/>
<path d="M7 10h1.06v1.06h-1.06zM7 11h1.06v1.06h-1.06zM6 15h1.06v1.06h-1.06zM8 17h1.06v1.06h-1.06zM8 18h1.06v1.06h-1.06zM7 19h1.06v1.06h-1.06z" fill="#6c6c6c"/>
<path d="M7 15h1.06v1.06h-1.06zM6 18h1.06v1.06h-1.06z" fill="#6e6e6e"/>
<path d="M6 16h1.06v1.06h-1.06zM6 17h1.06v1.06h-1.06zM7 18h1.06v1.06h-1.06z" fill="#707070"/>
<path d="M7 16h1.06v1.06h-1.06zM7 17h1.06v1.06h-1.06z" fill="#727272"/>
</g></g></g>
<g clip-path="url(#cp12)"><g filter="url(#bl)"><g transform="translate(1181.1,1412.1) scale(13.99167,13.98333)">
<path d="M-3 13h6.06v1.06h-6.06z" fill="#060606"/>
<path d="M-3 12h7.06v1.06h-7.06zM3 13h2.06v1.06h-2.06z" fill="#080808"/>
<path d="M4 12h1.06v1.06h-1.06zM22 12h5.06v1.06h-5.06zM5 13h1.06v1.06h-1.06zM22 13h5.06v1.06h-5.06zM6 14h1.06v1.06h-1.06zM7 15h1.06v1.06h-1.06z" fill="#0a0a0a"/>
<path d="M6 13h1.06v1.06h-1.06zM3 14h3.06v1.06h-3.06zM7 14h1.06v1.06h-1.06zM6 15h1.06v1.06h-1.06zM8 15h1.06v1.06h-1.06zM7 16h2.06v1.06h-2.06zM13 22h1.06v1.06h-1.06zM13 23h1.06v1.06h-1.06zM13 24h1.06v1.06h-1.06zM13 25h1.06v1.06h-1.06zM13 26h1.06v1.06h-1.06z" fill="#0c0c0c"/>
<path d="M-3 11h6.06v1.06h-6.06zM23 11h2.06v1.06h-2.06zM5 12h1.06v1.06h-1.06zM21 12h1.06v1.06h-1.06zM-3 14h6.06v1.06h-6.06zM9 16h1.06v1.06h-1.06zM9 17h1.06v1.06h-1.06z" fill="#0e0e0e"/>
<path d="M3 11h1.06v1.06h-1.06zM21 11h2.06v1.06h-2.06zM25 11h2.06v1.06h-2.06zM7 13h1.06v1.06h-1.06zM21 13h1.06v1.06h-1.06zM22 14h5.06v1.06h-5.06zM5 15h1.06v1.06h-1.06zM6 16h1.06v1.06h-1.06zM8 17h1.06v1.06h-1.06zM10 17h1.06v1.06h-1.06zM10 18h1.06v1.06h-1.06z" fill="#101010"/>
<path d="M4 11h1.06v1.06h-1.06zM20 11h1.06v1.06h-1.06zM6 12h1.06v1.06h-1.06zM20 12h1.06v1.06h-1.06zM8 14h1.06v1.06h-1.06zM9 15h1.06v1.06h-1.06zM9 18h1.06v1.06h-1.06zM13 21h1.06v1.06h-1.06zM12 22h1.06v1.06h-1.06zM12 23h1.06v1.06h-1.06zM14 23h1.06v1.06h-1.06zM12 24h1.06v1.06h-1.06zM12 25h1.06v1.06h-1.06zM12 26h1.06v1.06h-1.06z" fill="#121212"/>
<path d="M4 15h1.06v1.06h-1.06zM10 16h1.06v1.06h-1.06zM7 17h1.06v1.06h-1.06zM10 19h2.06v1.06h-2.06zM12 21h1.06v1.06h-1.06zM14 22h1.06v1.06h-1.06zM14 24h1.06v1.06h-1.06zM14 25h1.06v1.06h-1.06zM14 26h1.06v1.06h-1.06z" fill="#141414"/>
<path d="M20 10h2.06v1.06h-2.06zM5 11h1.06v1.06h-1.06zM19 11h1.06v1.06h-1.06zM20 13h1.06v1.06h-1.06zM21 14h1.06v1.06h-1.06zM11 18h1.06v1.06h-1.06zM11 20h2.06v1.06h-2.06z" fill="#161616"/>
<path d="M-3 10h7.06v1.06h-7.06zM19 10h1.06v1.06h-1.06zM22 10h5.06v1.06h-5.06zM7 12h1.06v1.06h-1.06zM19 12h1.06v1.06h-1.06zM8 13h1.06v1.06h-1.06zM3 15h1.06v1.06h-1.06zM5 16h1.06v1.06h-1.06zM8 18h1.06v1.06h-1.06zM9 19h1.06v1.06h-1.06zM13 20h1.06v1.06h-1.06z" fill="#181818"/>
<path d="M4 10h1.06v1.06h-1.06zM6 11h1.06v1.06h-1.06zM9 14h1.06v1.06h-1.06zM2 15h1.06v1.06h-1.06zM10 15h1.06v1.06h-1.06zM22 15h5.06v1.06h-5.06zM6 17h1.06v1.06h-1.06zM11 17h1.06v1.06h-1.06zM12 19h1.06v1.06h-1.06zM10 20h1.06v1.06h-1.06zM11 21h1.06v1.06h-1.06zM14 21h1.06v1.06h-1.06z" fill="#1a1a1a"/>
<path d="M18 10h1.06v1.06h-1.06zM18 11h1.06v1.06h-1.06zM-3 15h5.06v1.06h-5.06z" fill="#1c1c1c"/>
<path d="M19 9h1.06v1.06h-1.06zM5 10h1.06v1.06h-1.06zM19 13h1.06v1.06h-1.06zM20 14h1.06v1.06h-1.06zM4 16h1.06v1.06h-1.06zM11 16h1.06v1.06h-1.06zM7 18h1.06v1.06h-1.06zM11 22h1.06v1.06h-1.06zM11 23h1.06v1.06h-1.06zM11 24h1.06v1.06h-1.06zM11 25h1.06v1.06h-1.06zM11 26h1.06v1.06h-1.06z" fill="#1e1e1e"/>
<path d="M0 9h1.06v1.06h-1.06zM20 9h1.06v1.06h-1.06zM7 11h1.06v1.06h-1.06zM8 12h1.06v1.06h-1.06zM18 12h1.06v1.06h-1.06zM21 15h1.06v1.06h-1.06zM12 18h1.06v1.06h-1.06zM13 19h1.06v1.06h-1.06zM14 20h1.06v1.06h-1.06z" fill="#202020"/>
<path d="M-3 9h3.06v1.06h-3.06zM1 9h2.06v1.06h-2.06zM18 9h1.06v1.06h-1.06zM21 9h1.06v1.06h-1.06zM9 13h1.06v1.06h-1.06zM10 14h1.06v1.06h-1.06zM3 16h1.06v1.06h-1.06zM5 17h1.06v1.06h-1.06zM8 19h1.06v1.06h-1.06zM9 20h1.06v1.06h-1.06zM15 22h1.06v1.06h-1.06zM15 23h1.06v1.06h-1.06zM15 24h1.06v1.06h-1.06zM15 25h1.06v1.06h-1.06zM15 26h1.06v1.06h-1.06z" fill="#222222"/>
<path d="M14 -3h1.06v1.06h-1.06zM14 -2h1.06v1.06h-1.06zM13 -1h2.06v1.06h-2.06zM13 0h2.06v1.06h-2.06zM14 1h1.06v1.06h-1.06zM3 9h1.06v1.06h-1.06zM22 9h5.06v1.06h-5.06zM6 10h1.06v1.06h-1.06zM17 10h1.06v1.06h-1.06zM19 14h1.06v1.06h-1.06zM23 16h2.06v1.06h-2.06zM10 21h1.06v1.06h-1.06z" fill="#242424"/>
<path d="M13 -3h1.06v1.06h-1.06zM13 -2h1.06v1.06h-1.06zM13 1h1.06v1.06h-1.06zM17 9h1.06v1.06h-1.06zM17 11h1.06v1.06h-1.06zM18 13h1.06v1.06h-1.06zM11 15h1.06v1.06h-1.06zM20 15h1.06v1.06h-1.06zM22 16h1.06v1.06h-1.06zM25 16h2.06v1.06h-2.06zM6 18h1.06v1.06h-1.06zM15 21h1.06v1.06h-1.06z" fill="#262626"/>
<path d="M15 -1h1.06v1.06h-1.06zM15 0h1.06v1.06h-1.06zM4 9h1.06v1.06h-1.06zM8 11h1.06v1.06h-1.06zM2 16h1.06v1.06h-1.06zM4 17h1.06v1.06h-1.06zM12 17h1.06v1.06h-1.06zM13 18h1.06v1.06h-1.06zM14 19h1.06v1.06h-1.06z" fill="#282828"/>
<path d="M15 -3h1.06v1.06h-1.06zM15 -2h1.06v1.06h-1.06zM12 0h1.06v1.06h-1.06zM15 1h1.06v1.06h-1.06zM17 8h3.06v1.06h-3.06zM5 9h1.06v1.06h-1.06zM7 10h1.06v1.06h-1.06zM9 12h1.06v1.06h-1.06zM17 12h1.06v1.06h-1.06zM10 13h1.06v1.06h-1.06zM-3 16h3.06v1.06h-3.06zM1 16h1.06v1.06h-1.06zM21 16h1.06v1.06h-1.06zM7 19h1.06v1.06h-1.06zM10 22h1.06v1.06h-1.06zM10 25h1.06v1.06h-1.06zM10 26h1.06v1.06h-1.06z" fill="#2a2a2a"/>
<path d="M12 -3h1.06v1.06h-1.06zM12 -2h1.06v1.06h-1.06zM12 -1h1.06v1.06h-1.06zM12 1h1.06v1.06h-1.06zM14 2h1.06v1.06h-1.06zM0 8h1.06v1.06h-1.06zM20 8h1.06v1.06h-1.06zM16 9h1.06v1.06h-1.06zM16 10h1.06v1.06h-1.06zM11 14h1.06v1.06h-1.06zM18 14h1.06v1.06h-1.06zM0 16h1.06v1.06h-1.06zM5 18h1.06v1.06h-1.06zM15 20h1.06v1.06h-1.06zM10 23h1.06v1.06h-1.06zM10 24h1.06v1.06h-1.06z" fill="#2c2c2c"/>
<path d="M16 0h1.06v1.06h-1.06zM13 2h1.06v1.06h-1.06zM15 2h1.06v1.06h-1.06zM-3 8h3.06v1.06h-3.06zM1 8h1.06v1.06h-1.06zM16 8h1.06v1.06h-1.06zM16 11h1.06v1.06h-1.06zM17 13h1.06v1.06h-1.06zM19 15h1.06v1.06h-1.06zM12 16h1.06v1.06h-1.06zM3 17h1.06v1.06h-1.06zM22 17h5.06v1.06h-5.06zM8 20h1.06v1.06h-1.06zM9 21h1.06v1.06h-1.06zM16 23h1.06v1.06h-1.06z" fill="#2e2e2e"/>
<path d="M16 -3h1.06v1.06h-1.06zM16 -2h1.06v1.06h-1.06zM16 -1h1.06v1.06h-1.06zM16 1h1.06v1.06h-1.06zM16 7h2.06v1.06h-2.06zM2 8h1.06v1.06h-1.06zM6 9h1.06v1.06h-1.06zM20 16h1.06v1.06h-1.06zM21 17h1.06v1.06h-1.06zM16 22h1.06v1.06h-1.06zM16 24h1.06v1.06h-1.06zM16 25h1.06v1.06h-1.06zM16 26h1.06v1.06h-1.06z" fill="#303030"/>
<path d="M12 2h1.06v1.06h-1.06zM18 7h1.06v1.06h-1.06zM21 8h1.06v1.06h-1.06zM8 10h1.06v1.06h-1.06zM9 11h1.06v1.06h-1.06zM10 12h1.06v1.06h-1.06zM16 12h1.06v1.06h-1.06zM13 17h1.06v1.06h-1.06zM14 18h1.06v1.06h-1.06zM6 19h1.06v1.06h-1.06zM15 19h1.06v1.06h-1.06zM16 21h1.06v1.06h-1.06z" fill="#323232"/>
<path d="M16 2h1.06v1.06h-1.06zM16 6h1.06v1.06h-1.06zM15 7h1.06v1.06h-1.06zM19 7h1.06v1.06h-1.06zM3 8h1.06v1.06h-1.06zM15 8h1.06v1.06h-1.06zM22 8h1.06v1.06h-1.06zM25 8h2.06v1.06h-2.06zM7 9h1.06v1.06h-1.06zM15 9h1.06v1.06h-1.06zM11 13h1.06v1.06h-1.06zM16 13h1.06v1.06h-1.06zM17 14h1.06v1.06h-1.06zM12 15h1.06v1.06h-1.06zM18 15h1.06v1.06h-1.06zM19 16h1.06v1.06h-1.06zM2 17h1.06v1.06h-1.06zM4 18h1.06v1.06h-1.06z" fill="#343434"/>
<path d="M11 0h1.06v1.06h-1.06zM14 3h2.06v1.06h-2.06zM15 6h1.06v1.06h-1.06zM17 6h1.06v1.06h-1.06zM4 8h1.06v1.06h-1.06zM23 8h2.06v1.06h-2.06zM15 10h1.06v1.06h-1.06zM20 17h1.06v1.06h-1.06zM22 18h5.06v1.06h-5.06zM16 20h1.06v1.06h-1.06z" fill="#363636"/>
<path d="M11 -3h1.06v1.06h-1.06zM17 -3h1.06v1.06h-1.06zM11 -2h1.06v1.06h-1.06zM17 -2h1.06v1.06h-1.06zM11 -1h1.06v1.06h-1.06zM17 -1h1.06v1.06h-1.06zM17 0h1.06v1.06h-1.06zM11 1h1.06v1.06h-1.06zM17 1h1.06v1.06h-1.06zM13 3h1.06v1.06h-1.06zM16 3h1.06v1.06h-1.06zM16 5h1.06v1.06h-1.06zM5 8h1.06v1.06h-1.06zM8 9h1.06v1.06h-1.06zM15 11h1.06v1.06h-1.06zM12 14h1.06v1.06h-1.06zM-3 17h5.06v1.06h-5.06zM21 18h1.06v1.06h-1.06zM7 20h1.06v1.06h-1.06zM9 22h1.06v1.06h-1.06zM9 24h1.06v1.06h-1.06zM9 25h1.06v1.06h-1.06zM9 26h1.06v1.06h-1.06z" fill="#383838"/>
<path d="M11 2h1.06v1.06h-1.06zM12 3h1.06v1.06h-1.06zM15 4h2.06v1.06h-2.06zM15 5h1.06v1.06h-1.06zM14 6h1.06v1.06h-1.06zM18 6h1.06v1.06h-1.06zM-3 7h5.06v1.06h-5.06zM14 7h1.06v1.06h-1.06zM20 7h1.06v1.06h-1.06zM6 8h1.06v1.06h-1.06zM9 10h1.06v1.06h-1.06zM10 11h1.06v1.06h-1.06zM11 12h1.06v1.06h-1.06zM15 12h1.06v1.06h-1.06zM16 14h1.06v1.06h-1.06zM13 16h1.06v1.06h-1.06zM14 17h1.06v1.06h-1.06zM19 17h1.06v1.06h-1.06zM3 18h1.06v1.06h-1.06zM15 18h1.06v1.06h-1.06zM20 18h1.06v1.06h-1.06zM5 19h1.06v1.06h-1.06zM16 19h1.06v1.06h-1.06zM8 21h1.06v1.06h-1.06zM17 21h1.06v1.06h-1.06zM17 22h1.06v1.06h-1.06zM9 23h1.06v1.06h-1.06zM17 23h1.06v1.06h-1.06zM17 24h1.06v1.06h-1.06zM17 25h1.06v1.06h-1.06zM17 26h1.06v1.06h-1.06z" fill="#3a3a3a"/>
<path d="M17 2h1.06v1.06h-1.06zM14 4h1.06v1.06h-1.06zM17 5h1.06v1.06h-1.06zM7 8h1.06v1.06h-1.06zM14 8h1.06v1.06h-1.06zM12 13h1.06v1.06h-1.06zM15 13h1.06v1.06h-1.06zM17 15h1.06v1.06h-1.06zM18 16h1.06v1.06h-1.06zM19 18h1.06v1.06h-1.06zM17 20h1.06v1.06h-1.06z" fill="#3c3c3c"/>
<path d="M17 3h1.06v1.06h-1.06zM14 5h1.06v1.06h-1.06zM13 6h1.06v1.06h-1.06zM2 7h1.06v1.06h-1.06zM12 7h2.06v1.06h-2.06zM8 8h1.06v1.06h-1.06zM9 9h1.06v1.06h-1.06zM14 9h1.06v1.06h-1.06zM13 15h1.06v1.06h-1.06zM18 17h1.06v1.06h-1.06zM16 18h1.06v1.06h-1.06zM18 18h1.06v1.06h-1.06zM17 19h1.06v1.06h-1.06z" fill="#3e3e3e"/>
<path d="M11 3h1.06v1.06h-1.06zM12 4h2.06v1.06h-2.06zM17 4h1.06v1.06h-1.06zM13 5h1.06v1.06h-1.06zM11 6h2.06v1.06h-2.06zM19 6h1.06v1.06h-1.06zM10 7h2.06v1.06h-2.06zM21 7h1.06v1.06h-1.06zM9 8h2.06v1.06h-2.06zM13 8h1.06v1.06h-1.06zM10 9h1.06v1.06h-1.06zM10 10h1.06v1.06h-1.06zM11 11h1.06v1.06h-1.06zM14 13h1.06v1.06h-1.06zM13 14h1.06v1.06h-1.06zM15 14h1.06v1.06h-1.06zM14 16h1.06v1.06h-1.06zM15 17h1.06v1.06h-1.06zM2 18h1.06v1.06h-1.06zM17 18h1.06v1.06h-1.06zM4 19h1.06v1.06h-1.06zM18 19h9.06v1.06h-9.06zM6 20h1.06v1.06h-1.06zM18 20h1.06v1.06h-1.06z" fill="#404040"/>
<path d="M10 -3h1.06v1.06h-1.06zM10 -2h1.06v1.06h-1.06zM10 -1h1.06v1.06h-1.06zM10 0h1.06v1.06h-1.06zM10 1h1.06v1.06h-1.06zM10 2h1.06v1.06h-1.06zM11 4h1.06v1.06h-1.06zM11 5h2.06v1.06h-2.06zM18 5h1.06v1.06h-1.06zM10 6h1.06v1.06h-1.06zM3 7h1.06v1.06h-1.06zM9 7h1.06v1.06h-1.06zM11 8h2.06v1.06h-2.06zM14 10h1.06v1.06h-1.06zM14 11h1.06v1.06h-1.06zM12 12h1.06v1.06h-1.06zM14 12h1.06v1.06h-1.06zM13 13h1.06v1.06h-1.06zM14 14h1.06v1.06h-1.06zM14 15h1.06v1.06h-1.06zM16 15h1.06v1.06h-1.06zM17 16h1.06v1.06h-1.06zM17 17h1.06v1.06h-1.06zM18 21h1.06v1.06h-1.06zM18 22h1.06v1.06h-1.06zM18 23h1.06v1.06h-1.06zM18 24h1.06v1.06h-1.06zM18 25h1.06v1.06h-1.06zM18 26h1.06v1.06h-1.06z" fill="#424242"/>
<path d="M18 -3h1.06v1.06h-1.06zM18 -2h1.06v1.06h-1.06zM18 -1h1.06v1.06h-1.06zM18 0h1.06v1.06h-1.06zM18 1h1.06v1.06h-1.06zM10 3h1.06v1.06h-1.06zM10 4h1.06v1.06h-1.06zM10 5h1.06v1.06h-1.06zM9 6h1.06v1.06h-1.06zM4 7h1.06v1.06h-1.06zM7 7h2.06v1.06h-2.06zM22 7h1.06v1.06h-1.06zM25 7h2.06v1.06h-2.06zM11 9h1.06v1.06h-1.06zM11 10h1.06v1.06h-1.06zM13 12h1.06v1.06h-1.06zM15 15h1.06v1.06h-1.06zM15 16h2.06v1.06h-2.06zM16 17h1.06v1.06h-1.06zM-3 18h2.06v1.06h-2.06zM1 18h1.06v1.06h-1.06zM19 20h1.06v1.06h-1.06zM8 22h1.06v1.06h-1.06zM8 25h1.06v1.06h-1.06zM8 26h1.06v1.06h-1.06z" fill="#444444"/>
<path d="M18 2h1.06v1.06h-1.06zM18 4h1.06v1.06h-1.06zM20 6h1.06v1.06h-1.06zM5 7h2.06v1.06h-2.06zM23 7h2.06v1.06h-2.06zM12 9h2.06v1.06h-2.06zM12 11h1.06v1.06h-1.06zM-1 18h2.06v1.06h-2.06zM3 19h1.06v1.06h-1.06zM5 20h1.06v1.06h-1.06zM20 20h1.06v1.06h-1.06zM7 21h1.06v1.06h-1.06zM8 23h1.06v1.06h-1.06zM8 24h1.06v1.06h-1.06z" fill="#464646"/>
<path d="M9 -3h1.06v1.06h-1.06zM9 -2h1.06v1.06h-1.06zM9 -1h1.06v1.06h-1.06zM9 0h1.06v1.06h-1.06zM9 1h1.06v1.06h-1.06zM18 3h1.06v1.06h-1.06zM9 5h1.06v1.06h-1.06zM19 5h1.06v1.06h-1.06zM-3 6h5.06v1.06h-5.06zM8 6h1.06v1.06h-1.06zM12 10h2.06v1.06h-2.06zM13 11h1.06v1.06h-1.06zM21 20h1.06v1.06h-1.06zM19 21h1.06v1.06h-1.06z" fill="#484848"/>
<path d="M9 2h1.06v1.06h-1.06zM9 3h1.06v1.06h-1.06zM9 4h1.06v1.06h-1.06zM22 20h5.06v1.06h-5.06zM19 22h1.06v1.06h-1.06zM19 23h1.06v1.06h-1.06zM19 24h1.06v1.06h-1.06zM19 25h1.06v1.06h-1.06zM19 26h1.06v1.06h-1.06z" fill="#4a4a4a"/>
<path d="M8 5h1.06v1.06h-1.06zM2 6h1.06v1.06h-1.06zM7 6h1.06v1.06h-1.06zM2 19h1.06v1.06h-1.06zM4 20h1.06v1.06h-1.06zM20 21h1.06v1.06h-1.06z" fill="#4c4c4c"/>
<path d="M8 4h1.06v1.06h-1.06zM6 6h1.06v1.06h-1.06zM21 6h1.06v1.06h-1.06zM6 21h1.06v1.06h-1.06z" fill="#4e4e4e"/>
<path d="M8 -3h1.06v1.06h-1.06zM19 -3h1.06v1.06h-1.06zM8 -2h1.06v1.06h-1.06zM19 -2h1.06v1.06h-1.06zM8 -1h1.06v1.06h-1.06zM19 -1h1.06v1.06h-1.06zM8 0h1.06v1.06h-1.06zM19 0h1.06v1.06h-1.06zM8 1h1.06v1.06h-1.06zM19 1h1.06v1.06h-1.06zM8 2h1.06v1.06h-1.06zM19 2h1.06v1.06h-1.06zM8 3h1.06v1.06h-1.06zM19 4h1.06v1.06h-1.06zM3 6h1.06v1.06h-1.06zM-3 19h5.06v1.06h-5.06zM3 20h1.06v1.06h-1.06zM21 21h1.06v1.06h-1.06zM7 22h1.06v1.06h-1.06zM20 22h1.06v1.06h-1.06zM7 24h1.06v1.06h-1.06zM7 25h1.06v1.06h-1.06zM20 25h1.06v1.06h-1.06zM7 26h1.06v1.06h-1.06zM20 26h1.06v1.06h-1.06z" fill="#505050"/>
<path d="M19 3h1.06v1.06h-1.06zM7 5h1.06v1.06h-1.06zM20 5h1.06v1.06h-1.06zM5 6h1.06v1.06h-1.06zM5 21h1.06v1.06h-1.06zM7 23h1.06v1.06h-1.06zM20 23h1.06v1.06h-1.06zM20 24h1.06v1.06h-1.06z" fill="#525252"/>
<path d="M7 -3h1.06v1.06h-1.06zM7 -2h1.06v1.06h-1.06zM7 -1h1.06v1.06h-1.06zM7 0h1.06v1.06h-1.06zM7 1h1.06v1.06h-1.06zM7 4h1.06v1.06h-1.06zM4 6h1.06v1.06h-1.06zM22 6h1.06v1.06h-1.06zM25 6h2.06v1.06h-2.06zM2 20h1.06v1.06h-1.06zM22 21h5.06v1.06h-5.06z" fill="#545454"/>
<path d="M7 2h1.06v1.06h-1.06zM7 3h1.06v1.06h-1.06zM23 6h2.06v1.06h-2.06zM-3 20h2.06v1.06h-2.06zM1 20h1.06v1.06h-1.06zM6 22h1.06v1.06h-1.06zM21 22h1.06v1.06h-1.06zM6 25h1.06v1.06h-1.06zM21 25h1.06v1.06h-1.06zM6 26h1.06v1.06h-1.06zM21 26h1.06v1.06h-1.06z" fill="#565656"/>
<path d="M-3 5h5.06v1.06h-5.06zM6 5h1.06v1.06h-1.06zM-1 20h2.06v1.06h-2.06zM4 21h1.06v1.06h-1.06zM21 23h1.06v1.06h-1.06zM6 24h1.06v1.06h-1.06zM21 24h1.06v1.06h-1.06z" fill="#585858"/>
<path d="M6 -3h1.06v1.06h-1.06zM6 -2h1.06v1.06h-1.06zM6 -1h1.06v1.06h-1.06zM6 0h1.06v1.06h-1.06zM6 1h1.06v1.06h-1.06zM20 4h1.06v1.06h-1.06zM3 21h1.06v1.06h-1.06zM22 22h1.06v1.06h-1.06zM24 22h3.06v1.06h-3.06zM6 23h1.06v1.06h-1.06zM22 25h1.06v1.06h-1.06zM24 25h3.06v1.06h-3.06zM22 26h1.06v1.06h-1.06zM24 26h3.06v1.06h-3.06z" fill="#5a5a5a"/>
<path d="M20 -3h1.06v1.06h-1.06zM20 -2h1.06v1.06h-1.06zM20 -1h1.06v1.06h-1.06zM20 0h1.06v1.06h-1.06zM20 1h1.06v1.06h-1.06zM6 2h1.06v1.06h-1.06zM20 2h1.06v1.06h-1.06zM6 4h1.06v1.06h-1.06zM2 5h1.06v1.06h-1.06zM21 5h1.06v1.06h-1.06zM-3 21h6.06v1.06h-6.06zM5 22h1.06v1.06h-1.06zM23 22h1.06v1.06h-1.06zM22 23h1.06v1.06h-1.06zM24 23h3.06v1.06h-3.06zM22 24h5.06v1.06h-5.06zM5 25h1.06v1.06h-1.06zM23 25h1.06v1.06h-1.06zM5 26h1.06v1.06h-1.06zM23 26h1.06v1.06h-1.06z" fill="#5c5c5c"/>
<path d="M6 3h1.06v1.06h-1.06zM20 3h1.06v1.06h-1.06zM5 5h1.06v1.06h-1.06zM5 23h1.06v1.06h-1.06zM23 23h1.06v1.06h-1.06zM5 24h1.06v1.06h-1.06z" fill="#5e5e5e"/>
<path d="M5 -3h1.06v1.06h-1.06zM5 -2h1.06v1.06h-1.06zM5 -1h1.06v1.06h-1.06zM5 0h1.06v1.06h-1.06zM5 1h1.06v1.06h-1.06zM3 5h2.06v1.06h-2.06zM-3 22h8.06v1.06h-8.06zM-3 23h5.06v1.06h-5.06zM-3 24h6.06v1.06h-6.06zM4 24h1.06v1.06h-1.06zM-3 25h8.06v1.06h-8.06zM-3 26h8.06v1.06h-8.06z" fill="#606060"/>
<path d="M5 2h1.06v1.06h-1.06zM2 23h3.06v1.06h-3.06zM3 24h1.06v1.06h-1.06z" fill="#626262"/>
<path d="M4 -3h1.06v1.06h-1.06zM4 -2h1.06v1.06h-1.06zM4 -1h1.06v1.06h-1.06zM4 0h1.06v1.06h-1.06zM4 1h1.06v1.06h-1.06zM-3 4h5.06v1.06h-5.06zM5 4h1.06v1.06h-1.06zM22 5h1.06v1.06h-1.06zM25 5h2.06v1.06h-2.06z" fill="#646464"/>
<path d="M5 3h1.06v1.06h-1.06zM21 4h1.06v1.06h-1.06zM23 5h2.06v1.06h-2.06z" fill="#666666"/>
<path d="M21 -3h1.06v1.06h-1.06zM21 -2h1.06v1.06h-1.06zM21 -1h1.06v1.06h-1.06zM21 0h1.06v1.06h-1.06zM21 1h1.06v1.06h-1.06zM4 2h1.06v1.06h-1.06zM21 2h1.06v1.06h-1.06zM2 4h1.06v1.06h-1.06z" fill="#686868"/>
<path d="M3 -3h1.06v1.06h-1.06zM3 -2h1.06v1.06h-1.06zM3 -1h1.06v1.06h-1.06zM3 0h1.06v1.06h-1.06zM3 1h1.06v1.06h-1.06zM21 3h1.06v1.06h-1.06zM3 4h2.06v1.06h-2.06z" fill="#6a6a6a"/>
<path d="M3 2h1.06v1.06h-1.06zM-3 3h6.06v1.06h-6.06zM4 3h1.06v1.06h-1.06z" fill="#6c6c6c"/>
<path d="M3 3h1.06v1.06h-1.06z" fill="#6e6e6e"/>
<path d="M2 -3h1.06v1.06h-1.06zM22 -3h1.06v1.06h-1.06zM24 -3h3.06v1.06h-3.06zM2 -2h1.06v1.06h-1.06zM22 -2h1.06v1.06h-1.06zM24 -2h3.06v1.06h-3.06zM2 -1h1.06v1.06h-1.06zM22 -1h1.06v1.06h-1.06zM24 -1h3.06v1.06h-3.06zM22 0h1.06v1.06h-1.06zM24 0h3.06v1.06h-3.06zM2 1h1.06v1.06h-1.06zM22 1h1.06v1.06h-1.06zM24 1h3.06v1.06h-3.06zM2 2h1.06v1.06h-1.06zM22 2h1.06v1.06h-1.06zM25 2h2.06v1.06h-2.06zM22 4h1.06v1.06h-1.06zM24 4h3.06v1.06h-3.06z" fill="#707070"/>
<path d="M23 -3h1.06v1.06h-1.06zM23 -2h1.06v1.06h-1.06zM23 -1h1.06v1.06h-1.06zM2 0h1.06v1.06h-1.06zM23 0h1.06v1.06h-1.06zM23 1h1.06v1.06h-1.06zM-3 2h5.06v1.06h-5.06zM24 2h1.06v1.06h-1.06zM22 3h1.06v1.06h-1.06zM25 3h2.06v1.06h-2.06zM23 4h1.06v1.06h-1.06z" fill="#727272"/>
<path d="M-3 -3h2.06v1.06h-2.06zM1 -3h1.06v1.06h-1.06zM-3 -2h2.06v1.06h-2.06zM1 -2h1.06v1.06h-1.06zM-3 1h2.06v1.06h-2.06zM1 1h1.06v1.06h-1.06zM23 2h1.06v1.06h-1.06zM23 3h2.06v1.06h-2.06z" fill="#747474"/>
<path d="M-1 -3h2.06v1.06h-2.06zM-1 -2h2.06v1.06h-2.06zM-3 -1h5.06v1.06h-5.06zM-3 0h5.06v1.06h-5.06zM-1 1h2.06v1.06h-2.06z" fill="#767676"/>
</g></g></g>
<g clip-path="url(#cp13)"><g filter="url(#bl)"><g transform="translate(1525.1,1412.1) scale(13.99167,13.98333)">
<path d="M23 9h2.06v1.06h-2.06zM22 10h5.06v1.06h-5.06z" fill="#060606"/>
<path d="M10 5h1.06v1.06h-1.06zM10 6h1.06v1.06h-1.06zM10 7h2.06v1.06h-2.06zM11 8h2.06v1.06h-2.06zM23 8h1.06v1.06h-1.06zM12 9h2.06v1.06h-2.06zM22 9h1.06v1.06h-1.06zM25 9h2.06v1.06h-2.06zM21 10h1.06v1.06h-1.06zM22 11h5.06v1.06h-5.06zM0 14h1.06v1.06h-1.06zM23 16h1.06v1.06h-1.06zM23 17h1.06v1.06h-1.06zM23 18h1.06v1.06h-1.06zM23 19h1.06v1.06h-1.06z" fill="#080808"/>
<path d="M10 4h1.06v1.06h-1.06zM9 5h1.06v1.06h-1.06zM9 6h1.06v1.06h-1.06zM11 6h1.06v1.06h-1.06zM12 7h1.06v1.06h-1.06zM10 8h1.06v1.06h-1.06zM13 8h1.06v1.06h-1.06zM22 8h1.06v1.06h-1.06zM24 8h3.06v1.06h-3.06zM11 9h1.06v1.06h-1.06zM14 9h1.06v1.06h-1.06zM21 9h1.06v1.06h-1.06zM13 10h2.06v1.06h-2.06zM20 10h1.06v1.06h-1.06zM21 11h1.06v1.06h-1.06zM22 12h5.06v1.06h-5.06zM-3 13h5.06v1.06h-5.06zM-3 14h3.06v1.06h-3.06zM1 14h1.06v1.06h-1.06zM-1 15h2.06v1.06h-2.06zM23 15h2.06v1.06h-2.06zM0 16h1.06v1.06h-1.06zM22 16h1.06v1.06h-1.06zM24 16h3.06v1.06h-3.06zM22 17h1.06v1.06h-1.06zM24 17h3.06v1.06h-3.06zM22 18h1.06v1.06h-1.06zM24 18h3.06v1.06h-3.06zM22 19h1.06v1.06h-1.06zM24 19h3.06v1.06h-3.06zM22 20h5.06v1.06h-5.06zM22 21h5.06v1.06h-5.06zM22 22h5.06v1.06h-5.06zM22 23h5.06v1.06h-5.06zM22 24h5.06v1.06h-5.06zM22 25h5.06v1.06h-5.06zM22 26h5.06v1.06h-5.06z" fill="#0a0a0a"/>
<path d="M9 4h1.06v1.06h-1.06zM9 7h1.06v1.06h-1.06zM13 7h1.06v1.06h-1.06zM22 7h5.06v1.06h-5.06zM9 8h1.06v1.06h-1.06zM21 8h1.06v1.06h-1.06zM10 9h1.06v1.06h-1.06zM20 9h1.06v1.06h-1.06zM12 10h1.06v1.06h-1.06zM15 10h2.06v1.06h-2.06zM19 10h1.06v1.06h-1.06zM20 11h1.06v1.06h-1.06zM-3 12h5.06v1.06h-5.06zM22 13h5.06v1.06h-5.06zM22 14h5.06v1.06h-5.06zM-3 15h2.06v1.06h-2.06zM1 15h1.06v1.06h-1.06zM22 15h1.06v1.06h-1.06zM25 15h2.06v1.06h-2.06zM-3 16h3.06v1.06h-3.06zM1 16h1.06v1.06h-1.06zM-1 17h2.06v1.06h-2.06zM0 18h1.06v1.06h-1.06z" fill="#0c0c0c"/>
<path d="M11 5h1.06v1.06h-1.06zM12 6h1.06v1.06h-1.06zM14 8h1.06v1.06h-1.06zM9 9h1.06v1.06h-1.06zM15 9h1.06v1.06h-1.06zM19 9h1.06v1.06h-1.06zM11 10h1.06v1.06h-1.06zM17 10h2.06v1.06h-2.06zM21 12h1.06v1.06h-1.06zM-3 17h2.06v1.06h-2.06zM1 17h1.06v1.06h-1.06zM-3 18h3.06v1.06h-3.06zM1 18h1.06v1.06h-1.06zM-3 19h5.06v1.06h-5.06zM-3 20h5.06v1.06h-5.06zM-3 21h5.06v1.06h-5.06zM-3 22h5.06v1.06h-5.06zM-3 23h5.06v1.06h-5.06zM-3 24h5.06v1.06h-5.06zM-3 25h5.06v1.06h-5.06zM-3 26h5.06v1.06h-5.06z" fill="#0e0e0e"/>
<path d="M8 5h1.06v1.06h-1.06zM8 6h1.06v1.06h-1.06zM21 7h1.06v1.06h-1.06zM20 8h1.06v1.06h-1.06zM16 9h3.06v1.06h-3.06zM10 10h1.06v1.06h-1.06zM-3 11h5.06v1.06h-5.06zM14 11h6.06v1.06h-6.06zM2 13h1.06v1.06h-1.06zM21 13h1.06v1.06h-1.06zM21 19h1.06v1.06h-1.06zM21 20h1.06v1.06h-1.06zM21 21h1.06v1.06h-1.06zM21 22h1.06v1.06h-1.06zM21 23h1.06v1.06h-1.06zM21 24h1.06v1.06h-1.06zM21 25h1.06v1.06h-1.06zM21 26h1.06v1.06h-1.06z" fill="#101010"/>
<path d="M9 3h2.06v1.06h-2.06zM8 4h1.06v1.06h-1.06zM11 4h1.06v1.06h-1.06zM22 6h5.06v1.06h-5.06zM8 7h1.06v1.06h-1.06zM14 7h1.06v1.06h-1.06zM8 8h1.06v1.06h-1.06zM19 8h1.06v1.06h-1.06zM8 9h1.06v1.06h-1.06zM-1 10h2.06v1.06h-2.06zM9 10h1.06v1.06h-1.06zM2 11h1.06v1.06h-1.06zM13 11h1.06v1.06h-1.06zM2 12h1.06v1.06h-1.06zM20 12h1.06v1.06h-1.06zM2 14h1.06v1.06h-1.06zM21 14h1.06v1.06h-1.06zM2 15h1.06v1.06h-1.06zM21 15h1.06v1.06h-1.06zM21 16h1.06v1.06h-1.06zM21 17h1.06v1.06h-1.06zM21 18h1.06v1.06h-1.06z" fill="#121212"/>
<path d="M13 6h1.06v1.06h-1.06zM21 6h1.06v1.06h-1.06zM20 7h1.06v1.06h-1.06zM7 8h1.06v1.06h-1.06zM15 8h1.06v1.06h-1.06zM-3 9h5.06v1.06h-5.06zM6 9h2.06v1.06h-2.06zM-3 10h2.06v1.06h-2.06zM1 10h2.06v1.06h-2.06zM8 10h1.06v1.06h-1.06zM12 11h1.06v1.06h-1.06zM19 12h1.06v1.06h-1.06zM2 16h1.06v1.06h-1.06zM2 17h1.06v1.06h-1.06zM2 22h1.06v1.06h-1.06zM2 23h1.06v1.06h-1.06zM2 24h1.06v1.06h-1.06zM2 25h1.06v1.06h-1.06zM2 26h1.06v1.06h-1.06z" fill="#141414"/>
<path d="M23 -3h2.06v1.06h-2.06zM23 -2h2.06v1.06h-2.06zM-3 -1h5.06v1.06h-5.06zM23 -1h2.06v1.06h-2.06zM-3 0h6.06v1.06h-6.06zM22 0h5.06v1.06h-5.06zM23 1h2.06v1.06h-2.06zM8 3h1.06v1.06h-1.06zM7 5h1.06v1.06h-1.06zM12 5h1.06v1.06h-1.06zM7 6h1.06v1.06h-1.06zM6 7h2.06v1.06h-2.06zM-3 8h10.06v1.06h-10.06zM18 8h1.06v1.06h-1.06zM2 9h4.06v1.06h-4.06zM3 10h1.06v1.06h-1.06zM6 10h2.06v1.06h-2.06zM3 11h1.06v1.06h-1.06zM11 11h1.06v1.06h-1.06zM16 12h3.06v1.06h-3.06zM20 13h1.06v1.06h-1.06zM2 18h1.06v1.06h-1.06zM2 19h1.06v1.06h-1.06zM2 20h1.06v1.06h-1.06zM2 21h1.06v1.06h-1.06zM20 21h1.06v1.06h-1.06zM20 22h1.06v1.06h-1.06zM20 23h1.06v1.06h-1.06zM20 24h1.06v1.06h-1.06zM20 25h1.06v1.06h-1.06zM20 26h1.06v1.06h-1.06z" fill="#161616"/>
<path d="M-3 -3h7.06v1.06h-7.06zM22 -3h1.06v1.06h-1.06zM25 -3h2.06v1.06h-2.06zM-3 -2h7.06v1.06h-7.06zM22 -2h1.06v1.06h-1.06zM25 -2h2.06v1.06h-2.06zM2 -1h2.06v1.06h-2.06zM22 -1h1.06v1.06h-1.06zM25 -1h2.06v1.06h-2.06zM3 0h2.06v1.06h-2.06zM-3 1h7.06v1.06h-7.06zM22 1h1.06v1.06h-1.06zM25 1h2.06v1.06h-2.06zM9 2h1.06v1.06h-1.06zM7 3h1.06v1.06h-1.06zM11 3h1.06v1.06h-1.06zM7 4h1.06v1.06h-1.06zM23 5h1.06v1.06h-1.06zM6 6h1.06v1.06h-1.06zM20 6h1.06v1.06h-1.06zM-3 7h9.06v1.06h-9.06zM19 7h1.06v1.06h-1.06zM16 8h2.06v1.06h-2.06zM4 10h2.06v1.06h-2.06zM10 11h1.06v1.06h-1.06zM3 12h1.06v1.06h-1.06zM15 12h1.06v1.06h-1.06zM3 13h1.06v1.06h-1.06zM20 14h1.06v1.06h-1.06zM20 20h1.06v1.06h-1.06z" fill="#181818"/>
<path d="M4 -3h3.06v1.06h-3.06zM21 -3h1.06v1.06h-1.06zM4 -2h3.06v1.06h-3.06zM21 -2h1.06v1.06h-1.06zM4 -1h3.06v1.06h-3.06zM21 -1h1.06v1.06h-1.06zM5 0h2.06v1.06h-2.06zM21 0h1.06v1.06h-1.06zM4 1h3.06v1.06h-3.06zM21 1h1.06v1.06h-1.06zM6 2h3.06v1.06h-3.06zM10 2h1.06v1.06h-1.06zM22 2h5.06v1.06h-5.06zM6 5h1.06v1.06h-1.06zM21 5h2.06v1.06h-2.06zM24 5h3.06v1.06h-3.06zM4 6h2.06v1.06h-2.06zM14 6h1.06v1.06h-1.06zM15 7h1.06v1.06h-1.06zM18 7h1.06v1.06h-1.06zM4 11h2.06v1.06h-2.06zM7 11h3.06v1.06h-3.06zM14 12h1.06v1.06h-1.06zM19 13h1.06v1.06h-1.06zM3 14h1.06v1.06h-1.06zM20 19h1.06v1.06h-1.06z" fill="#1a1a1a"/>
<path d="M7 -3h2.06v1.06h-2.06zM7 -2h2.06v1.06h-2.06zM7 -1h2.06v1.06h-2.06zM7 0h1.06v1.06h-1.06zM7 1h2.06v1.06h-2.06zM-3 2h3.06v1.06h-3.06zM1 2h5.06v1.06h-5.06zM21 2h1.06v1.06h-1.06zM6 3h1.06v1.06h-1.06zM23 3h2.06v1.06h-2.06zM6 4h1.06v1.06h-1.06zM12 4h1.06v1.06h-1.06zM5 5h1.06v1.06h-1.06zM20 5h1.06v1.06h-1.06zM2 6h2.06v1.06h-2.06zM19 6h1.06v1.06h-1.06zM6 11h1.06v1.06h-1.06zM4 12h1.06v1.06h-1.06zM12 12h2.06v1.06h-2.06zM17 13h2.06v1.06h-2.06zM20 15h1.06v1.06h-1.06zM20 18h1.06v1.06h-1.06zM19 22h1.06v1.06h-1.06zM19 23h1.06v1.06h-1.06zM19 24h1.06v1.06h-1.06zM19 25h1.06v1.06h-1.06zM19 26h1.06v1.06h-1.06z" fill="#1c1c1c"/>
<path d="M9 -3h1.06v1.06h-1.06zM20 -3h1.06v1.06h-1.06zM9 -2h1.06v1.06h-1.06zM20 -2h1.06v1.06h-1.06zM9 -1h1.06v1.06h-1.06zM20 -1h1.06v1.06h-1.06zM8 0h2.06v1.06h-2.06zM20 0h1.06v1.06h-1.06zM9 1h1.06v1.06h-1.06zM20 1h1.06v1.06h-1.06zM0 2h1.06v1.06h-1.06zM11 2h1.06v1.06h-1.06zM5 3h1.06v1.06h-1.06zM21 3h2.06v1.06h-2.06zM25 3h2.06v1.06h-2.06zM5 4h1.06v1.06h-1.06zM21 4h6.06v1.06h-6.06zM13 5h1.06v1.06h-1.06zM-3 6h5.06v1.06h-5.06zM15 6h1.06v1.06h-1.06zM18 6h1.06v1.06h-1.06zM16 7h2.06v1.06h-2.06zM11 12h1.06v1.06h-1.06zM16 13h1.06v1.06h-1.06zM3 15h1.06v1.06h-1.06zM3 16h1.06v1.06h-1.06zM20 16h1.06v1.06h-1.06zM20 17h1.06v1.06h-1.06zM3 20h1.06v1.06h-1.06zM3 21h1.06v1.06h-1.06zM19 21h1.06v1.06h-1.06zM3 22h1.06v1.06h-1.06zM3 23h1.06v1.06h-1.06zM3 24h1.06v1.06h-1.06zM3 25h1.06v1.06h-1.06zM3 26h1.06v1.06h-1.06z" fill="#1e1e1e"/>
<path d="M10 -3h1.06v1.06h-1.06zM10 -2h1.06v1.06h-1.06zM10 -1h1.06v1.06h-1.06zM10 1h1.06v1.06h-1.06zM20 2h1.06v1.06h-1.06zM4 3h1.06v1.06h-1.06zM20 3h1.06v1.06h-1.06zM20 4h1.06v1.06h-1.06zM4 5h1.06v1.06h-1.06zM19 5h1.06v1.06h-1.06zM5 12h1.06v1.06h-1.06zM10 12h1.06v1.06h-1.06zM4 13h1.06v1.06h-1.06zM15 13h1.06v1.06h-1.06zM19 14h1.06v1.06h-1.06zM3 17h1.06v1.06h-1.06zM3 18h1.06v1.06h-1.06zM3 19h1.06v1.06h-1.06zM19 20h1.06v1.06h-1.06zM18 22h1.06v1.06h-1.06zM18 23h1.06v1.06h-1.06zM18 24h1.06v1.06h-1.06zM18 25h1.06v1.06h-1.06zM18 26h1.06v1.06h-1.06z" fill="#202020"/>
<path d="M19 -3h1.06v1.06h-1.06zM19 -2h1.06v1.06h-1.06zM19 -1h1.06v1.06h-1.06zM10 0h1.06v1.06h-1.06zM19 0h1.06v1.06h-1.06zM19 1h1.06v1.06h-1.06zM19 2h1.06v1.06h-1.06zM3 3h1.06v1.06h-1.06zM12 3h1.06v1.06h-1.06zM19 3h1.06v1.06h-1.06zM4 4h1.06v1.06h-1.06zM19 4h1.06v1.06h-1.06zM3 5h1.06v1.06h-1.06zM14 5h1.06v1.06h-1.06zM18 5h1.06v1.06h-1.06zM16 6h2.06v1.06h-2.06zM6 12h4.06v1.06h-4.06zM14 13h1.06v1.06h-1.06zM4 14h1.06v1.06h-1.06zM18 14h1.06v1.06h-1.06zM19 19h1.06v1.06h-1.06zM18 21h1.06v1.06h-1.06zM17 23h1.06v1.06h-1.06z" fill="#222222"/>
<path d="M11 -3h1.06v1.06h-1.06zM11 -2h1.06v1.06h-1.06zM11 -1h1.06v1.06h-1.06zM11 1h1.06v1.06h-1.06zM-3 3h6.06v1.06h-6.06zM3 4h1.06v1.06h-1.06zM18 4h1.06v1.06h-1.06zM-3 5h3.06v1.06h-3.06zM1 5h2.06v1.06h-2.06zM15 5h1.06v1.06h-1.06zM17 5h1.06v1.06h-1.06zM5 13h1.06v1.06h-1.06zM17 14h1.06v1.06h-1.06zM19 15h1.06v1.06h-1.06zM19 18h1.06v1.06h-1.06zM18 20h1.06v1.06h-1.06zM17 22h1.06v1.06h-1.06zM4 23h1.06v1.06h-1.06zM4 24h1.06v1.06h-1.06zM17 24h1.06v1.06h-1.06zM17 25h1.06v1.06h-1.06zM17 26h1.06v1.06h-1.06z" fill="#242424"/>
<path d="M18 -3h1.06v1.06h-1.06zM18 -2h1.06v1.06h-1.06zM18 -1h1.06v1.06h-1.06zM11 0h1.06v1.06h-1.06zM18 0h1.06v1.06h-1.06zM18 1h1.06v1.06h-1.06zM12 2h1.06v1.06h-1.06zM18 2h1.06v1.06h-1.06zM18 3h1.06v1.06h-1.06zM2 4h1.06v1.06h-1.06zM13 4h1.06v1.06h-1.06zM17 4h1.06v1.06h-1.06zM0 5h1.06v1.06h-1.06zM16 5h1.06v1.06h-1.06zM12 13h2.06v1.06h-2.06zM16 14h1.06v1.06h-1.06zM4 15h1.06v1.06h-1.06zM4 21h1.06v1.06h-1.06zM17 21h1.06v1.06h-1.06zM4 22h1.06v1.06h-1.06zM16 22h1.06v1.06h-1.06zM16 23h1.06v1.06h-1.06zM16 24h1.06v1.06h-1.06zM4 25h1.06v1.06h-1.06zM16 25h1.06v1.06h-1.06zM4 26h1.06v1.06h-1.06zM16 26h1.06v1.06h-1.06z" fill="#262626"/>
<path d="M12 -3h1.06v1.06h-1.06zM12 -2h1.06v1.06h-1.06zM12 1h1.06v1.06h-1.06zM17 3h1.06v1.06h-1.06zM-3 4h5.06v1.06h-5.06zM14 4h3.06v1.06h-3.06zM6 13h1.06v1.06h-1.06zM10 13h2.06v1.06h-2.06zM5 14h1.06v1.06h-1.06zM4 16h1.06v1.06h-1.06zM19 16h1.06v1.06h-1.06zM19 17h1.06v1.06h-1.06zM4 18h1.06v1.06h-1.06zM4 19h1.06v1.06h-1.06zM18 19h1.06v1.06h-1.06zM4 20h1.06v1.06h-1.06zM14 22h2.06v1.06h-2.06zM14 23h2.06v1.06h-2.06zM14 24h2.06v1.06h-2.06zM14 25h2.06v1.06h-2.06zM14 26h2.06v1.06h-2.06z" fill="#282828"/>
<path d="M17 -3h1.06v1.06h-1.06zM17 -2h1.06v1.06h-1.06zM12 -1h1.06v1.06h-1.06zM17 -1h1.06v1.06h-1.06zM12 0h1.06v1.06h-1.06zM17 0h1.06v1.06h-1.06zM17 1h1.06v1.06h-1.06zM17 2h1.06v1.06h-1.06zM13 3h1.06v1.06h-1.06zM16 3h1.06v1.06h-1.06zM7 13h3.06v1.06h-3.06zM15 14h1.06v1.06h-1.06zM18 15h1.06v1.06h-1.06zM4 17h1.06v1.06h-1.06zM17 20h1.06v1.06h-1.06zM16 21h1.06v1.06h-1.06zM13 22h1.06v1.06h-1.06zM13 23h1.06v1.06h-1.06zM13 24h1.06v1.06h-1.06zM13 25h1.06v1.06h-1.06zM13 26h1.06v1.06h-1.06z" fill="#2a2a2a"/>
<path d="M13 -3h1.06v1.06h-1.06zM16 -3h1.06v1.06h-1.06zM13 -2h1.06v1.06h-1.06zM16 -2h1.06v1.06h-1.06zM13 -1h1.06v1.06h-1.06zM16 -1h1.06v1.06h-1.06zM16 0h1.06v1.06h-1.06zM13 1h1.06v1.06h-1.06zM16 1h1.06v1.06h-1.06zM13 2h1.06v1.06h-1.06zM15 2h2.06v1.06h-2.06zM14 3h2.06v1.06h-2.06zM14 14h1.06v1.06h-1.06zM5 15h1.06v1.06h-1.06zM18 18h1.06v1.06h-1.06zM17 19h1.06v1.06h-1.06zM14 21h2.06v1.06h-2.06zM5 22h1.06v1.06h-1.06zM5 23h1.06v1.06h-1.06zM12 23h1.06v1.06h-1.06zM5 24h1.06v1.06h-1.06zM12 24h1.06v1.06h-1.06zM5 25h1.06v1.06h-1.06zM5 26h1.06v1.06h-1.06z" fill="#2c2c2c"/>
<path d="M14 -3h2.06v1.06h-2.06zM14 -2h2.06v1.06h-2.06zM14 -1h2.06v1.06h-2.06zM13 0h3.06v1.06h-3.06zM14 1h2.06v1.06h-2.06zM14 2h1.06v1.06h-1.06zM6 14h1.06v1.06h-1.06zM17 15h1.06v1.06h-1.06zM18 16h1.06v1.06h-1.06zM18 17h1.06v1.06h-1.06zM5 20h1.06v1.06h-1.06zM16 20h1.06v1.06h-1.06zM5 21h1.06v1.06h-1.06zM13 21h1.06v1.06h-1.06zM12 22h1.06v1.06h-1.06zM12 25h1.06v1.06h-1.06zM12 26h1.06v1.06h-1.06z" fill="#2e2e2e"/>
<path d="M7 14h1.06v1.06h-1.06zM9 14h5.06v1.06h-5.06zM16 15h1.06v1.06h-1.06zM5 16h1.06v1.06h-1.06zM5 17h1.06v1.06h-1.06zM5 18h1.06v1.06h-1.06zM17 18h1.06v1.06h-1.06zM5 19h1.06v1.06h-1.06zM16 19h1.06v1.06h-1.06zM15 20h1.06v1.06h-1.06zM11 22h1.06v1.06h-1.06zM11 23h1.06v1.06h-1.06zM11 24h1.06v1.06h-1.06zM11 25h1.06v1.06h-1.06zM11 26h1.06v1.06h-1.06z" fill="#303030"/>
<path d="M8 14h1.06v1.06h-1.06zM6 15h1.06v1.06h-1.06zM14 20h1.06v1.06h-1.06zM12 21h1.06v1.06h-1.06zM6 22h1.06v1.06h-1.06zM10 22h1.06v1.06h-1.06zM6 23h1.06v1.06h-1.06zM10 23h1.06v1.06h-1.06zM6 24h1.06v1.06h-1.06zM10 24h1.06v1.06h-1.06zM6 25h1.06v1.06h-1.06zM10 25h1.06v1.06h-1.06zM6 26h1.06v1.06h-1.06zM10 26h1.06v1.06h-1.06z" fill="#323232"/>
<path d="M15 15h1.06v1.06h-1.06zM17 16h1.06v1.06h-1.06zM17 17h1.06v1.06h-1.06zM16 18h1.06v1.06h-1.06zM15 19h1.06v1.06h-1.06zM6 20h1.06v1.06h-1.06zM13 20h1.06v1.06h-1.06zM6 21h1.06v1.06h-1.06zM11 21h1.06v1.06h-1.06zM9 23h1.06v1.06h-1.06z" fill="#343434"/>
<path d="M7 15h1.06v1.06h-1.06zM6 16h1.06v1.06h-1.06zM6 17h1.06v1.06h-1.06zM6 18h1.06v1.06h-1.06zM6 19h1.06v1.06h-1.06zM14 19h1.06v1.06h-1.06zM9 22h1.06v1.06h-1.06zM7 23h1.06v1.06h-1.06zM9 24h1.06v1.06h-1.06zM9 25h1.06v1.06h-1.06zM9 26h1.06v1.06h-1.06z" fill="#363636"/>
<path d="M8 15h4.06v1.06h-4.06zM14 15h1.06v1.06h-1.06zM16 16h1.06v1.06h-1.06zM16 17h1.06v1.06h-1.06zM15 18h1.06v1.06h-1.06zM12 20h1.06v1.06h-1.06zM7 21h1.06v1.06h-1.06zM9 21h2.06v1.06h-2.06zM7 22h2.06v1.06h-2.06zM8 23h1.06v1.06h-1.06zM7 24h2.06v1.06h-2.06zM7 25h2.06v1.06h-2.06zM7 26h2.06v1.06h-2.06z" fill="#383838"/>
<path d="M12 15h2.06v1.06h-2.06zM7 16h1.06v1.06h-1.06zM15 16h1.06v1.06h-1.06zM14 18h1.06v1.06h-1.06zM7 19h1.06v1.06h-1.06zM13 19h1.06v1.06h-1.06zM7 20h1.06v1.06h-1.06zM8 21h1.06v1.06h-1.06z" fill="#3a3a3a"/>
<path d="M8 16h1.06v1.06h-1.06zM7 17h1.06v1.06h-1.06zM15 17h1.06v1.06h-1.06zM7 18h1.06v1.06h-1.06zM12 19h1.06v1.06h-1.06zM8 20h1.06v1.06h-1.06zM11 20h1.06v1.06h-1.06z" fill="#3c3c3c"/>
<path d="M9 16h3.06v1.06h-3.06zM14 16h1.06v1.06h-1.06zM8 17h1.06v1.06h-1.06zM14 17h1.06v1.06h-1.06zM8 18h1.06v1.06h-1.06zM13 18h1.06v1.06h-1.06zM8 19h1.06v1.06h-1.06zM9 20h2.06v1.06h-2.06z" fill="#3e3e3e"/>
<path d="M12 16h2.06v1.06h-2.06zM9 17h2.06v1.06h-2.06zM13 17h1.06v1.06h-1.06zM12 18h1.06v1.06h-1.06zM9 19h1.06v1.06h-1.06zM11 19h1.06v1.06h-1.06z" fill="#404040"/>
<path d="M11 17h2.06v1.06h-2.06zM9 18h3.06v1.06h-3.06zM10 19h1.06v1.06h-1.06z" fill="#424242"/>
</g></g></g>
<g transform="translate(493.0,1067.9) scale(5.26250,5.24531)" shape-rendering="crispEdges">
<rect width="64" height="64" fill="#484848"/>
<path d="M43 11h1v1h-1zM42 15h1v1h-1zM54 23h1v1h-1zM52 25h1v1h-1zM57 25h1v1h-1zM13 28h1v1h-1zM45 30h1v1h-1zM30 36h1v1h-1zM47 37h1v1h-1zM54 38h1v1h-1z" fill="#0c0c0c"/>
<path d="M43 12h1v1h-1zM18 13h1v1h-1zM16 27h1v1h-1zM36 27h1v1h-1zM34 29h1v1h-1zM34 30h1v1h-1zM50 31h1v1h-1zM52 33h1v1h-1zM44 34h1v1h-1zM49 35h1v1h-1zM16 40h1v1h-1zM26 40h1v1h-1zM18 44h1v1h-1zM37 55h1v1h-1zM33 57h1v1h-1z" fill="#121212"/>
<path d="M16 12h1v1h-1zM42 12h1v1h-1zM55 16h1v1h-1zM12 19h1v1h-1zM43 20h1v1h-1zM47 20h1v1h-1zM28 21h1v1h-1zM10 25h1v1h-1zM26 26h1v1h-1zM5 34h1v1h-1zM44 36h1v1h-1zM8 39h1v1h-1zM9 40h1v1h-1zM49 40h1v1h-1zM28 43h1v1h-1zM21 46h1v1h-1zM53 46h1v1h-1zM29 47h1v1h-1zM35 55h1v1h-1z" fill="#181818"/>
<path d="M58 8h1v1h-1zM7 11h1v1h-1zM33 11h1v1h-1zM22 14h1v1h-1zM37 14h1v1h-1zM41 15h1v1h-1zM45 15h1v1h-1zM48 15h1v1h-1zM52 15h1v1h-1zM57 15h1v1h-1zM20 16h1v1h-1zM48 17h1v1h-1zM16 18h1v1h-1zM38 20h1v1h-1zM29 21h1v1h-1zM21 23h1v1h-1zM5 24h1v1h-1zM22 24h1v1h-1zM25 24h1v1h-1zM29 24h1v1h-1zM28 25h1v1h-1zM40 26h1v1h-1zM49 27h1v1h-1zM33 28h1v1h-1zM31 29h1v1h-1zM15 31h1v1h-1zM45 32h1v1h-1zM43 33h1v1h-1zM6 37h1v1h-1zM23 37h1v1h-1zM34 37h1v1h-1zM55 37h1v1h-1zM56 37h1v1h-1zM11 38h1v1h-1zM51 38h1v1h-1zM33 41h1v1h-1zM55 42h1v1h-1zM9 43h1v1h-1zM46 44h1v1h-1zM53 45h1v1h-1zM7 46h1v1h-1zM13 52h1v1h-1zM14 52h1v1h-1zM41 53h1v1h-1zM23 54h1v1h-1zM56 54h1v1h-1zM12 57h1v1h-1zM33 58h1v1h-1z" fill="#1e1e1e"/>
<path d="M37 3h1v1h-1zM7 4h1v1h-1zM51 5h1v1h-1zM23 6h1v1h-1zM45 6h1v1h-1zM13 7h1v1h-1zM25 7h1v1h-1zM35 7h1v1h-1zM46 8h1v1h-1zM53 9h1v1h-1zM5 10h1v1h-1zM23 10h1v1h-1zM16 11h1v1h-1zM25 11h1v1h-1zM31 11h1v1h-1zM36 11h1v1h-1zM51 12h1v1h-1zM12 13h1v1h-1zM44 14h1v1h-1zM15 16h1v1h-1zM16 16h1v1h-1zM5 17h1v1h-1zM15 17h1v1h-1zM46 17h1v1h-1zM58 17h1v1h-1zM7 18h1v1h-1zM47 18h1v1h-1zM54 18h1v1h-1zM28 19h1v1h-1zM30 19h1v1h-1zM54 19h1v1h-1zM23 20h1v1h-1zM47 22h1v1h-1zM53 22h1v1h-1zM24 23h1v1h-1zM26 24h1v1h-1zM43 24h1v1h-1zM29 25h1v1h-1zM32 25h1v1h-1zM25 26h1v1h-1zM35 26h1v1h-1zM38 26h1v1h-1zM41 26h1v1h-1zM12 27h1v1h-1zM31 27h1v1h-1zM7 29h1v1h-1zM13 29h1v1h-1zM21 29h1v1h-1zM10 30h1v1h-1zM29 30h1v1h-1zM6 31h1v1h-1zM16 31h1v1h-1zM39 32h1v1h-1zM57 33h1v1h-1zM37 34h1v1h-1zM49 34h1v1h-1zM53 34h1v1h-1zM17 37h1v1h-1zM21 37h1v1h-1zM35 37h1v1h-1zM46 39h1v1h-1zM33 40h1v1h-1zM37 40h1v1h-1zM21 41h1v1h-1zM27 41h1v1h-1zM42 41h1v1h-1zM54 41h1v1h-1zM12 42h1v1h-1zM14 42h1v1h-1zM30 43h1v1h-1zM50 44h1v1h-1zM51 45h1v1h-1zM40 46h1v1h-1zM43 46h1v1h-1zM6 47h1v1h-1zM26 47h1v1h-1zM48 47h1v1h-1zM50 47h1v1h-1zM17 49h1v1h-1zM29 49h1v1h-1zM26 50h1v1h-1zM37 50h1v1h-1zM17 51h1v1h-1zM31 51h1v1h-1zM11 53h1v1h-1zM18 53h1v1h-1zM24 53h1v1h-1zM28 53h1v1h-1zM31 54h1v1h-1zM51 54h1v1h-1zM31 55h1v1h-1zM31 56h1v1h-1zM48 58h1v1h-1zM12 59h1v1h-1zM55 60h1v1h-1z" fill="#242424"/>
<path d="M29 2h1v1h-1zM27 3h1v1h-1zM41 4h1v1h-1zM23 5h1v1h-1zM48 6h1v1h-1zM50 6h1v1h-1zM41 7h1v1h-1zM20 8h1v1h-1zM32 8h1v1h-1zM8 9h1v1h-1zM23 9h1v1h-1zM27 9h1v1h-1zM28 9h1v1h-1zM46 9h1v1h-1zM31 10h1v1h-1zM33 10h1v1h-1zM22 11h1v1h-1zM29 11h1v1h-1zM58 11h1v1h-1zM24 12h1v1h-1zM32 12h1v1h-1zM35 12h1v1h-1zM21 13h1v1h-1zM38 13h1v1h-1zM53 13h1v1h-1zM5 14h1v1h-1zM25 14h1v1h-1zM46 14h1v1h-1zM15 15h1v1h-1zM36 15h1v1h-1zM38 15h1v1h-1zM39 15h1v1h-1zM50 15h1v1h-1zM13 16h1v1h-1zM33 16h1v1h-1zM43 16h1v1h-1zM28 17h1v1h-1zM52 17h1v1h-1zM14 18h1v1h-1zM28 18h1v1h-1zM58 18h1v1h-1zM7 19h1v1h-1zM25 19h1v1h-1zM42 20h1v1h-1zM46 20h1v1h-1zM34 21h1v1h-1zM35 21h1v1h-1zM36 21h1v1h-1zM7 22h1v1h-1zM12 22h1v1h-1zM17 22h1v1h-1zM31 22h1v1h-1zM39 22h1v1h-1zM51 22h1v1h-1zM60 22h1v1h-1zM16 23h1v1h-1zM25 23h1v1h-1zM29 23h1v1h-1zM6 24h1v1h-1zM42 24h1v1h-1zM44 24h1v1h-1zM55 24h1v1h-1zM2 25h1v1h-1zM31 25h1v1h-1zM37 25h1v1h-1zM39 25h1v1h-1zM42 25h1v1h-1zM48 25h1v1h-1zM58 25h1v1h-1zM12 26h1v1h-1zM21 26h1v1h-1zM47 26h1v1h-1zM27 27h1v1h-1zM11 28h1v1h-1zM16 28h1v1h-1zM28 28h1v1h-1zM29 28h1v1h-1zM42 28h1v1h-1zM20 29h1v1h-1zM30 29h1v1h-1zM44 29h1v1h-1zM43 30h1v1h-1zM44 30h1v1h-1zM18 31h1v1h-1zM28 31h1v1h-1zM30 31h1v1h-1zM34 31h1v1h-1zM46 31h1v1h-1zM48 31h1v1h-1zM13 32h1v1h-1zM15 32h1v1h-1zM40 32h1v1h-1zM43 32h1v1h-1zM44 32h1v1h-1zM50 32h1v1h-1zM17 33h1v1h-1zM27 33h1v1h-1zM30 33h1v1h-1zM39 33h1v1h-1zM46 33h1v1h-1zM39 34h1v1h-1zM32 35h1v1h-1zM35 35h1v1h-1zM50 35h1v1h-1zM14 36h1v1h-1zM56 36h1v1h-1zM53 37h1v1h-1zM22 38h1v1h-1zM26 38h1v1h-1zM46 38h1v1h-1zM49 38h1v1h-1zM50 38h1v1h-1zM18 39h1v1h-1zM20 39h1v1h-1zM23 39h1v1h-1zM36 39h1v1h-1zM38 39h1v1h-1zM12 40h1v1h-1zM39 40h1v1h-1zM42 40h1v1h-1zM9 41h1v1h-1zM44 41h1v1h-1zM23 42h1v1h-1zM42 43h1v1h-1zM50 43h1v1h-1zM2 44h1v1h-1zM29 44h1v1h-1zM18 47h1v1h-1zM23 47h1v1h-1zM57 48h1v1h-1zM15 49h1v1h-1zM27 49h1v1h-1zM6 50h1v1h-1zM8 50h1v1h-1zM23 50h1v1h-1zM25 50h1v1h-1zM32 50h1v1h-1zM51 50h1v1h-1zM36 51h1v1h-1zM15 52h1v1h-1zM23 53h1v1h-1zM34 53h1v1h-1zM55 53h1v1h-1zM34 54h1v1h-1zM47 54h1v1h-1zM58 55h1v1h-1zM23 56h1v1h-1zM53 56h1v1h-1zM48 57h1v1h-1zM22 58h1v1h-1zM47 58h1v1h-1z" fill="#2a2a2a"/>
<path d="M39 2h1v1h-1zM43 2h1v1h-1zM20 3h1v1h-1zM35 3h1v1h-1zM30 4h1v1h-1zM31 4h1v1h-1zM48 4h1v1h-1zM56 4h1v1h-1zM4 5h1v1h-1zM36 5h1v1h-1zM40 6h1v1h-1zM4 7h1v1h-1zM23 7h1v1h-1zM39 7h1v1h-1zM43 7h1v1h-1zM51 7h1v1h-1zM12 8h1v1h-1zM21 8h1v1h-1zM37 8h1v1h-1zM54 8h1v1h-1zM15 9h1v1h-1zM35 9h1v1h-1zM57 9h1v1h-1zM12 10h1v1h-1zM26 10h1v1h-1zM37 10h1v1h-1zM41 10h1v1h-1zM51 10h1v1h-1zM53 10h1v1h-1zM39 11h1v1h-1zM11 12h1v1h-1zM23 12h1v1h-1zM41 12h1v1h-1zM56 12h1v1h-1zM14 13h1v1h-1zM26 13h1v1h-1zM34 13h1v1h-1zM43 13h1v1h-1zM47 13h1v1h-1zM57 13h1v1h-1zM10 14h1v1h-1zM15 14h1v1h-1zM29 14h1v1h-1zM30 14h1v1h-1zM54 14h1v1h-1zM59 14h1v1h-1zM16 15h1v1h-1zM26 15h1v1h-1zM28 15h1v1h-1zM46 15h1v1h-1zM49 15h1v1h-1zM14 16h1v1h-1zM21 16h1v1h-1zM34 16h1v1h-1zM14 17h1v1h-1zM16 17h1v1h-1zM19 17h1v1h-1zM32 17h1v1h-1zM39 17h1v1h-1zM54 17h1v1h-1zM57 17h1v1h-1zM4 18h1v1h-1zM15 18h1v1h-1zM17 18h1v1h-1zM22 18h1v1h-1zM31 18h1v1h-1zM36 18h1v1h-1zM37 18h1v1h-1zM22 19h1v1h-1zM27 19h1v1h-1zM49 19h1v1h-1zM21 20h1v1h-1zM28 20h1v1h-1zM39 20h1v1h-1zM52 20h1v1h-1zM7 21h1v1h-1zM16 21h1v1h-1zM23 21h1v1h-1zM30 21h1v1h-1zM33 21h1v1h-1zM41 21h1v1h-1zM58 21h1v1h-1zM41 22h1v1h-1zM43 22h1v1h-1zM44 22h1v1h-1zM48 22h1v1h-1zM14 24h1v1h-1zM35 24h1v1h-1zM38 24h1v1h-1zM40 24h1v1h-1zM24 25h1v1h-1zM25 25h1v1h-1zM43 25h1v1h-1zM46 25h1v1h-1zM47 25h1v1h-1zM49 25h1v1h-1zM9 26h1v1h-1zM27 26h1v1h-1zM56 26h1v1h-1zM14 27h1v1h-1zM18 27h1v1h-1zM34 27h1v1h-1zM41 27h1v1h-1zM46 27h1v1h-1zM50 27h1v1h-1zM56 27h1v1h-1zM12 28h1v1h-1zM39 28h1v1h-1zM52 28h1v1h-1zM18 29h1v1h-1zM36 29h1v1h-1zM39 29h1v1h-1zM40 29h1v1h-1zM42 29h1v1h-1zM50 29h1v1h-1zM17 30h1v1h-1zM19 30h1v1h-1zM25 30h1v1h-1zM26 30h1v1h-1zM35 30h1v1h-1zM39 30h1v1h-1zM49 30h1v1h-1zM51 30h1v1h-1zM52 30h1v1h-1zM2 31h1v1h-1zM12 31h1v1h-1zM14 31h1v1h-1zM29 31h1v1h-1zM33 31h1v1h-1zM39 31h1v1h-1zM42 31h1v1h-1zM51 31h1v1h-1zM17 32h1v1h-1zM23 32h1v1h-1zM26 32h1v1h-1zM41 32h1v1h-1zM47 32h1v1h-1zM54 32h1v1h-1zM22 33h1v1h-1zM36 33h1v1h-1zM41 33h1v1h-1zM47 33h1v1h-1zM48 33h1v1h-1zM49 33h1v1h-1zM14 34h1v1h-1zM17 34h1v1h-1zM25 34h1v1h-1zM54 34h1v1h-1zM58 34h1v1h-1zM60 34h1v1h-1zM8 35h1v1h-1zM17 35h1v1h-1zM53 35h1v1h-1zM19 36h1v1h-1zM20 36h1v1h-1zM22 36h1v1h-1zM27 36h1v1h-1zM35 36h1v1h-1zM46 36h1v1h-1zM8 37h1v1h-1zM27 37h1v1h-1zM32 37h1v1h-1zM12 38h1v1h-1zM29 38h1v1h-1zM36 38h1v1h-1zM40 38h1v1h-1zM15 39h1v1h-1zM44 39h1v1h-1zM51 39h1v1h-1zM11 40h1v1h-1zM34 40h1v1h-1zM47 40h1v1h-1zM52 40h1v1h-1zM2 41h1v1h-1zM16 41h1v1h-1zM37 41h1v1h-1zM40 41h1v1h-1zM8 42h1v1h-1zM15 42h1v1h-1zM39 42h1v1h-1zM40 42h1v1h-1zM43 42h1v1h-1zM44 42h1v1h-1zM45 42h1v1h-1zM47 42h1v1h-1zM50 42h1v1h-1zM52 42h1v1h-1zM19 43h1v1h-1zM29 43h1v1h-1zM32 43h1v1h-1zM37 43h1v1h-1zM40 43h1v1h-1zM57 43h1v1h-1zM35 44h1v1h-1zM38 44h1v1h-1zM47 44h1v1h-1zM60 44h1v1h-1zM13 45h1v1h-1zM24 45h1v1h-1zM28 45h1v1h-1zM38 45h1v1h-1zM42 45h1v1h-1zM44 45h1v1h-1zM57 45h1v1h-1zM6 46h1v1h-1zM49 46h1v1h-1zM5 47h1v1h-1zM19 47h1v1h-1zM27 47h1v1h-1zM28 47h1v1h-1zM38 47h1v1h-1zM42 47h1v1h-1zM43 47h1v1h-1zM52 47h1v1h-1zM13 48h1v1h-1zM29 48h1v1h-1zM45 48h1v1h-1zM12 49h1v1h-1zM18 49h1v1h-1zM22 49h1v1h-1zM30 49h1v1h-1zM56 49h1v1h-1zM57 49h1v1h-1zM30 50h1v1h-1zM35 50h1v1h-1zM44 50h1v1h-1zM6 51h1v1h-1zM32 51h1v1h-1zM5 52h1v1h-1zM25 52h1v1h-1zM44 52h1v1h-1zM46 52h1v1h-1zM9 53h1v1h-1zM16 53h1v1h-1zM25 53h1v1h-1zM8 54h1v1h-1zM29 54h1v1h-1zM9 55h1v1h-1zM16 55h1v1h-1zM22 55h1v1h-1zM33 55h1v1h-1zM47 55h1v1h-1zM51 55h1v1h-1zM4 56h1v1h-1zM6 56h1v1h-1zM25 56h1v1h-1zM27 56h1v1h-1zM55 56h1v1h-1zM17 57h1v1h-1zM6 58h1v1h-1zM3 59h1v1h-1zM11 59h1v1h-1zM15 59h1v1h-1zM24 59h1v1h-1zM29 59h1v1h-1zM35 60h1v1h-1zM56 60h1v1h-1zM44 61h1v1h-1z" fill="#303030"/>
<path d="M4 2h1v1h-1zM10 3h1v1h-1zM11 3h1v1h-1zM19 4h1v1h-1zM20 4h1v1h-1zM22 4h1v1h-1zM35 4h1v1h-1zM43 4h1v1h-1zM7 5h1v1h-1zM19 5h1v1h-1zM30 5h1v1h-1zM38 5h1v1h-1zM42 5h1v1h-1zM8 6h1v1h-1zM17 6h1v1h-1zM19 6h1v1h-1zM26 6h1v1h-1zM37 6h1v1h-1zM44 6h1v1h-1zM56 6h1v1h-1zM8 7h1v1h-1zM17 7h1v1h-1zM26 7h1v1h-1zM27 7h1v1h-1zM28 7h1v1h-1zM29 7h1v1h-1zM37 7h1v1h-1zM50 7h1v1h-1zM55 7h1v1h-1zM57 7h1v1h-1zM36 8h1v1h-1zM10 9h1v1h-1zM12 9h1v1h-1zM19 9h1v1h-1zM29 9h1v1h-1zM31 9h1v1h-1zM48 9h1v1h-1zM15 10h1v1h-1zM35 10h1v1h-1zM44 10h1v1h-1zM46 10h1v1h-1zM18 11h1v1h-1zM27 11h1v1h-1zM40 11h1v1h-1zM48 11h1v1h-1zM17 12h1v1h-1zM18 12h1v1h-1zM26 12h1v1h-1zM29 12h1v1h-1zM4 13h1v1h-1zM25 13h1v1h-1zM27 13h1v1h-1zM31 13h1v1h-1zM32 13h1v1h-1zM33 13h1v1h-1zM52 13h1v1h-1zM14 14h1v1h-1zM18 14h1v1h-1zM36 14h1v1h-1zM40 14h1v1h-1zM41 14h1v1h-1zM45 14h1v1h-1zM48 14h1v1h-1zM56 14h1v1h-1zM13 15h1v1h-1zM14 15h1v1h-1zM24 15h1v1h-1zM29 15h1v1h-1zM33 15h1v1h-1zM35 15h1v1h-1zM59 15h1v1h-1zM40 16h1v1h-1zM44 16h1v1h-1zM46 16h1v1h-1zM51 16h1v1h-1zM52 16h1v1h-1zM11 17h1v1h-1zM23 17h1v1h-1zM30 17h1v1h-1zM33 17h1v1h-1zM50 17h1v1h-1zM29 18h1v1h-1zM50 18h1v1h-1zM10 19h1v1h-1zM14 19h1v1h-1zM40 19h1v1h-1zM45 19h1v1h-1zM18 20h1v1h-1zM26 20h1v1h-1zM31 20h1v1h-1zM32 20h1v1h-1zM49 20h1v1h-1zM10 21h1v1h-1zM17 21h1v1h-1zM38 21h1v1h-1zM53 21h1v1h-1zM60 21h1v1h-1zM14 22h1v1h-1zM22 22h1v1h-1zM35 22h1v1h-1zM49 22h1v1h-1zM5 23h1v1h-1zM18 23h1v1h-1zM28 23h1v1h-1zM31 23h1v1h-1zM35 23h1v1h-1zM36 23h1v1h-1zM40 23h1v1h-1zM42 23h1v1h-1zM43 23h1v1h-1zM46 23h1v1h-1zM51 23h1v1h-1zM58 23h1v1h-1zM33 24h1v1h-1zM39 24h1v1h-1zM46 24h1v1h-1zM49 24h1v1h-1zM53 24h1v1h-1zM15 25h1v1h-1zM26 25h1v1h-1zM27 25h1v1h-1zM36 25h1v1h-1zM38 25h1v1h-1zM40 25h1v1h-1zM55 25h1v1h-1zM5 26h1v1h-1zM15 26h1v1h-1zM29 26h1v1h-1zM30 26h1v1h-1zM57 26h1v1h-1zM7 27h1v1h-1zM22 27h1v1h-1zM24 27h1v1h-1zM26 27h1v1h-1zM29 27h1v1h-1zM32 27h1v1h-1zM38 27h1v1h-1zM40 27h1v1h-1zM42 27h1v1h-1zM45 27h1v1h-1zM51 27h1v1h-1zM5 28h1v1h-1zM25 28h1v1h-1zM46 28h1v1h-1zM55 28h1v1h-1zM4 29h1v1h-1zM28 29h1v1h-1zM33 29h1v1h-1zM54 29h1v1h-1zM56 29h1v1h-1zM59 29h1v1h-1zM6 30h1v1h-1zM7 30h1v1h-1zM35 31h1v1h-1zM43 31h1v1h-1zM53 31h1v1h-1zM54 31h1v1h-1zM19 32h1v1h-1zM20 32h1v1h-1zM37 32h1v1h-1zM20 33h1v1h-1zM24 33h1v1h-1zM28 33h1v1h-1zM7 34h1v1h-1zM46 34h1v1h-1zM40 35h1v1h-1zM43 35h1v1h-1zM46 35h1v1h-1zM4 36h1v1h-1zM12 36h1v1h-1zM13 36h1v1h-1zM29 36h1v1h-1zM36 36h1v1h-1zM42 36h1v1h-1zM52 36h1v1h-1zM53 36h1v1h-1zM7 37h1v1h-1zM12 37h1v1h-1zM20 37h1v1h-1zM25 37h1v1h-1zM37 37h1v1h-1zM43 37h1v1h-1zM57 37h1v1h-1zM3 38h1v1h-1zM5 38h1v1h-1zM10 38h1v1h-1zM39 38h1v1h-1zM55 38h1v1h-1zM3 39h1v1h-1zM5 39h1v1h-1zM19 39h1v1h-1zM22 39h1v1h-1zM32 39h1v1h-1zM35 39h1v1h-1zM52 39h1v1h-1zM54 39h1v1h-1zM4 40h1v1h-1zM7 40h1v1h-1zM10 40h1v1h-1zM17 40h1v1h-1zM18 40h1v1h-1zM23 40h1v1h-1zM24 40h1v1h-1zM57 40h1v1h-1zM11 41h1v1h-1zM45 41h1v1h-1zM22 42h1v1h-1zM28 42h1v1h-1zM48 42h1v1h-1zM5 43h1v1h-1zM6 43h1v1h-1zM11 43h1v1h-1zM16 43h1v1h-1zM33 43h1v1h-1zM43 43h1v1h-1zM8 44h1v1h-1zM9 44h1v1h-1zM12 44h1v1h-1zM15 44h1v1h-1zM17 44h1v1h-1zM23 44h1v1h-1zM32 44h1v1h-1zM33 44h1v1h-1zM52 44h1v1h-1zM37 45h1v1h-1zM52 45h1v1h-1zM61 45h1v1h-1zM2 46h1v1h-1zM25 46h1v1h-1zM28 46h1v1h-1zM39 46h1v1h-1zM44 46h1v1h-1zM46 46h1v1h-1zM22 47h1v1h-1zM25 47h1v1h-1zM32 47h1v1h-1zM33 47h1v1h-1zM54 47h1v1h-1zM4 48h1v1h-1zM9 48h1v1h-1zM26 48h1v1h-1zM27 48h1v1h-1zM32 48h1v1h-1zM33 48h1v1h-1zM34 48h1v1h-1zM42 48h1v1h-1zM13 49h1v1h-1zM20 49h1v1h-1zM28 49h1v1h-1zM48 49h1v1h-1zM52 49h1v1h-1zM11 50h1v1h-1zM46 50h1v1h-1zM49 50h1v1h-1zM59 50h1v1h-1zM11 51h1v1h-1zM34 51h1v1h-1zM39 51h1v1h-1zM11 52h1v1h-1zM29 52h1v1h-1zM51 52h1v1h-1zM52 52h1v1h-1zM5 53h1v1h-1zM13 53h1v1h-1zM15 53h1v1h-1zM36 53h1v1h-1zM43 53h1v1h-1zM5 54h1v1h-1zM32 54h1v1h-1zM45 54h1v1h-1zM5 55h1v1h-1zM19 55h1v1h-1zM23 55h1v1h-1zM30 55h1v1h-1zM40 55h1v1h-1zM41 55h1v1h-1zM43 55h1v1h-1zM36 56h1v1h-1zM37 56h1v1h-1zM7 57h1v1h-1zM26 57h1v1h-1zM38 57h1v1h-1zM46 57h1v1h-1zM16 58h1v1h-1zM30 58h1v1h-1zM43 59h1v1h-1zM49 59h1v1h-1zM59 59h1v1h-1zM6 60h1v1h-1z" fill="#363636"/>
<path d="M32 2h1v1h-1zM34 2h1v1h-1zM41 2h1v1h-1zM48 2h1v1h-1zM9 3h1v1h-1zM55 3h1v1h-1zM4 4h1v1h-1zM5 4h1v1h-1zM21 4h1v1h-1zM32 4h1v1h-1zM42 4h1v1h-1zM50 4h1v1h-1zM16 5h1v1h-1zM17 5h1v1h-1zM28 5h1v1h-1zM45 5h1v1h-1zM52 5h1v1h-1zM10 6h1v1h-1zM12 6h1v1h-1zM16 6h1v1h-1zM21 6h1v1h-1zM25 6h1v1h-1zM39 6h1v1h-1zM12 7h1v1h-1zM24 7h1v1h-1zM40 7h1v1h-1zM46 7h1v1h-1zM54 7h1v1h-1zM56 7h1v1h-1zM58 7h1v1h-1zM19 8h1v1h-1zM31 8h1v1h-1zM34 8h1v1h-1zM38 8h1v1h-1zM13 9h1v1h-1zM24 9h1v1h-1zM26 9h1v1h-1zM40 9h1v1h-1zM41 9h1v1h-1zM42 9h1v1h-1zM47 9h1v1h-1zM6 10h1v1h-1zM13 10h1v1h-1zM14 10h1v1h-1zM17 10h1v1h-1zM22 10h1v1h-1zM28 10h1v1h-1zM30 10h1v1h-1zM38 10h1v1h-1zM57 10h1v1h-1zM60 10h1v1h-1zM2 11h1v1h-1zM12 11h1v1h-1zM13 11h1v1h-1zM21 11h1v1h-1zM24 11h1v1h-1zM35 11h1v1h-1zM37 11h1v1h-1zM42 11h1v1h-1zM44 11h1v1h-1zM55 11h1v1h-1zM59 11h1v1h-1zM8 12h1v1h-1zM15 12h1v1h-1zM25 12h1v1h-1zM28 12h1v1h-1zM34 12h1v1h-1zM38 12h1v1h-1zM55 12h1v1h-1zM24 13h1v1h-1zM36 13h1v1h-1zM42 13h1v1h-1zM45 13h1v1h-1zM46 13h1v1h-1zM49 13h1v1h-1zM6 14h1v1h-1zM35 14h1v1h-1zM55 14h1v1h-1zM12 15h1v1h-1zM19 15h1v1h-1zM25 15h1v1h-1zM27 15h1v1h-1zM30 15h1v1h-1zM31 15h1v1h-1zM32 15h1v1h-1zM51 15h1v1h-1zM6 16h1v1h-1zM30 16h1v1h-1zM36 16h1v1h-1zM37 16h1v1h-1zM49 16h1v1h-1zM24 17h1v1h-1zM31 17h1v1h-1zM34 17h1v1h-1zM40 17h1v1h-1zM53 17h1v1h-1zM12 18h1v1h-1zM24 18h1v1h-1zM38 18h1v1h-1zM17 19h1v1h-1zM20 19h1v1h-1zM21 19h1v1h-1zM43 19h1v1h-1zM46 19h1v1h-1zM48 19h1v1h-1zM57 19h1v1h-1zM6 20h1v1h-1zM10 20h1v1h-1zM14 20h1v1h-1zM16 20h1v1h-1zM19 20h1v1h-1zM20 20h1v1h-1zM22 20h1v1h-1zM34 20h1v1h-1zM41 20h1v1h-1zM50 20h1v1h-1zM51 20h1v1h-1zM56 20h1v1h-1zM18 21h1v1h-1zM24 21h1v1h-1zM43 21h1v1h-1zM46 21h1v1h-1zM52 21h1v1h-1zM56 21h1v1h-1zM9 22h1v1h-1zM20 22h1v1h-1zM23 22h1v1h-1zM36 22h1v1h-1zM40 22h1v1h-1zM42 22h1v1h-1zM50 22h1v1h-1zM57 22h1v1h-1zM10 23h1v1h-1zM17 23h1v1h-1zM22 23h1v1h-1zM27 23h1v1h-1zM37 23h1v1h-1zM38 23h1v1h-1zM41 23h1v1h-1zM9 24h1v1h-1zM16 24h1v1h-1zM21 24h1v1h-1zM23 24h1v1h-1zM31 24h1v1h-1zM34 24h1v1h-1zM37 24h1v1h-1zM57 24h1v1h-1zM6 25h1v1h-1zM16 25h1v1h-1zM19 25h1v1h-1zM23 25h1v1h-1zM33 25h1v1h-1zM44 25h1v1h-1zM45 25h1v1h-1zM51 25h1v1h-1zM16 26h1v1h-1zM50 26h1v1h-1zM52 26h1v1h-1zM54 26h1v1h-1zM55 26h1v1h-1zM8 27h1v1h-1zM30 27h1v1h-1zM59 27h1v1h-1zM61 27h1v1h-1zM7 28h1v1h-1zM24 28h1v1h-1zM30 28h1v1h-1zM32 28h1v1h-1zM43 28h1v1h-1zM60 28h1v1h-1zM35 29h1v1h-1zM38 29h1v1h-1zM51 29h1v1h-1zM8 30h1v1h-1zM20 30h1v1h-1zM36 30h1v1h-1zM37 30h1v1h-1zM40 30h1v1h-1zM41 30h1v1h-1zM42 30h1v1h-1zM47 30h1v1h-1zM37 31h1v1h-1zM38 31h1v1h-1zM40 31h1v1h-1zM58 31h1v1h-1zM7 32h1v1h-1zM10 32h1v1h-1zM11 32h1v1h-1zM16 32h1v1h-1zM22 32h1v1h-1zM27 32h1v1h-1zM28 32h1v1h-1zM32 32h1v1h-1zM34 32h1v1h-1zM42 32h1v1h-1zM58 32h1v1h-1zM11 33h1v1h-1zM18 33h1v1h-1zM23 33h1v1h-1zM26 33h1v1h-1zM33 33h1v1h-1zM53 33h1v1h-1zM8 34h1v1h-1zM16 34h1v1h-1zM28 34h1v1h-1zM30 34h1v1h-1zM34 34h1v1h-1zM36 34h1v1h-1zM50 34h1v1h-1zM56 34h1v1h-1zM59 34h1v1h-1zM7 35h1v1h-1zM19 35h1v1h-1zM20 35h1v1h-1zM22 35h1v1h-1zM26 35h1v1h-1zM28 35h1v1h-1zM33 35h1v1h-1zM37 35h1v1h-1zM47 35h1v1h-1zM59 35h1v1h-1zM6 36h1v1h-1zM16 36h1v1h-1zM25 36h1v1h-1zM31 36h1v1h-1zM32 36h1v1h-1zM34 36h1v1h-1zM37 36h1v1h-1zM39 36h1v1h-1zM4 37h1v1h-1zM10 37h1v1h-1zM19 37h1v1h-1zM22 37h1v1h-1zM48 37h1v1h-1zM49 37h1v1h-1zM51 37h1v1h-1zM58 37h1v1h-1zM59 37h1v1h-1zM15 38h1v1h-1zM17 38h1v1h-1zM19 38h1v1h-1zM20 38h1v1h-1zM27 38h1v1h-1zM53 38h1v1h-1zM56 38h1v1h-1zM14 39h1v1h-1zM28 39h1v1h-1zM50 39h1v1h-1zM56 39h1v1h-1zM57 39h1v1h-1zM60 39h1v1h-1zM25 40h1v1h-1zM36 40h1v1h-1zM43 40h1v1h-1zM48 40h1v1h-1zM4 41h1v1h-1zM8 41h1v1h-1zM31 41h1v1h-1zM36 41h1v1h-1zM39 41h1v1h-1zM52 41h1v1h-1zM57 41h1v1h-1zM24 42h1v1h-1zM26 42h1v1h-1zM34 42h1v1h-1zM46 42h1v1h-1zM3 43h1v1h-1zM26 43h1v1h-1zM27 43h1v1h-1zM41 43h1v1h-1zM46 43h1v1h-1zM47 43h1v1h-1zM52 43h1v1h-1zM54 43h1v1h-1zM55 43h1v1h-1zM7 44h1v1h-1zM13 44h1v1h-1zM34 44h1v1h-1zM44 44h1v1h-1zM9 45h1v1h-1zM30 45h1v1h-1zM32 45h1v1h-1zM33 45h1v1h-1zM10 46h1v1h-1zM13 46h1v1h-1zM14 46h1v1h-1zM15 46h1v1h-1zM16 46h1v1h-1zM27 46h1v1h-1zM29 46h1v1h-1zM34 46h1v1h-1zM37 46h1v1h-1zM51 46h1v1h-1zM7 47h1v1h-1zM16 47h1v1h-1zM30 47h1v1h-1zM21 48h1v1h-1zM41 48h1v1h-1zM51 48h1v1h-1zM61 48h1v1h-1zM5 49h1v1h-1zM24 49h1v1h-1zM37 49h1v1h-1zM38 49h1v1h-1zM18 50h1v1h-1zM29 50h1v1h-1zM34 50h1v1h-1zM25 51h1v1h-1zM40 51h1v1h-1zM49 51h1v1h-1zM52 51h1v1h-1zM57 51h1v1h-1zM8 52h1v1h-1zM21 52h1v1h-1zM35 52h1v1h-1zM40 52h1v1h-1zM50 52h1v1h-1zM6 53h1v1h-1zM14 53h1v1h-1zM49 53h1v1h-1zM10 54h1v1h-1zM11 54h1v1h-1zM27 54h1v1h-1zM36 54h1v1h-1zM43 54h1v1h-1zM8 55h1v1h-1zM12 55h1v1h-1zM24 55h1v1h-1zM25 55h1v1h-1zM32 55h1v1h-1zM55 55h1v1h-1zM12 56h1v1h-1zM16 56h1v1h-1zM40 56h1v1h-1zM50 56h1v1h-1zM18 57h1v1h-1zM20 57h1v1h-1zM22 57h1v1h-1zM39 57h1v1h-1zM50 57h1v1h-1zM61 57h1v1h-1zM3 58h1v1h-1zM58 58h1v1h-1zM21 59h1v1h-1zM45 59h1v1h-1zM36 60h1v1h-1zM57 60h1v1h-1zM6 61h1v1h-1zM19 61h1v1h-1zM40 61h1v1h-1zM53 61h1v1h-1z" fill="#3c3c3c"/>
<path d="M18 2h1v1h-1zM23 2h1v1h-1zM47 2h1v1h-1zM54 2h1v1h-1zM19 3h1v1h-1zM30 3h1v1h-1zM40 3h1v1h-1zM44 3h1v1h-1zM45 3h1v1h-1zM46 3h1v1h-1zM9 4h1v1h-1zM10 4h1v1h-1zM15 4h1v1h-1zM27 4h1v1h-1zM39 4h1v1h-1zM53 4h1v1h-1zM57 4h1v1h-1zM9 5h1v1h-1zM14 5h1v1h-1zM20 5h1v1h-1zM29 5h1v1h-1zM31 5h1v1h-1zM39 5h1v1h-1zM41 5h1v1h-1zM31 6h1v1h-1zM57 6h1v1h-1zM58 6h1v1h-1zM6 7h1v1h-1zM20 7h1v1h-1zM31 7h1v1h-1zM32 7h1v1h-1zM34 7h1v1h-1zM44 7h1v1h-1zM45 7h1v1h-1zM2 8h1v1h-1zM3 8h1v1h-1zM8 8h1v1h-1zM13 8h1v1h-1zM15 8h1v1h-1zM28 8h1v1h-1zM29 8h1v1h-1zM33 8h1v1h-1zM40 8h1v1h-1zM42 8h1v1h-1zM49 8h1v1h-1zM51 8h1v1h-1zM6 9h1v1h-1zM17 9h1v1h-1zM18 9h1v1h-1zM30 9h1v1h-1zM32 9h1v1h-1zM37 9h1v1h-1zM38 9h1v1h-1zM43 9h1v1h-1zM52 9h1v1h-1zM59 9h1v1h-1zM24 10h1v1h-1zM42 10h1v1h-1zM17 11h1v1h-1zM23 11h1v1h-1zM12 12h1v1h-1zM19 12h1v1h-1zM31 12h1v1h-1zM44 12h1v1h-1zM49 12h1v1h-1zM54 12h1v1h-1zM8 13h1v1h-1zM23 13h1v1h-1zM29 13h1v1h-1zM30 13h1v1h-1zM40 13h1v1h-1zM2 14h1v1h-1zM8 14h1v1h-1zM13 14h1v1h-1zM17 14h1v1h-1zM23 14h1v1h-1zM57 14h1v1h-1zM61 14h1v1h-1zM5 15h1v1h-1zM6 15h1v1h-1zM11 15h1v1h-1zM18 15h1v1h-1zM37 15h1v1h-1zM40 15h1v1h-1zM54 15h1v1h-1zM56 15h1v1h-1zM8 16h1v1h-1zM26 16h1v1h-1zM27 16h1v1h-1zM28 16h1v1h-1zM31 16h1v1h-1zM45 16h1v1h-1zM4 17h1v1h-1zM6 17h1v1h-1zM10 17h1v1h-1zM20 17h1v1h-1zM38 17h1v1h-1zM44 17h1v1h-1zM45 17h1v1h-1zM51 17h1v1h-1zM61 17h1v1h-1zM13 18h1v1h-1zM21 18h1v1h-1zM30 18h1v1h-1zM35 18h1v1h-1zM53 18h1v1h-1zM11 19h1v1h-1zM32 19h1v1h-1zM36 19h1v1h-1zM38 19h1v1h-1zM50 19h1v1h-1zM56 19h1v1h-1zM58 19h1v1h-1zM8 20h1v1h-1zM9 20h1v1h-1zM15 20h1v1h-1zM35 20h1v1h-1zM37 20h1v1h-1zM60 20h1v1h-1zM6 21h1v1h-1zM8 21h1v1h-1zM9 21h1v1h-1zM21 21h1v1h-1zM42 21h1v1h-1zM49 21h1v1h-1zM55 21h1v1h-1zM2 22h1v1h-1zM4 22h1v1h-1zM6 22h1v1h-1zM13 22h1v1h-1zM16 22h1v1h-1zM18 22h1v1h-1zM25 22h1v1h-1zM30 22h1v1h-1zM34 22h1v1h-1zM38 22h1v1h-1zM56 22h1v1h-1zM61 22h1v1h-1zM13 23h1v1h-1zM14 23h1v1h-1zM30 23h1v1h-1zM32 23h1v1h-1zM39 23h1v1h-1zM44 23h1v1h-1zM49 23h1v1h-1zM8 24h1v1h-1zM19 24h1v1h-1zM20 24h1v1h-1zM36 24h1v1h-1zM52 24h1v1h-1zM54 24h1v1h-1zM56 24h1v1h-1zM14 25h1v1h-1zM54 25h1v1h-1zM56 25h1v1h-1zM10 26h1v1h-1zM22 26h1v1h-1zM28 26h1v1h-1zM31 26h1v1h-1zM33 26h1v1h-1zM51 26h1v1h-1zM17 27h1v1h-1zM20 27h1v1h-1zM33 27h1v1h-1zM35 27h1v1h-1zM43 27h1v1h-1zM58 27h1v1h-1zM4 28h1v1h-1zM9 28h1v1h-1zM20 28h1v1h-1zM37 28h1v1h-1zM41 28h1v1h-1zM53 28h1v1h-1zM56 28h1v1h-1zM8 29h1v1h-1zM12 29h1v1h-1zM17 29h1v1h-1zM43 29h1v1h-1zM52 29h1v1h-1zM4 30h1v1h-1zM11 30h1v1h-1zM14 30h1v1h-1zM48 30h1v1h-1zM50 30h1v1h-1zM57 30h1v1h-1zM61 30h1v1h-1zM3 31h1v1h-1zM7 31h1v1h-1zM10 31h1v1h-1zM11 31h1v1h-1zM17 31h1v1h-1zM24 31h1v1h-1zM57 31h1v1h-1zM5 32h1v1h-1zM24 32h1v1h-1zM25 32h1v1h-1zM46 32h1v1h-1zM57 32h1v1h-1zM9 33h1v1h-1zM10 33h1v1h-1zM15 33h1v1h-1zM19 33h1v1h-1zM21 33h1v1h-1zM25 33h1v1h-1zM29 33h1v1h-1zM31 33h1v1h-1zM45 33h1v1h-1zM51 33h1v1h-1zM61 33h1v1h-1zM12 34h1v1h-1zM15 34h1v1h-1zM22 34h1v1h-1zM24 34h1v1h-1zM26 34h1v1h-1zM32 34h1v1h-1zM42 34h1v1h-1zM13 35h1v1h-1zM34 35h1v1h-1zM38 35h1v1h-1zM45 36h1v1h-1zM47 36h1v1h-1zM49 36h1v1h-1zM50 36h1v1h-1zM13 37h1v1h-1zM28 37h1v1h-1zM31 37h1v1h-1zM46 37h1v1h-1zM50 37h1v1h-1zM6 38h1v1h-1zM23 38h1v1h-1zM28 38h1v1h-1zM32 38h1v1h-1zM35 38h1v1h-1zM42 38h1v1h-1zM45 38h1v1h-1zM48 38h1v1h-1zM6 39h1v1h-1zM11 39h1v1h-1zM29 39h1v1h-1zM33 39h1v1h-1zM37 39h1v1h-1zM45 39h1v1h-1zM48 39h1v1h-1zM58 39h1v1h-1zM8 40h1v1h-1zM22 40h1v1h-1zM38 40h1v1h-1zM40 40h1v1h-1zM45 40h1v1h-1zM50 40h1v1h-1zM53 40h1v1h-1zM58 40h1v1h-1zM3 41h1v1h-1zM12 41h1v1h-1zM14 41h1v1h-1zM15 41h1v1h-1zM22 41h1v1h-1zM28 41h1v1h-1zM30 41h1v1h-1zM47 41h1v1h-1zM9 42h1v1h-1zM30 42h1v1h-1zM32 42h1v1h-1zM36 42h1v1h-1zM41 42h1v1h-1zM51 42h1v1h-1zM53 42h1v1h-1zM61 42h1v1h-1zM15 43h1v1h-1zM17 43h1v1h-1zM21 43h1v1h-1zM23 43h1v1h-1zM53 43h1v1h-1zM11 44h1v1h-1zM16 44h1v1h-1zM31 44h1v1h-1zM43 44h1v1h-1zM53 44h1v1h-1zM15 45h1v1h-1zM25 45h1v1h-1zM29 45h1v1h-1zM31 45h1v1h-1zM34 45h1v1h-1zM41 45h1v1h-1zM47 45h1v1h-1zM48 45h1v1h-1zM50 45h1v1h-1zM3 46h1v1h-1zM11 46h1v1h-1zM22 46h1v1h-1zM24 46h1v1h-1zM30 46h1v1h-1zM31 46h1v1h-1zM33 46h1v1h-1zM36 46h1v1h-1zM38 46h1v1h-1zM48 46h1v1h-1zM50 46h1v1h-1zM58 46h1v1h-1zM61 46h1v1h-1zM8 47h1v1h-1zM10 47h1v1h-1zM11 47h1v1h-1zM17 47h1v1h-1zM20 47h1v1h-1zM36 47h1v1h-1zM39 47h1v1h-1zM45 47h1v1h-1zM46 47h1v1h-1zM49 47h1v1h-1zM18 48h1v1h-1zM19 48h1v1h-1zM54 48h1v1h-1zM58 48h1v1h-1zM3 49h1v1h-1zM4 49h1v1h-1zM6 49h1v1h-1zM9 49h1v1h-1zM32 49h1v1h-1zM43 49h1v1h-1zM44 49h1v1h-1zM55 49h1v1h-1zM21 50h1v1h-1zM28 50h1v1h-1zM31 50h1v1h-1zM33 50h1v1h-1zM43 50h1v1h-1zM47 50h1v1h-1zM7 51h1v1h-1zM15 51h1v1h-1zM19 51h1v1h-1zM30 51h1v1h-1zM38 51h1v1h-1zM41 51h1v1h-1zM44 51h1v1h-1zM6 52h1v1h-1zM17 52h1v1h-1zM22 52h1v1h-1zM32 52h1v1h-1zM37 52h1v1h-1zM56 52h1v1h-1zM17 53h1v1h-1zM19 53h1v1h-1zM21 53h1v1h-1zM40 53h1v1h-1zM47 53h1v1h-1zM52 53h1v1h-1zM3 54h1v1h-1zM19 54h1v1h-1zM28 54h1v1h-1zM35 54h1v1h-1zM48 54h1v1h-1zM49 54h1v1h-1zM50 54h1v1h-1zM53 54h1v1h-1zM61 54h1v1h-1zM3 55h1v1h-1zM26 55h1v1h-1zM28 55h1v1h-1zM29 55h1v1h-1zM38 55h1v1h-1zM14 56h1v1h-1zM18 56h1v1h-1zM20 56h1v1h-1zM24 56h1v1h-1zM48 56h1v1h-1zM13 57h1v1h-1zM15 57h1v1h-1zM21 57h1v1h-1zM24 57h1v1h-1zM28 57h1v1h-1zM34 57h1v1h-1zM52 57h1v1h-1zM59 57h1v1h-1zM14 58h1v1h-1zM31 58h1v1h-1zM32 58h1v1h-1zM35 58h1v1h-1zM59 58h1v1h-1zM10 59h1v1h-1zM17 59h1v1h-1zM3 60h1v1h-1zM12 60h1v1h-1zM27 60h1v1h-1zM34 60h1v1h-1zM58 60h1v1h-1zM59 60h1v1h-1zM45 61h1v1h-1z" fill="#424242"/>
<path d="M49 1h1v1h-1zM5 2h1v1h-1zM6 2h1v1h-1zM7 2h1v1h-1zM22 2h1v1h-1zM52 2h1v1h-1zM53 2h1v1h-1zM55 2h1v1h-1zM8 3h1v1h-1zM38 3h1v1h-1zM49 3h1v1h-1zM53 3h1v1h-1zM54 3h1v1h-1zM60 3h1v1h-1zM2 4h1v1h-1zM11 4h1v1h-1zM13 4h1v1h-1zM14 4h1v1h-1zM16 4h1v1h-1zM59 4h1v1h-1zM12 5h1v1h-1zM53 5h1v1h-1zM58 5h1v1h-1zM59 5h1v1h-1zM14 6h1v1h-1zM20 6h1v1h-1zM30 6h1v1h-1zM35 6h1v1h-1zM52 6h1v1h-1zM53 6h1v1h-1zM54 6h1v1h-1zM55 6h1v1h-1zM14 7h1v1h-1zM36 7h1v1h-1zM52 7h1v1h-1zM4 8h1v1h-1zM7 8h1v1h-1zM9 8h1v1h-1zM24 8h1v1h-1zM26 8h1v1h-1zM35 8h1v1h-1zM55 8h1v1h-1zM60 8h1v1h-1zM2 9h1v1h-1zM4 9h1v1h-1zM9 9h1v1h-1zM25 9h1v1h-1zM54 9h1v1h-1zM58 9h1v1h-1zM1 10h1v1h-1zM2 10h1v1h-1zM4 10h1v1h-1zM7 10h1v1h-1zM10 10h1v1h-1zM21 10h1v1h-1zM25 10h1v1h-1zM45 10h1v1h-1zM47 10h1v1h-1zM48 10h1v1h-1zM5 11h1v1h-1zM19 11h1v1h-1zM28 11h1v1h-1zM57 11h1v1h-1zM2 12h1v1h-1zM3 12h1v1h-1zM10 12h1v1h-1zM21 12h1v1h-1zM39 12h1v1h-1zM40 12h1v1h-1zM52 12h1v1h-1zM53 12h1v1h-1zM57 12h1v1h-1zM61 12h1v1h-1zM11 13h1v1h-1zM17 13h1v1h-1zM19 13h1v1h-1zM20 13h1v1h-1zM35 13h1v1h-1zM37 13h1v1h-1zM41 13h1v1h-1zM54 13h1v1h-1zM20 14h1v1h-1zM21 14h1v1h-1zM24 14h1v1h-1zM38 14h1v1h-1zM42 14h1v1h-1zM22 15h1v1h-1zM23 15h1v1h-1zM47 15h1v1h-1zM55 15h1v1h-1zM11 16h1v1h-1zM24 16h1v1h-1zM25 16h1v1h-1zM29 16h1v1h-1zM48 16h1v1h-1zM50 16h1v1h-1zM56 16h1v1h-1zM13 17h1v1h-1zM21 17h1v1h-1zM36 17h1v1h-1zM42 17h1v1h-1zM59 17h1v1h-1zM2 18h1v1h-1zM6 18h1v1h-1zM33 18h1v1h-1zM34 18h1v1h-1zM43 18h1v1h-1zM44 18h1v1h-1zM46 18h1v1h-1zM51 18h1v1h-1zM56 18h1v1h-1zM6 19h1v1h-1zM13 19h1v1h-1zM15 19h1v1h-1zM24 19h1v1h-1zM26 19h1v1h-1zM33 19h1v1h-1zM53 19h1v1h-1zM11 20h1v1h-1zM12 20h1v1h-1zM33 20h1v1h-1zM40 20h1v1h-1zM53 20h1v1h-1zM55 20h1v1h-1zM2 21h1v1h-1zM11 21h1v1h-1zM19 21h1v1h-1zM31 21h1v1h-1zM40 21h1v1h-1zM44 21h1v1h-1zM45 21h1v1h-1zM47 21h1v1h-1zM48 21h1v1h-1zM51 21h1v1h-1zM57 21h1v1h-1zM59 21h1v1h-1zM15 22h1v1h-1zM19 22h1v1h-1zM27 22h1v1h-1zM28 22h1v1h-1zM29 22h1v1h-1zM54 22h1v1h-1zM58 22h1v1h-1zM59 22h1v1h-1zM2 23h1v1h-1zM7 23h1v1h-1zM12 23h1v1h-1zM19 23h1v1h-1zM20 23h1v1h-1zM26 23h1v1h-1zM50 23h1v1h-1zM52 23h1v1h-1zM55 23h1v1h-1zM59 23h1v1h-1zM10 24h1v1h-1zM18 24h1v1h-1zM28 24h1v1h-1zM32 24h1v1h-1zM47 24h1v1h-1zM48 24h1v1h-1zM50 24h1v1h-1zM51 24h1v1h-1zM18 25h1v1h-1zM21 25h1v1h-1zM30 25h1v1h-1zM53 25h1v1h-1zM6 26h1v1h-1zM19 26h1v1h-1zM32 26h1v1h-1zM53 26h1v1h-1zM58 26h1v1h-1zM15 27h1v1h-1zM28 27h1v1h-1zM37 27h1v1h-1zM48 27h1v1h-1zM55 27h1v1h-1zM18 28h1v1h-1zM22 28h1v1h-1zM23 28h1v1h-1zM26 28h1v1h-1zM34 28h1v1h-1zM35 28h1v1h-1zM40 28h1v1h-1zM58 28h1v1h-1zM3 29h1v1h-1zM14 29h1v1h-1zM24 29h1v1h-1zM41 29h1v1h-1zM47 29h1v1h-1zM53 29h1v1h-1zM55 29h1v1h-1zM12 30h1v1h-1zM18 30h1v1h-1zM54 30h1v1h-1zM55 30h1v1h-1zM22 31h1v1h-1zM25 31h1v1h-1zM27 31h1v1h-1zM31 31h1v1h-1zM36 31h1v1h-1zM45 31h1v1h-1zM49 31h1v1h-1zM6 32h1v1h-1zM8 32h1v1h-1zM29 32h1v1h-1zM30 32h1v1h-1zM31 32h1v1h-1zM33 32h1v1h-1zM49 32h1v1h-1zM3 33h1v1h-1zM8 33h1v1h-1zM35 33h1v1h-1zM54 33h1v1h-1zM58 33h1v1h-1zM59 33h1v1h-1zM21 34h1v1h-1zM33 34h1v1h-1zM35 34h1v1h-1zM41 34h1v1h-1zM43 34h1v1h-1zM47 34h1v1h-1zM52 34h1v1h-1zM3 35h1v1h-1zM12 35h1v1h-1zM24 35h1v1h-1zM29 35h1v1h-1zM30 35h1v1h-1zM31 35h1v1h-1zM45 35h1v1h-1zM48 35h1v1h-1zM52 35h1v1h-1zM56 35h1v1h-1zM58 35h1v1h-1zM5 36h1v1h-1zM21 36h1v1h-1zM24 36h1v1h-1zM33 36h1v1h-1zM38 36h1v1h-1zM57 36h1v1h-1zM59 36h1v1h-1zM60 36h1v1h-1zM5 37h1v1h-1zM15 37h1v1h-1zM39 37h1v1h-1zM42 37h1v1h-1zM44 37h1v1h-1zM54 37h1v1h-1zM21 38h1v1h-1zM41 38h1v1h-1zM44 38h1v1h-1zM47 38h1v1h-1zM52 38h1v1h-1zM58 38h1v1h-1zM7 39h1v1h-1zM9 39h1v1h-1zM13 39h1v1h-1zM40 39h1v1h-1zM41 39h1v1h-1zM55 39h1v1h-1zM3 40h1v1h-1zM13 40h1v1h-1zM28 40h1v1h-1zM31 40h1v1h-1zM44 40h1v1h-1zM7 41h1v1h-1zM10 41h1v1h-1zM18 41h1v1h-1zM19 41h1v1h-1zM23 41h1v1h-1zM26 41h1v1h-1zM38 41h1v1h-1zM43 41h1v1h-1zM46 41h1v1h-1zM60 41h1v1h-1zM61 41h1v1h-1zM16 42h1v1h-1zM29 42h1v1h-1zM37 42h1v1h-1zM38 42h1v1h-1zM49 42h1v1h-1zM54 42h1v1h-1zM57 42h1v1h-1zM2 43h1v1h-1zM4 43h1v1h-1zM13 43h1v1h-1zM20 43h1v1h-1zM24 43h1v1h-1zM31 43h1v1h-1zM34 43h1v1h-1zM44 43h1v1h-1zM58 43h1v1h-1zM6 44h1v1h-1zM10 44h1v1h-1zM14 44h1v1h-1zM24 44h1v1h-1zM37 44h1v1h-1zM45 44h1v1h-1zM48 44h1v1h-1zM6 45h1v1h-1zM10 45h1v1h-1zM16 45h1v1h-1zM17 45h1v1h-1zM19 45h1v1h-1zM20 45h1v1h-1zM23 45h1v1h-1zM40 45h1v1h-1zM54 45h1v1h-1zM5 46h1v1h-1zM18 46h1v1h-1zM26 46h1v1h-1zM45 46h1v1h-1zM47 46h1v1h-1zM52 46h1v1h-1zM54 46h1v1h-1zM56 46h1v1h-1zM57 46h1v1h-1zM9 47h1v1h-1zM15 47h1v1h-1zM21 47h1v1h-1zM40 47h1v1h-1zM56 47h1v1h-1zM60 47h1v1h-1zM2 48h1v1h-1zM7 48h1v1h-1zM10 48h1v1h-1zM11 48h1v1h-1zM15 48h1v1h-1zM36 48h1v1h-1zM39 49h1v1h-1zM42 49h1v1h-1zM46 49h1v1h-1zM53 49h1v1h-1zM2 50h1v1h-1zM5 50h1v1h-1zM16 50h1v1h-1zM19 50h1v1h-1zM36 50h1v1h-1zM38 50h1v1h-1zM39 50h1v1h-1zM40 50h1v1h-1zM45 50h1v1h-1zM57 50h1v1h-1zM58 50h1v1h-1zM3 51h1v1h-1zM10 51h1v1h-1zM20 51h1v1h-1zM21 51h1v1h-1zM33 51h1v1h-1zM37 51h1v1h-1zM47 51h1v1h-1zM58 51h1v1h-1zM42 52h1v1h-1zM55 52h1v1h-1zM58 52h1v1h-1zM60 52h1v1h-1zM10 53h1v1h-1zM27 53h1v1h-1zM51 53h1v1h-1zM53 53h1v1h-1zM6 54h1v1h-1zM9 54h1v1h-1zM14 54h1v1h-1zM16 54h1v1h-1zM22 54h1v1h-1zM25 54h1v1h-1zM57 54h1v1h-1zM59 54h1v1h-1zM6 55h1v1h-1zM13 55h1v1h-1zM21 55h1v1h-1zM27 55h1v1h-1zM57 55h1v1h-1zM8 56h1v1h-1zM11 56h1v1h-1zM29 56h1v1h-1zM9 57h1v1h-1zM36 57h1v1h-1zM37 57h1v1h-1zM42 57h1v1h-1zM44 57h1v1h-1zM45 57h1v1h-1zM47 57h1v1h-1zM55 57h1v1h-1zM56 57h1v1h-1zM5 58h1v1h-1zM21 58h1v1h-1zM26 58h1v1h-1zM28 58h1v1h-1zM43 58h1v1h-1zM55 58h1v1h-1zM18 59h1v1h-1zM23 59h1v1h-1zM30 59h1v1h-1zM9 60h1v1h-1zM13 60h1v1h-1zM15 60h1v1h-1zM21 60h1v1h-1zM28 60h1v1h-1zM30 60h1v1h-1zM39 60h1v1h-1zM45 60h1v1h-1zM60 60h1v1h-1zM3 61h1v1h-1zM11 61h1v1h-1zM12 61h1v1h-1zM14 61h1v1h-1zM32 61h1v1h-1zM34 61h1v1h-1zM36 61h1v1h-1zM37 61h1v1h-1zM38 61h1v1h-1zM39 61h1v1h-1zM47 61h1v1h-1zM49 61h1v1h-1zM50 61h1v1h-1z" fill="#4e4e4e"/>
<path d="M40 1h1v1h-1zM9 2h1v1h-1zM12 2h1v1h-1zM16 2h1v1h-1zM17 2h1v1h-1zM21 2h1v1h-1zM38 2h1v1h-1zM7 3h1v1h-1zM12 3h1v1h-1zM13 3h1v1h-1zM16 3h1v1h-1zM42 3h1v1h-1zM51 3h1v1h-1zM59 3h1v1h-1zM24 4h1v1h-1zM60 4h1v1h-1zM61 4h1v1h-1zM10 5h1v1h-1zM24 5h1v1h-1zM54 5h1v1h-1zM56 5h1v1h-1zM7 6h1v1h-1zM24 6h1v1h-1zM28 6h1v1h-1zM36 6h1v1h-1zM42 6h1v1h-1zM46 6h1v1h-1zM5 7h1v1h-1zM19 7h1v1h-1zM6 8h1v1h-1zM23 8h1v1h-1zM25 8h1v1h-1zM30 8h1v1h-1zM44 8h1v1h-1zM56 8h1v1h-1zM5 9h1v1h-1zM39 9h1v1h-1zM45 9h1v1h-1zM49 9h1v1h-1zM51 9h1v1h-1zM56 9h1v1h-1zM20 10h1v1h-1zM34 10h1v1h-1zM39 10h1v1h-1zM43 10h1v1h-1zM52 10h1v1h-1zM54 10h1v1h-1zM56 10h1v1h-1zM59 10h1v1h-1zM61 10h1v1h-1zM4 11h1v1h-1zM9 11h1v1h-1zM26 11h1v1h-1zM30 11h1v1h-1zM32 11h1v1h-1zM47 11h1v1h-1zM50 11h1v1h-1zM53 11h1v1h-1zM4 12h1v1h-1zM14 12h1v1h-1zM30 12h1v1h-1zM46 12h1v1h-1zM9 13h1v1h-1zM10 13h1v1h-1zM16 13h1v1h-1zM22 13h1v1h-1zM39 13h1v1h-1zM56 13h1v1h-1zM58 13h1v1h-1zM59 13h1v1h-1zM3 14h1v1h-1zM4 14h1v1h-1zM7 14h1v1h-1zM11 14h1v1h-1zM16 14h1v1h-1zM26 14h1v1h-1zM28 14h1v1h-1zM31 14h1v1h-1zM32 14h1v1h-1zM33 14h1v1h-1zM34 14h1v1h-1zM49 14h1v1h-1zM4 15h1v1h-1zM8 15h1v1h-1zM17 15h1v1h-1zM21 15h1v1h-1zM44 15h1v1h-1zM53 15h1v1h-1zM60 15h1v1h-1zM3 16h1v1h-1zM5 16h1v1h-1zM17 16h1v1h-1zM23 16h1v1h-1zM41 16h1v1h-1zM9 17h1v1h-1zM17 17h1v1h-1zM18 17h1v1h-1zM41 17h1v1h-1zM20 18h1v1h-1zM27 18h1v1h-1zM41 18h1v1h-1zM48 18h1v1h-1zM59 18h1v1h-1zM2 19h1v1h-1zM3 19h1v1h-1zM9 19h1v1h-1zM18 19h1v1h-1zM29 19h1v1h-1zM31 19h1v1h-1zM35 19h1v1h-1zM39 19h1v1h-1zM41 19h1v1h-1zM59 19h1v1h-1zM61 19h1v1h-1zM2 20h1v1h-1zM17 20h1v1h-1zM54 20h1v1h-1zM12 21h1v1h-1zM20 21h1v1h-1zM22 21h1v1h-1zM27 21h1v1h-1zM61 21h1v1h-1zM62 21h1v1h-1zM10 22h1v1h-1zM26 22h1v1h-1zM32 22h1v1h-1zM37 22h1v1h-1zM46 22h1v1h-1zM52 22h1v1h-1zM55 22h1v1h-1zM23 23h1v1h-1zM45 23h1v1h-1zM56 23h1v1h-1zM2 24h1v1h-1zM7 24h1v1h-1zM17 24h1v1h-1zM27 24h1v1h-1zM45 24h1v1h-1zM58 24h1v1h-1zM59 24h1v1h-1zM13 25h1v1h-1zM35 25h1v1h-1zM4 26h1v1h-1zM18 26h1v1h-1zM24 26h1v1h-1zM34 26h1v1h-1zM39 26h1v1h-1zM46 26h1v1h-1zM59 26h1v1h-1zM2 27h1v1h-1zM10 27h1v1h-1zM13 27h1v1h-1zM54 27h1v1h-1zM3 28h1v1h-1zM10 28h1v1h-1zM14 28h1v1h-1zM17 28h1v1h-1zM21 28h1v1h-1zM27 28h1v1h-1zM45 28h1v1h-1zM47 28h1v1h-1zM48 28h1v1h-1zM49 28h1v1h-1zM61 28h1v1h-1zM15 29h1v1h-1zM22 29h1v1h-1zM29 29h1v1h-1zM32 29h1v1h-1zM48 29h1v1h-1zM15 30h1v1h-1zM4 31h1v1h-1zM19 31h1v1h-1zM21 31h1v1h-1zM23 31h1v1h-1zM47 31h1v1h-1zM52 31h1v1h-1zM4 32h1v1h-1zM35 32h1v1h-1zM38 32h1v1h-1zM16 33h1v1h-1zM44 33h1v1h-1zM1 34h1v1h-1zM3 34h1v1h-1zM6 34h1v1h-1zM9 34h1v1h-1zM23 34h1v1h-1zM29 34h1v1h-1zM57 34h1v1h-1zM14 35h1v1h-1zM18 35h1v1h-1zM42 35h1v1h-1zM54 35h1v1h-1zM8 36h1v1h-1zM10 36h1v1h-1zM17 36h1v1h-1zM18 36h1v1h-1zM41 36h1v1h-1zM43 36h1v1h-1zM55 36h1v1h-1zM1 37h1v1h-1zM16 37h1v1h-1zM7 38h1v1h-1zM8 38h1v1h-1zM14 38h1v1h-1zM33 38h1v1h-1zM37 38h1v1h-1zM12 39h1v1h-1zM16 39h1v1h-1zM17 39h1v1h-1zM21 39h1v1h-1zM30 39h1v1h-1zM53 39h1v1h-1zM20 40h1v1h-1zM32 40h1v1h-1zM35 40h1v1h-1zM54 40h1v1h-1zM13 41h1v1h-1zM32 41h1v1h-1zM53 41h1v1h-1zM55 41h1v1h-1zM58 41h1v1h-1zM5 42h1v1h-1zM7 42h1v1h-1zM21 42h1v1h-1zM25 42h1v1h-1zM31 42h1v1h-1zM59 42h1v1h-1zM7 43h1v1h-1zM12 43h1v1h-1zM18 43h1v1h-1zM25 43h1v1h-1zM35 43h1v1h-1zM49 43h1v1h-1zM56 43h1v1h-1zM21 44h1v1h-1zM27 44h1v1h-1zM28 44h1v1h-1zM39 44h1v1h-1zM42 44h1v1h-1zM54 44h1v1h-1zM59 44h1v1h-1zM1 45h1v1h-1zM4 45h1v1h-1zM5 45h1v1h-1zM8 45h1v1h-1zM12 45h1v1h-1zM26 45h1v1h-1zM39 45h1v1h-1zM49 45h1v1h-1zM60 45h1v1h-1zM8 46h1v1h-1zM9 46h1v1h-1zM23 46h1v1h-1zM32 46h1v1h-1zM59 46h1v1h-1zM60 46h1v1h-1zM24 47h1v1h-1zM59 47h1v1h-1zM61 47h1v1h-1zM20 48h1v1h-1zM48 48h1v1h-1zM55 48h1v1h-1zM7 49h1v1h-1zM19 49h1v1h-1zM21 49h1v1h-1zM25 49h1v1h-1zM31 49h1v1h-1zM33 49h1v1h-1zM36 49h1v1h-1zM40 49h1v1h-1zM49 49h1v1h-1zM51 49h1v1h-1zM15 50h1v1h-1zM42 50h1v1h-1zM56 50h1v1h-1zM5 51h1v1h-1zM14 51h1v1h-1zM18 51h1v1h-1zM26 51h1v1h-1zM27 51h1v1h-1zM50 51h1v1h-1zM53 51h1v1h-1zM56 51h1v1h-1zM4 52h1v1h-1zM12 52h1v1h-1zM16 52h1v1h-1zM18 52h1v1h-1zM24 52h1v1h-1zM26 52h1v1h-1zM28 52h1v1h-1zM30 52h1v1h-1zM41 52h1v1h-1zM45 52h1v1h-1zM47 52h1v1h-1zM59 52h1v1h-1zM3 53h1v1h-1zM4 53h1v1h-1zM30 53h1v1h-1zM38 53h1v1h-1zM45 53h1v1h-1zM21 54h1v1h-1zM41 54h1v1h-1zM55 54h1v1h-1zM4 55h1v1h-1zM15 55h1v1h-1zM17 55h1v1h-1zM46 55h1v1h-1zM21 56h1v1h-1zM22 56h1v1h-1zM28 56h1v1h-1zM34 56h1v1h-1zM45 56h1v1h-1zM47 56h1v1h-1zM3 57h1v1h-1zM6 57h1v1h-1zM29 57h1v1h-1zM9 58h1v1h-1zM11 58h1v1h-1zM13 58h1v1h-1zM15 58h1v1h-1zM36 58h1v1h-1zM54 58h1v1h-1zM9 59h1v1h-1zM13 59h1v1h-1zM16 59h1v1h-1zM19 59h1v1h-1zM20 59h1v1h-1zM47 59h1v1h-1zM48 59h1v1h-1zM51 59h1v1h-1zM53 59h1v1h-1zM54 59h1v1h-1zM55 59h1v1h-1zM57 59h1v1h-1zM10 60h1v1h-1zM16 60h1v1h-1zM23 60h1v1h-1zM24 60h1v1h-1zM32 60h1v1h-1zM50 60h1v1h-1zM9 61h1v1h-1zM15 61h1v1h-1zM20 61h1v1h-1zM60 61h1v1h-1zM36 62h1v1h-1zM48 62h1v1h-1z" fill="#545454"/>
<path d="M6 1h1v1h-1zM23 1h1v1h-1zM29 1h1v1h-1zM36 1h1v1h-1zM41 1h1v1h-1zM45 1h1v1h-1zM53 1h1v1h-1zM11 2h1v1h-1zM13 2h1v1h-1zM24 2h1v1h-1zM31 2h1v1h-1zM33 2h1v1h-1zM40 2h1v1h-1zM59 2h1v1h-1zM60 2h1v1h-1zM5 3h1v1h-1zM24 3h1v1h-1zM41 3h1v1h-1zM50 3h1v1h-1zM52 3h1v1h-1zM61 3h1v1h-1zM28 4h1v1h-1zM29 4h1v1h-1zM44 4h1v1h-1zM52 4h1v1h-1zM55 4h1v1h-1zM3 5h1v1h-1zM6 5h1v1h-1zM18 5h1v1h-1zM21 5h1v1h-1zM48 5h1v1h-1zM49 5h1v1h-1zM50 5h1v1h-1zM60 5h1v1h-1zM5 6h1v1h-1zM11 6h1v1h-1zM18 6h1v1h-1zM41 6h1v1h-1zM60 6h1v1h-1zM63 6h1v1h-1zM7 7h1v1h-1zM15 7h1v1h-1zM47 7h1v1h-1zM48 7h1v1h-1zM61 7h1v1h-1zM27 8h1v1h-1zM53 8h1v1h-1zM44 9h1v1h-1zM9 10h1v1h-1zM27 10h1v1h-1zM49 10h1v1h-1zM10 11h1v1h-1zM34 11h1v1h-1zM52 11h1v1h-1zM56 11h1v1h-1zM60 11h1v1h-1zM61 11h1v1h-1zM5 12h1v1h-1zM6 12h1v1h-1zM9 12h1v1h-1zM33 12h1v1h-1zM45 12h1v1h-1zM47 12h1v1h-1zM50 12h1v1h-1zM15 13h1v1h-1zM44 13h1v1h-1zM55 13h1v1h-1zM60 13h1v1h-1zM19 14h1v1h-1zM27 14h1v1h-1zM2 15h1v1h-1zM34 15h1v1h-1zM9 16h1v1h-1zM22 16h1v1h-1zM32 16h1v1h-1zM58 16h1v1h-1zM60 16h1v1h-1zM61 16h1v1h-1zM1 17h1v1h-1zM2 17h1v1h-1zM22 17h1v1h-1zM25 17h1v1h-1zM27 17h1v1h-1zM55 17h1v1h-1zM5 18h1v1h-1zM9 18h1v1h-1zM11 18h1v1h-1zM39 18h1v1h-1zM40 18h1v1h-1zM45 18h1v1h-1zM61 18h1v1h-1zM5 19h1v1h-1zM16 19h1v1h-1zM23 19h1v1h-1zM42 19h1v1h-1zM27 20h1v1h-1zM36 20h1v1h-1zM45 20h1v1h-1zM57 20h1v1h-1zM59 20h1v1h-1zM14 21h1v1h-1zM25 21h1v1h-1zM32 21h1v1h-1zM54 21h1v1h-1zM11 22h1v1h-1zM45 22h1v1h-1zM1 23h1v1h-1zM60 23h1v1h-1zM1 24h1v1h-1zM15 24h1v1h-1zM4 25h1v1h-1zM11 25h1v1h-1zM34 25h1v1h-1zM62 25h1v1h-1zM1 26h1v1h-1zM8 26h1v1h-1zM17 26h1v1h-1zM43 26h1v1h-1zM45 26h1v1h-1zM49 26h1v1h-1zM9 27h1v1h-1zM11 27h1v1h-1zM19 27h1v1h-1zM21 27h1v1h-1zM39 27h1v1h-1zM53 27h1v1h-1zM8 28h1v1h-1zM44 28h1v1h-1zM5 29h1v1h-1zM10 29h1v1h-1zM27 29h1v1h-1zM61 29h1v1h-1zM1 30h1v1h-1zM5 30h1v1h-1zM9 30h1v1h-1zM21 30h1v1h-1zM23 30h1v1h-1zM30 30h1v1h-1zM32 30h1v1h-1zM38 30h1v1h-1zM20 31h1v1h-1zM62 31h1v1h-1zM9 32h1v1h-1zM51 32h1v1h-1zM53 32h1v1h-1zM55 32h1v1h-1zM56 32h1v1h-1zM60 32h1v1h-1zM6 33h1v1h-1zM12 33h1v1h-1zM32 33h1v1h-1zM37 33h1v1h-1zM42 33h1v1h-1zM62 33h1v1h-1zM13 34h1v1h-1zM27 34h1v1h-1zM40 34h1v1h-1zM4 35h1v1h-1zM10 35h1v1h-1zM11 35h1v1h-1zM15 35h1v1h-1zM16 35h1v1h-1zM40 36h1v1h-1zM48 36h1v1h-1zM51 36h1v1h-1zM54 36h1v1h-1zM58 36h1v1h-1zM61 36h1v1h-1zM2 37h1v1h-1zM30 37h1v1h-1zM33 37h1v1h-1zM36 37h1v1h-1zM38 37h1v1h-1zM45 37h1v1h-1zM52 37h1v1h-1zM16 38h1v1h-1zM31 38h1v1h-1zM38 38h1v1h-1zM43 38h1v1h-1zM47 39h1v1h-1zM5 40h1v1h-1zM19 40h1v1h-1zM30 40h1v1h-1zM51 40h1v1h-1zM62 40h1v1h-1zM0 41h1v1h-1zM6 41h1v1h-1zM17 41h1v1h-1zM29 41h1v1h-1zM27 42h1v1h-1zM35 42h1v1h-1zM42 42h1v1h-1zM60 42h1v1h-1zM1 43h1v1h-1zM14 43h1v1h-1zM36 43h1v1h-1zM39 43h1v1h-1zM3 44h1v1h-1zM5 44h1v1h-1zM22 44h1v1h-1zM36 44h1v1h-1zM49 44h1v1h-1zM57 44h1v1h-1zM58 44h1v1h-1zM62 44h1v1h-1zM27 45h1v1h-1zM36 45h1v1h-1zM43 45h1v1h-1zM45 45h1v1h-1zM55 45h1v1h-1zM56 45h1v1h-1zM62 45h1v1h-1zM17 46h1v1h-1zM19 46h1v1h-1zM62 46h1v1h-1zM3 47h1v1h-1zM4 47h1v1h-1zM34 47h1v1h-1zM47 47h1v1h-1zM1 48h1v1h-1zM3 48h1v1h-1zM8 48h1v1h-1zM17 48h1v1h-1zM22 48h1v1h-1zM39 48h1v1h-1zM46 48h1v1h-1zM49 48h1v1h-1zM10 49h1v1h-1zM11 49h1v1h-1zM23 49h1v1h-1zM26 49h1v1h-1zM35 49h1v1h-1zM41 49h1v1h-1zM59 49h1v1h-1zM60 49h1v1h-1zM10 50h1v1h-1zM14 50h1v1h-1zM50 50h1v1h-1zM2 51h1v1h-1zM4 51h1v1h-1zM12 51h1v1h-1zM24 51h1v1h-1zM42 51h1v1h-1zM46 51h1v1h-1zM54 51h1v1h-1zM55 51h1v1h-1zM59 51h1v1h-1zM7 52h1v1h-1zM9 52h1v1h-1zM23 52h1v1h-1zM33 52h1v1h-1zM57 52h1v1h-1zM61 52h1v1h-1zM26 53h1v1h-1zM31 53h1v1h-1zM32 53h1v1h-1zM48 53h1v1h-1zM50 53h1v1h-1zM56 53h1v1h-1zM57 53h1v1h-1zM62 53h1v1h-1zM7 54h1v1h-1zM12 54h1v1h-1zM46 54h1v1h-1zM34 55h1v1h-1zM42 55h1v1h-1zM50 55h1v1h-1zM54 55h1v1h-1zM56 55h1v1h-1zM5 56h1v1h-1zM42 56h1v1h-1zM60 56h1v1h-1zM1 57h1v1h-1zM5 57h1v1h-1zM40 57h1v1h-1zM43 57h1v1h-1zM8 58h1v1h-1zM17 58h1v1h-1zM23 58h1v1h-1zM41 58h1v1h-1zM50 58h1v1h-1zM52 58h1v1h-1zM4 59h1v1h-1zM5 59h1v1h-1zM33 59h1v1h-1zM39 59h1v1h-1zM41 59h1v1h-1zM42 59h1v1h-1zM44 59h1v1h-1zM58 59h1v1h-1zM1 60h1v1h-1zM5 60h1v1h-1zM11 60h1v1h-1zM17 60h1v1h-1zM19 60h1v1h-1zM20 60h1v1h-1zM42 60h1v1h-1zM43 60h1v1h-1zM1 61h1v1h-1zM2 61h1v1h-1zM23 61h1v1h-1zM28 61h1v1h-1zM33 61h1v1h-1zM52 61h1v1h-1zM57 61h1v1h-1zM59 61h1v1h-1zM1 62h1v1h-1zM3 62h1v1h-1zM5 62h1v1h-1zM7 62h1v1h-1zM9 62h1v1h-1zM13 62h1v1h-1zM40 62h1v1h-1zM43 62h1v1h-1zM44 62h1v1h-1zM56 62h1v1h-1z" fill="#5a5a5a"/>
<path d="M28 0h1v1h-1zM5 1h1v1h-1zM7 1h1v1h-1zM17 1h1v1h-1zM18 1h1v1h-1zM30 1h1v1h-1zM39 1h1v1h-1zM48 1h1v1h-1zM54 1h1v1h-1zM62 1h1v1h-1zM3 2h1v1h-1zM14 2h1v1h-1zM25 2h1v1h-1zM27 2h1v1h-1zM17 3h1v1h-1zM21 3h1v1h-1zM26 3h1v1h-1zM28 3h1v1h-1zM32 3h1v1h-1zM39 3h1v1h-1zM58 3h1v1h-1zM6 4h1v1h-1zM17 4h1v1h-1zM23 4h1v1h-1zM33 4h1v1h-1zM36 4h1v1h-1zM54 4h1v1h-1zM2 5h1v1h-1zM8 5h1v1h-1zM13 5h1v1h-1zM22 5h1v1h-1zM26 5h1v1h-1zM34 5h1v1h-1zM37 5h1v1h-1zM47 5h1v1h-1zM62 5h1v1h-1zM4 6h1v1h-1zM15 6h1v1h-1zM22 7h1v1h-1zM62 7h1v1h-1zM5 8h1v1h-1zM14 8h1v1h-1zM16 8h1v1h-1zM39 8h1v1h-1zM45 8h1v1h-1zM47 8h1v1h-1zM1 9h1v1h-1zM20 9h1v1h-1zM21 9h1v1h-1zM61 9h1v1h-1zM19 10h1v1h-1zM55 10h1v1h-1zM58 10h1v1h-1zM1 11h1v1h-1zM8 11h1v1h-1zM11 11h1v1h-1zM20 11h1v1h-1zM60 12h1v1h-1zM1 13h1v1h-1zM2 13h1v1h-1zM6 13h1v1h-1zM61 13h1v1h-1zM62 13h1v1h-1zM1 14h1v1h-1zM52 14h1v1h-1zM53 14h1v1h-1zM60 14h1v1h-1zM62 15h1v1h-1zM19 16h1v1h-1zM57 16h1v1h-1zM62 16h1v1h-1zM35 17h1v1h-1zM49 17h1v1h-1zM1 18h1v1h-1zM25 18h1v1h-1zM60 18h1v1h-1zM55 19h1v1h-1zM60 19h1v1h-1zM5 20h1v1h-1zM4 21h1v1h-1zM5 21h1v1h-1zM39 21h1v1h-1zM1 22h1v1h-1zM33 22h1v1h-1zM11 23h1v1h-1zM17 25h1v1h-1zM23 26h1v1h-1zM1 27h1v1h-1zM3 27h1v1h-1zM25 27h1v1h-1zM57 27h1v1h-1zM31 28h1v1h-1zM36 28h1v1h-1zM59 28h1v1h-1zM1 29h1v1h-1zM11 29h1v1h-1zM26 29h1v1h-1zM46 29h1v1h-1zM0 30h1v1h-1zM27 30h1v1h-1zM5 31h1v1h-1zM8 31h1v1h-1zM9 31h1v1h-1zM41 31h1v1h-1zM44 31h1v1h-1zM61 31h1v1h-1zM18 32h1v1h-1zM1 33h1v1h-1zM2 33h1v1h-1zM14 33h1v1h-1zM60 33h1v1h-1zM2 34h1v1h-1zM4 34h1v1h-1zM45 34h1v1h-1zM55 34h1v1h-1zM61 34h1v1h-1zM41 35h1v1h-1zM60 35h1v1h-1zM61 35h1v1h-1zM2 36h1v1h-1zM1 38h1v1h-1zM9 38h1v1h-1zM60 38h1v1h-1zM62 38h1v1h-1zM1 39h1v1h-1zM2 39h1v1h-1zM24 39h1v1h-1zM61 39h1v1h-1zM41 40h1v1h-1zM55 40h1v1h-1zM56 40h1v1h-1zM61 40h1v1h-1zM1 41h1v1h-1zM20 41h1v1h-1zM35 41h1v1h-1zM49 41h1v1h-1zM50 41h1v1h-1zM56 41h1v1h-1zM59 41h1v1h-1zM2 42h1v1h-1zM18 42h1v1h-1zM48 43h1v1h-1zM61 43h1v1h-1zM30 44h1v1h-1zM61 44h1v1h-1zM3 45h1v1h-1zM21 45h1v1h-1zM1 46h1v1h-1zM42 46h1v1h-1zM55 46h1v1h-1zM63 46h1v1h-1zM37 47h1v1h-1zM51 47h1v1h-1zM12 48h1v1h-1zM14 48h1v1h-1zM23 48h1v1h-1zM28 48h1v1h-1zM37 48h1v1h-1zM40 48h1v1h-1zM43 48h1v1h-1zM44 48h1v1h-1zM53 48h1v1h-1zM59 48h1v1h-1zM62 48h1v1h-1zM8 49h1v1h-1zM34 49h1v1h-1zM61 49h1v1h-1zM12 50h1v1h-1zM13 50h1v1h-1zM20 50h1v1h-1zM52 50h1v1h-1zM55 50h1v1h-1zM62 50h1v1h-1zM29 51h1v1h-1zM61 51h1v1h-1zM1 52h1v1h-1zM2 52h1v1h-1zM34 52h1v1h-1zM12 53h1v1h-1zM33 53h1v1h-1zM44 53h1v1h-1zM60 53h1v1h-1zM37 54h1v1h-1zM58 54h1v1h-1zM62 54h1v1h-1zM1 55h1v1h-1zM7 55h1v1h-1zM18 55h1v1h-1zM36 55h1v1h-1zM48 55h1v1h-1zM52 55h1v1h-1zM9 56h1v1h-1zM15 56h1v1h-1zM26 56h1v1h-1zM35 56h1v1h-1zM44 56h1v1h-1zM49 56h1v1h-1zM51 56h1v1h-1zM58 56h1v1h-1zM59 56h1v1h-1zM61 56h1v1h-1zM27 58h1v1h-1zM37 58h1v1h-1zM57 58h1v1h-1zM1 59h1v1h-1zM6 59h1v1h-1zM7 59h1v1h-1zM14 59h1v1h-1zM22 59h1v1h-1zM25 59h1v1h-1zM36 59h1v1h-1zM40 59h1v1h-1zM4 60h1v1h-1zM14 60h1v1h-1zM62 60h1v1h-1zM5 61h1v1h-1zM27 61h1v1h-1zM30 61h1v1h-1zM31 61h1v1h-1zM41 61h1v1h-1zM42 61h1v1h-1zM48 61h1v1h-1zM61 61h1v1h-1zM6 62h1v1h-1zM8 62h1v1h-1zM12 62h1v1h-1zM18 62h1v1h-1zM21 62h1v1h-1zM23 62h1v1h-1zM25 62h1v1h-1zM31 62h1v1h-1zM32 62h1v1h-1zM33 62h1v1h-1zM46 62h1v1h-1zM47 62h1v1h-1zM49 62h1v1h-1zM52 62h1v1h-1zM58 62h1v1h-1zM59 62h1v1h-1zM60 62h1v1h-1zM61 62h1v1h-1zM28 63h1v1h-1z" fill="#606060"/>
<path d="M0 0h1v1h-1zM4 0h1v1h-1zM8 0h1v1h-1zM9 0h1v1h-1zM19 0h1v1h-1zM30 0h1v1h-1zM32 0h1v1h-1zM39 0h1v1h-1zM2 1h1v1h-1zM3 1h1v1h-1zM4 1h1v1h-1zM14 1h1v1h-1zM20 1h1v1h-1zM26 1h1v1h-1zM28 1h1v1h-1zM31 1h1v1h-1zM34 1h1v1h-1zM42 1h1v1h-1zM43 1h1v1h-1zM46 1h1v1h-1zM55 1h1v1h-1zM58 1h1v1h-1zM60 1h1v1h-1zM2 2h1v1h-1zM8 2h1v1h-1zM37 2h1v1h-1zM42 2h1v1h-1zM57 2h1v1h-1zM62 2h1v1h-1zM63 2h1v1h-1zM0 3h1v1h-1zM3 3h1v1h-1zM25 3h1v1h-1zM33 3h1v1h-1zM34 3h1v1h-1zM43 3h1v1h-1zM48 3h1v1h-1zM62 3h1v1h-1zM1 4h1v1h-1zM12 4h1v1h-1zM34 4h1v1h-1zM62 4h1v1h-1zM55 5h1v1h-1zM61 5h1v1h-1zM3 6h1v1h-1zM33 6h1v1h-1zM61 6h1v1h-1zM1 7h1v1h-1zM3 7h1v1h-1zM30 7h1v1h-1zM38 7h1v1h-1zM63 7h1v1h-1zM1 8h1v1h-1zM34 9h1v1h-1zM62 9h1v1h-1zM0 10h1v1h-1zM8 10h1v1h-1zM40 10h1v1h-1zM15 11h1v1h-1zM62 11h1v1h-1zM7 12h1v1h-1zM48 12h1v1h-1zM58 12h1v1h-1zM62 12h1v1h-1zM7 13h1v1h-1zM12 14h1v1h-1zM47 14h1v1h-1zM50 14h1v1h-1zM51 14h1v1h-1zM38 16h1v1h-1zM43 17h1v1h-1zM26 18h1v1h-1zM62 18h1v1h-1zM62 19h1v1h-1zM63 19h1v1h-1zM1 20h1v1h-1zM3 20h1v1h-1zM7 20h1v1h-1zM61 20h1v1h-1zM1 21h1v1h-1zM3 21h1v1h-1zM5 22h1v1h-1zM8 22h1v1h-1zM62 22h1v1h-1zM6 23h1v1h-1zM1 25h1v1h-1zM7 25h1v1h-1zM9 25h1v1h-1zM59 25h1v1h-1zM11 26h1v1h-1zM62 26h1v1h-1zM23 27h1v1h-1zM52 27h1v1h-1zM1 28h1v1h-1zM38 28h1v1h-1zM62 28h1v1h-1zM60 29h1v1h-1zM62 29h1v1h-1zM3 30h1v1h-1zM58 30h1v1h-1zM59 30h1v1h-1zM62 30h1v1h-1zM14 32h1v1h-1zM21 32h1v1h-1zM40 33h1v1h-1zM56 33h1v1h-1zM10 34h1v1h-1zM19 34h1v1h-1zM31 34h1v1h-1zM1 35h1v1h-1zM2 35h1v1h-1zM1 36h1v1h-1zM26 36h1v1h-1zM62 36h1v1h-1zM11 37h1v1h-1zM41 37h1v1h-1zM61 37h1v1h-1zM18 38h1v1h-1zM24 38h1v1h-1zM34 39h1v1h-1zM43 39h1v1h-1zM49 39h1v1h-1zM0 40h1v1h-1zM15 40h1v1h-1zM27 40h1v1h-1zM5 41h1v1h-1zM63 41h1v1h-1zM62 42h1v1h-1zM10 43h1v1h-1zM62 43h1v1h-1zM1 44h1v1h-1zM55 44h1v1h-1zM20 46h1v1h-1zM1 47h1v1h-1zM31 47h1v1h-1zM44 47h1v1h-1zM0 48h1v1h-1zM1 49h1v1h-1zM2 49h1v1h-1zM45 49h1v1h-1zM62 49h1v1h-1zM63 49h1v1h-1zM1 50h1v1h-1zM4 50h1v1h-1zM9 50h1v1h-1zM54 50h1v1h-1zM1 51h1v1h-1zM13 51h1v1h-1zM48 51h1v1h-1zM62 51h1v1h-1zM3 52h1v1h-1zM39 52h1v1h-1zM2 53h1v1h-1zM29 53h1v1h-1zM54 53h1v1h-1zM61 53h1v1h-1zM0 54h1v1h-1zM17 54h1v1h-1zM38 54h1v1h-1zM44 54h1v1h-1zM54 54h1v1h-1zM61 55h1v1h-1zM62 55h1v1h-1zM3 56h1v1h-1zM19 57h1v1h-1zM27 57h1v1h-1zM54 57h1v1h-1zM62 57h1v1h-1zM39 58h1v1h-1zM40 58h1v1h-1zM46 58h1v1h-1zM51 58h1v1h-1zM60 58h1v1h-1zM62 58h1v1h-1zM2 59h1v1h-1zM34 59h1v1h-1zM37 59h1v1h-1zM38 59h1v1h-1zM60 59h1v1h-1zM7 60h1v1h-1zM47 60h1v1h-1zM48 60h1v1h-1zM51 60h1v1h-1zM0 61h1v1h-1zM26 61h1v1h-1zM29 61h1v1h-1zM2 62h1v1h-1zM4 62h1v1h-1zM15 62h1v1h-1zM22 62h1v1h-1zM29 62h1v1h-1zM41 62h1v1h-1zM42 62h1v1h-1zM51 62h1v1h-1zM53 62h1v1h-1zM54 62h1v1h-1zM57 62h1v1h-1zM63 62h1v1h-1zM6 63h1v1h-1zM16 63h1v1h-1zM56 63h1v1h-1zM60 63h1v1h-1z" fill="#666666"/>
<path d="M18 0h1v1h-1zM34 0h1v1h-1zM45 0h1v1h-1zM47 0h1v1h-1zM49 0h1v1h-1zM53 0h1v1h-1zM59 0h1v1h-1zM1 1h1v1h-1zM8 1h1v1h-1zM10 1h1v1h-1zM11 1h1v1h-1zM12 1h1v1h-1zM13 1h1v1h-1zM15 1h1v1h-1zM21 1h1v1h-1zM22 1h1v1h-1zM27 1h1v1h-1zM32 1h1v1h-1zM33 1h1v1h-1zM37 1h1v1h-1zM38 1h1v1h-1zM47 1h1v1h-1zM50 1h1v1h-1zM52 1h1v1h-1zM57 1h1v1h-1zM10 2h1v1h-1zM15 2h1v1h-1zM36 2h1v1h-1zM49 2h1v1h-1zM50 2h1v1h-1zM1 3h1v1h-1zM4 3h1v1h-1zM15 3h1v1h-1zM18 3h1v1h-1zM23 3h1v1h-1zM63 3h1v1h-1zM26 4h1v1h-1zM63 4h1v1h-1zM0 5h1v1h-1zM15 5h1v1h-1zM25 5h1v1h-1zM63 5h1v1h-1zM0 6h1v1h-1zM1 6h1v1h-1zM60 7h1v1h-1zM52 8h1v1h-1zM63 9h1v1h-1zM3 10h1v1h-1zM32 10h1v1h-1zM13 12h1v1h-1zM20 12h1v1h-1zM63 12h1v1h-1zM39 14h1v1h-1zM0 15h1v1h-1zM3 15h1v1h-1zM1 16h1v1h-1zM4 16h1v1h-1zM12 16h1v1h-1zM47 16h1v1h-1zM63 16h1v1h-1zM26 17h1v1h-1zM62 17h1v1h-1zM0 19h1v1h-1zM1 19h1v1h-1zM62 20h1v1h-1zM63 21h1v1h-1zM57 23h1v1h-1zM62 23h1v1h-1zM0 24h1v1h-1zM61 24h1v1h-1zM62 24h1v1h-1zM0 25h1v1h-1zM4 27h1v1h-1zM0 28h1v1h-1zM6 29h1v1h-1zM0 31h1v1h-1zM63 31h1v1h-1zM1 32h1v1h-1zM48 32h1v1h-1zM62 34h1v1h-1zM9 35h1v1h-1zM23 35h1v1h-1zM62 35h1v1h-1zM63 36h1v1h-1zM18 37h1v1h-1zM29 37h1v1h-1zM40 37h1v1h-1zM62 37h1v1h-1zM13 38h1v1h-1zM61 38h1v1h-1zM59 39h1v1h-1zM62 39h1v1h-1zM63 39h1v1h-1zM29 40h1v1h-1zM63 40h1v1h-1zM51 41h1v1h-1zM1 42h1v1h-1zM4 42h1v1h-1zM6 42h1v1h-1zM51 43h1v1h-1zM56 44h1v1h-1zM63 44h1v1h-1zM62 47h1v1h-1zM5 48h1v1h-1zM35 48h1v1h-1zM38 48h1v1h-1zM50 48h1v1h-1zM16 49h1v1h-1zM47 49h1v1h-1zM22 50h1v1h-1zM0 51h1v1h-1zM23 51h1v1h-1zM27 52h1v1h-1zM62 52h1v1h-1zM63 52h1v1h-1zM0 53h1v1h-1zM1 53h1v1h-1zM37 53h1v1h-1zM59 53h1v1h-1zM1 54h1v1h-1zM4 54h1v1h-1zM63 54h1v1h-1zM20 55h1v1h-1zM1 56h1v1h-1zM2 56h1v1h-1zM32 56h1v1h-1zM38 56h1v1h-1zM39 56h1v1h-1zM54 56h1v1h-1zM57 56h1v1h-1zM62 56h1v1h-1zM49 57h1v1h-1zM51 57h1v1h-1zM63 57h1v1h-1zM7 58h1v1h-1zM44 58h1v1h-1zM45 58h1v1h-1zM56 58h1v1h-1zM61 58h1v1h-1zM0 59h1v1h-1zM31 59h1v1h-1zM32 59h1v1h-1zM62 59h1v1h-1zM8 60h1v1h-1zM22 60h1v1h-1zM25 60h1v1h-1zM29 60h1v1h-1zM46 60h1v1h-1zM49 60h1v1h-1zM61 60h1v1h-1zM4 61h1v1h-1zM7 61h1v1h-1zM16 61h1v1h-1zM17 61h1v1h-1zM24 61h1v1h-1zM51 61h1v1h-1zM54 61h1v1h-1zM11 62h1v1h-1zM16 62h1v1h-1zM17 62h1v1h-1zM19 62h1v1h-1zM20 62h1v1h-1zM27 62h1v1h-1zM30 62h1v1h-1zM34 62h1v1h-1zM35 62h1v1h-1zM37 62h1v1h-1zM38 62h1v1h-1zM39 62h1v1h-1zM55 62h1v1h-1zM62 62h1v1h-1zM2 63h1v1h-1zM12 63h1v1h-1zM14 63h1v1h-1zM15 63h1v1h-1zM25 63h1v1h-1zM39 63h1v1h-1zM41 63h1v1h-1zM51 63h1v1h-1zM61 63h1v1h-1z" fill="#6c6c6c"/>
<path d="M3 0h1v1h-1zM5 0h1v1h-1zM14 0h1v1h-1zM15 0h1v1h-1zM17 0h1v1h-1zM20 0h1v1h-1zM21 0h1v1h-1zM22 0h1v1h-1zM23 0h1v1h-1zM27 0h1v1h-1zM31 0h1v1h-1zM33 0h1v1h-1zM35 0h1v1h-1zM37 0h1v1h-1zM40 0h1v1h-1zM42 0h1v1h-1zM44 0h1v1h-1zM51 0h1v1h-1zM55 0h1v1h-1zM58 0h1v1h-1zM63 0h1v1h-1zM9 1h1v1h-1zM16 1h1v1h-1zM25 1h1v1h-1zM35 1h1v1h-1zM44 1h1v1h-1zM59 1h1v1h-1zM63 1h1v1h-1zM1 2h1v1h-1zM30 2h1v1h-1zM45 2h1v1h-1zM56 2h1v1h-1zM47 3h1v1h-1zM57 3h1v1h-1zM51 4h1v1h-1zM1 5h1v1h-1zM44 5h1v1h-1zM2 6h1v1h-1zM27 6h1v1h-1zM62 6h1v1h-1zM33 7h1v1h-1zM53 7h1v1h-1zM11 8h1v1h-1zM22 8h1v1h-1zM50 8h1v1h-1zM62 8h1v1h-1zM63 8h1v1h-1zM0 9h1v1h-1zM16 9h1v1h-1zM62 10h1v1h-1zM63 10h1v1h-1zM0 11h1v1h-1zM49 11h1v1h-1zM0 12h1v1h-1zM1 12h1v1h-1zM63 13h1v1h-1zM62 14h1v1h-1zM10 15h1v1h-1zM63 15h1v1h-1zM42 16h1v1h-1zM54 16h1v1h-1zM59 16h1v1h-1zM63 17h1v1h-1zM0 18h1v1h-1zM63 18h1v1h-1zM0 20h1v1h-1zM4 20h1v1h-1zM0 21h1v1h-1zM3 22h1v1h-1zM63 22h1v1h-1zM0 23h1v1h-1zM63 24h1v1h-1zM5 25h1v1h-1zM8 25h1v1h-1zM63 25h1v1h-1zM42 26h1v1h-1zM62 27h1v1h-1zM63 27h1v1h-1zM63 28h1v1h-1zM2 29h1v1h-1zM19 29h1v1h-1zM63 29h1v1h-1zM22 30h1v1h-1zM59 31h1v1h-1zM60 31h1v1h-1zM0 32h1v1h-1zM62 32h1v1h-1zM0 33h1v1h-1zM38 33h1v1h-1zM63 33h1v1h-1zM0 34h1v1h-1zM48 34h1v1h-1zM63 34h1v1h-1zM0 35h1v1h-1zM5 35h1v1h-1zM6 35h1v1h-1zM55 35h1v1h-1zM0 36h1v1h-1zM63 37h1v1h-1zM0 39h1v1h-1zM39 39h1v1h-1zM1 40h1v1h-1zM59 40h1v1h-1zM62 41h1v1h-1zM0 42h1v1h-1zM3 42h1v1h-1zM13 42h1v1h-1zM8 43h1v1h-1zM60 43h1v1h-1zM0 45h1v1h-1zM58 45h1v1h-1zM59 45h1v1h-1zM4 46h1v1h-1zM2 47h1v1h-1zM63 48h1v1h-1zM7 50h1v1h-1zM63 50h1v1h-1zM60 51h1v1h-1zM0 52h1v1h-1zM39 54h1v1h-1zM42 54h1v1h-1zM0 55h1v1h-1zM2 55h1v1h-1zM63 55h1v1h-1zM0 56h1v1h-1zM13 56h1v1h-1zM63 56h1v1h-1zM0 57h1v1h-1zM4 57h1v1h-1zM25 57h1v1h-1zM10 58h1v1h-1zM25 58h1v1h-1zM49 58h1v1h-1zM26 59h1v1h-1zM28 59h1v1h-1zM26 60h1v1h-1zM31 60h1v1h-1zM52 60h1v1h-1zM54 60h1v1h-1zM63 60h1v1h-1zM21 61h1v1h-1zM56 61h1v1h-1zM62 61h1v1h-1zM0 62h1v1h-1zM10 62h1v1h-1zM14 62h1v1h-1zM26 62h1v1h-1zM50 62h1v1h-1zM3 63h1v1h-1zM4 63h1v1h-1zM8 63h1v1h-1zM10 63h1v1h-1zM17 63h1v1h-1zM19 63h1v1h-1zM23 63h1v1h-1zM27 63h1v1h-1zM29 63h1v1h-1zM31 63h1v1h-1zM33 63h1v1h-1zM34 63h1v1h-1zM37 63h1v1h-1zM42 63h1v1h-1zM44 63h1v1h-1zM45 63h1v1h-1zM47 63h1v1h-1zM52 63h1v1h-1zM53 63h1v1h-1zM54 63h1v1h-1zM57 63h1v1h-1zM63 63h1v1h-1z" fill="#727272"/>
<path d="M1 0h1v1h-1zM6 0h1v1h-1zM10 0h1v1h-1zM11 0h1v1h-1zM24 0h1v1h-1zM25 0h1v1h-1zM29 0h1v1h-1zM38 0h1v1h-1zM41 0h1v1h-1zM43 0h1v1h-1zM46 0h1v1h-1zM50 0h1v1h-1zM57 0h1v1h-1zM60 0h1v1h-1zM61 0h1v1h-1zM0 1h1v1h-1zM19 1h1v1h-1zM24 1h1v1h-1zM51 1h1v1h-1zM61 1h1v1h-1zM0 2h1v1h-1zM19 2h1v1h-1zM20 2h1v1h-1zM46 2h1v1h-1zM2 3h1v1h-1zM0 4h1v1h-1zM45 4h1v1h-1zM0 7h1v1h-1zM0 8h1v1h-1zM33 9h1v1h-1zM63 11h1v1h-1zM27 12h1v1h-1zM0 13h1v1h-1zM1 15h1v1h-1zM0 16h1v1h-1zM63 23h1v1h-1zM4 24h1v1h-1zM60 25h1v1h-1zM0 26h1v1h-1zM63 26h1v1h-1zM60 27h1v1h-1zM19 28h1v1h-1zM0 29h1v1h-1zM63 30h1v1h-1zM1 31h1v1h-1zM2 32h1v1h-1zM3 36h1v1h-1zM0 38h1v1h-1zM63 42h1v1h-1zM63 43h1v1h-1zM0 44h1v1h-1zM0 47h1v1h-1zM0 49h1v1h-1zM63 53h1v1h-1zM26 54h1v1h-1zM7 56h1v1h-1zM52 56h1v1h-1zM1 58h1v1h-1zM63 58h1v1h-1zM8 59h1v1h-1zM63 59h1v1h-1zM0 60h1v1h-1zM18 60h1v1h-1zM33 60h1v1h-1zM25 61h1v1h-1zM43 61h1v1h-1zM58 61h1v1h-1zM63 61h1v1h-1zM45 62h1v1h-1zM0 63h1v1h-1zM7 63h1v1h-1zM13 63h1v1h-1zM22 63h1v1h-1zM24 63h1v1h-1zM26 63h1v1h-1zM30 63h1v1h-1zM32 63h1v1h-1zM48 63h1v1h-1zM50 63h1v1h-1zM55 63h1v1h-1zM58 63h1v1h-1z" fill="#787878"/>
<path d="M2 0h1v1h-1zM7 0h1v1h-1zM13 0h1v1h-1zM26 0h1v1h-1zM52 0h1v1h-1zM54 0h1v1h-1zM56 0h1v1h-1zM56 1h1v1h-1zM28 13h1v1h-1zM0 14h1v1h-1zM58 14h1v1h-1zM63 14h1v1h-1zM63 20h1v1h-1zM0 22h1v1h-1zM3 24h1v1h-1zM2 26h1v1h-1zM0 27h1v1h-1zM6 28h1v1h-1zM63 32h1v1h-1zM63 35h1v1h-1zM0 37h1v1h-1zM3 37h1v1h-1zM2 40h1v1h-1zM0 43h1v1h-1zM2 45h1v1h-1zM63 45h1v1h-1zM35 46h1v1h-1zM63 47h1v1h-1zM0 50h1v1h-1zM8 51h1v1h-1zM59 55h1v1h-1zM2 57h1v1h-1zM30 57h1v1h-1zM2 58h1v1h-1zM37 60h1v1h-1zM18 61h1v1h-1zM28 62h1v1h-1zM35 63h1v1h-1zM36 63h1v1h-1zM38 63h1v1h-1zM40 63h1v1h-1zM43 63h1v1h-1zM46 63h1v1h-1zM49 63h1v1h-1zM62 63h1v1h-1z" fill="#7e7e7e"/>
<path d="M12 0h1v1h-1zM48 0h1v1h-1zM62 0h1v1h-1zM26 2h1v1h-1zM58 2h1v1h-1zM46 4h1v1h-1zM2 7h1v1h-1zM0 17h1v1h-1zM4 23h1v1h-1zM61 25h1v1h-1zM63 38h1v1h-1zM0 46h1v1h-1zM63 51h1v1h-1zM2 54h1v1h-1zM0 58h1v1h-1zM55 61h1v1h-1zM5 63h1v1h-1zM9 63h1v1h-1zM11 63h1v1h-1zM18 63h1v1h-1zM21 63h1v1h-1zM59 63h1v1h-1z" fill="#848484"/>
<path d="M16 0h1v1h-1zM29 6h1v1h-1zM4 19h1v1h-1zM61 32h1v1h-1zM1 63h1v1h-1zM20 63h1v1h-1z" fill="#8a8a8a"/>
<path d="M36 0h1v1h-1z" fill="#909090"/>
<path d="M35 2h1v1h-1z" fill="#969696"/>
</g>
</svg></body></html>
